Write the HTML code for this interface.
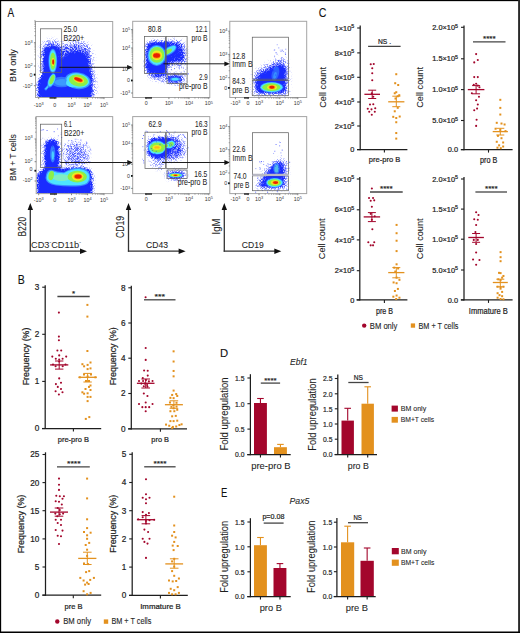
<!DOCTYPE html>
<html><head><meta charset="utf-8"><title>Figure</title>
<style>html,body{margin:0;padding:0;background:#fff;width:520px;height:633px;overflow:hidden}
svg{display:block;font-family:"Liberation Sans", sans-serif}</style></head>
<body><svg width="520" height="633" viewBox="0 0 520 633">
<defs><filter id="bl1" x="-10%" y="-10%" width="120%" height="120%"><feGaussianBlur stdDeviation="0.55"/></filter>
<filter id="spk" x="-20%" y="-20%" width="140%" height="140%" color-interpolation-filters="sRGB">
<feGaussianBlur in="SourceAlpha" stdDeviation="2.0" result="b"/>
<feTurbulence type="fractalNoise" baseFrequency="1.3" numOctaves="1" seed="5" result="n"/>
<feColorMatrix in="n" type="matrix" values="0 0 0 0 0  0 0 0 0 0  0 0 0 0 0  4 0 0 0 -1.5" result="na"/>
<feComposite in="b" in2="na" operator="arithmetic" k1="0" k2="2.0" k3="0.75" k4="-0.78" result="m"/>
<feFlood flood-color="#1a2cff"/>
<feComposite in2="m" operator="in"/>
</filter>
<filter id="spkw" x="-20%" y="-20%" width="140%" height="140%" color-interpolation-filters="sRGB">
<feGaussianBlur in="SourceAlpha" stdDeviation="3.2" result="b"/>
<feTurbulence type="fractalNoise" baseFrequency="1.3" numOctaves="1" seed="9" result="n"/>
<feColorMatrix in="n" type="matrix" values="0 0 0 0 0  0 0 0 0 0  0 0 0 0 0  4 0 0 0 -1.5" result="na"/>
<feComposite in="b" in2="na" operator="arithmetic" k1="0" k2="1.9" k3="0.75" k4="-0.8" result="m"/>
<feFlood flood-color="#1a2cff"/>
<feComposite in2="m" operator="in"/>
</filter>
<filter id="bl2" x="-20%" y="-20%" width="140%" height="140%"><feGaussianBlur stdDeviation="0.9"/></filter></defs>
<rect x="0" y="0" width="520" height="633" fill="#fff"/>
<clipPath id="fc1"><rect x="35.5" y="21.5" width="77.2" height="76"/></clipPath>
<g clip-path="url(#fc1)">
<g filter="url(#spkw)">
<path d="M58,74 L58.5,51 Q62,42 76,41.5 Q90,42 92,52 L92.8,68 Q95,80 95,98 L58,98 Z" fill="#1a2cff" opacity="0.55"/>
<path d="M41.5,74 L41.5,48 Q42.5,40.5 52,40.5 Q61.5,40.5 62,48 L62,74 Z" fill="#1a2cff" opacity="0.55"/>
</g>
<g filter="url(#spk)">
<path d="M62.5,74 L63,60 Q66,51.5 77,51 Q88,51.5 89.2,60 L89.6,70 Q91.5,80 91.8,98 L62.5,98 Z" fill="#1a2cff"/>
<path d="M43.4,74 L43.4,52 Q44,45.5 52,45.5 Q60.4,45.5 60.4,52 L60.4,74 Z" fill="#1a2cff"/>
<path d="M59,74 L59,60 L64,60 L64,74 Z" fill="#1a2cff" opacity="0.8"/>
<path d="M37.6,99 L38,83 Q40.5,75 45,72.5 L92,72.5 L92,99 Z" fill="#1a2cff"/>
</g>
<g filter="url(#bl1)">
<ellipse cx="61.5" cy="82" rx="10.5" ry="5.2" fill="#3a8cff" opacity="0.75"/>
<ellipse cx="62.5" cy="82.3" rx="8" ry="3.4" fill="#4ee4ff" opacity="0.35"/>
<path d="M51,83 Q48,86.5 45,89.8" stroke="#3a8cff" stroke-width="2.6" fill="none" opacity="0.9"/>
<path d="M51,83 Q48,86.5 45.5,89.3" stroke="#4ee4ff" stroke-width="1.3" fill="none" opacity="0.8"/>
<ellipse cx="51.6" cy="80.5" rx="3.4" ry="7.3" fill="#3a8cff" transform="rotate(22 51.6 80.5)"/>
<ellipse cx="51.7" cy="80.2" rx="2.9" ry="6.4" fill="#4ee4ff" transform="rotate(22 51.7 80.2)"/>
<ellipse cx="52" cy="79.6" rx="2" ry="4.9" fill="#8cf046" transform="rotate(20 52 79.6)"/>
<ellipse cx="52.8" cy="61.1" rx="4.4" ry="12.3" fill="#3a8cff"/>
<ellipse cx="52.8" cy="61.1" rx="3.6" ry="11" fill="#4ee4ff"/>
<ellipse cx="52.85" cy="61.1" rx="2.85" ry="8.7" fill="#8cf046"/>
<ellipse cx="53" cy="62" rx="1.55" ry="4.1" fill="#f2ec22"/>
<ellipse cx="53.2" cy="62" rx="1.2" ry="3.1" fill="#ff9410"/>
<ellipse cx="53.2" cy="62" rx="0.9" ry="2.4" fill="#e82400"/>
<ellipse cx="77.8" cy="80.7" rx="13" ry="8.3" fill="#3a8cff" transform="rotate(8 77.8 80.7)"/>
<ellipse cx="77.8" cy="80.6" rx="11.5" ry="7.1" fill="#4ee4ff" transform="rotate(8 77.8 80.6)"/>
<ellipse cx="72.5" cy="83" rx="6.5" ry="4.2" fill="#4ee4ff"/>
<ellipse cx="78.4" cy="80.6" rx="9.6" ry="5.85" fill="#8cf046" transform="rotate(10 78.4 80.6)"/>
<ellipse cx="78.7" cy="79.8" rx="5.6" ry="3" fill="#f2ec22" transform="rotate(18 78.7 79.8)"/>
<ellipse cx="78.5" cy="79.6" rx="4.8" ry="2.2" fill="#ff9410" transform="rotate(20 78.5 79.6)"/>
<ellipse cx="78.3" cy="79.5" rx="4.2" ry="1.6" fill="#e82400" transform="rotate(20 78.3 79.5)"/>
</g>
</g>
<rect x="35.5" y="21.5" width="77.2" height="76" fill="none" stroke="#a4a4a4" stroke-width="1.0"/>
<rect x="40.5" y="28.8" width="21.2" height="43.5" fill="none" stroke="#626262" stroke-width="0.75"/>
<line x1="33.9" y1="42.7" x2="35.5" y2="42.7" stroke="#555" stroke-width="0.7"/>
<line x1="33.9" y1="66" x2="35.5" y2="66" stroke="#555" stroke-width="0.7"/>
<line x1="33.9" y1="75" x2="35.5" y2="75" stroke="#555" stroke-width="0.7"/>
<line x1="33.9" y1="85.7" x2="35.5" y2="85.7" stroke="#555" stroke-width="0.7"/>
<line x1="38.7" y1="97.5" x2="38.7" y2="99.1" stroke="#555" stroke-width="0.7"/>
<line x1="54.7" y1="97.5" x2="54.7" y2="99.1" stroke="#555" stroke-width="0.7"/>
<line x1="71.5" y1="97.5" x2="71.5" y2="99.1" stroke="#555" stroke-width="0.7"/>
<line x1="87.6" y1="97.5" x2="87.6" y2="99.1" stroke="#555" stroke-width="0.7"/>
<line x1="104" y1="97.5" x2="104" y2="99.1" stroke="#555" stroke-width="0.7"/>
<line x1="34.4" y1="58.99" x2="35.5" y2="58.99" stroke="#666" stroke-width="0.6"/>
<line x1="34.4" y1="54.88" x2="35.5" y2="54.88" stroke="#666" stroke-width="0.6"/>
<line x1="34.4" y1="51.97" x2="35.5" y2="51.97" stroke="#666" stroke-width="0.6"/>
<line x1="34.4" y1="49.71" x2="35.5" y2="49.71" stroke="#666" stroke-width="0.6"/>
<line x1="34.4" y1="47.87" x2="35.5" y2="47.87" stroke="#666" stroke-width="0.6"/>
<line x1="34.4" y1="46.31" x2="35.5" y2="46.31" stroke="#666" stroke-width="0.6"/>
<line x1="34.4" y1="44.96" x2="35.5" y2="44.96" stroke="#666" stroke-width="0.6"/>
<line x1="34.4" y1="43.77" x2="35.5" y2="43.77" stroke="#666" stroke-width="0.6"/>
<line x1="34.4" y1="35.69" x2="35.5" y2="35.69" stroke="#666" stroke-width="0.6"/>
<line x1="34.4" y1="31.58" x2="35.5" y2="31.58" stroke="#666" stroke-width="0.6"/>
<line x1="34.4" y1="28.67" x2="35.5" y2="28.67" stroke="#666" stroke-width="0.6"/>
<line x1="34.4" y1="26.41" x2="35.5" y2="26.41" stroke="#666" stroke-width="0.6"/>
<line x1="34.4" y1="24.57" x2="35.5" y2="24.57" stroke="#666" stroke-width="0.6"/>
<line x1="34.4" y1="23.01" x2="35.5" y2="23.01" stroke="#666" stroke-width="0.6"/>
<line x1="34.4" y1="21.66" x2="35.5" y2="21.66" stroke="#666" stroke-width="0.6"/>
<line x1="34.4" y1="20.47" x2="35.5" y2="20.47" stroke="#666" stroke-width="0.6"/>
<line x1="76.35" y1="97.5" x2="76.35" y2="98.6" stroke="#666" stroke-width="0.6"/>
<line x1="79.18" y1="97.5" x2="79.18" y2="98.6" stroke="#666" stroke-width="0.6"/>
<line x1="81.19" y1="97.5" x2="81.19" y2="98.6" stroke="#666" stroke-width="0.6"/>
<line x1="82.75" y1="97.5" x2="82.75" y2="98.6" stroke="#666" stroke-width="0.6"/>
<line x1="84.03" y1="97.5" x2="84.03" y2="98.6" stroke="#666" stroke-width="0.6"/>
<line x1="85.11" y1="97.5" x2="85.11" y2="98.6" stroke="#666" stroke-width="0.6"/>
<line x1="86.04" y1="97.5" x2="86.04" y2="98.6" stroke="#666" stroke-width="0.6"/>
<line x1="86.86" y1="97.5" x2="86.86" y2="98.6" stroke="#666" stroke-width="0.6"/>
<line x1="92.54" y1="97.5" x2="92.54" y2="98.6" stroke="#666" stroke-width="0.6"/>
<line x1="95.42" y1="97.5" x2="95.42" y2="98.6" stroke="#666" stroke-width="0.6"/>
<line x1="97.47" y1="97.5" x2="97.47" y2="98.6" stroke="#666" stroke-width="0.6"/>
<line x1="99.06" y1="97.5" x2="99.06" y2="98.6" stroke="#666" stroke-width="0.6"/>
<line x1="100.36" y1="97.5" x2="100.36" y2="98.6" stroke="#666" stroke-width="0.6"/>
<line x1="101.46" y1="97.5" x2="101.46" y2="98.6" stroke="#666" stroke-width="0.6"/>
<line x1="102.41" y1="97.5" x2="102.41" y2="98.6" stroke="#666" stroke-width="0.6"/>
<line x1="103.25" y1="97.5" x2="103.25" y2="98.6" stroke="#666" stroke-width="0.6"/>
<rect x="33.8" y="73.7" width="1.6" height="1.8" fill="#111"/>
<rect x="49.5" y="97.2" width="7" height="1.4" fill="#222"/>
<text x="70.35" y="32" font-size="8.3" text-anchor="middle" fill="#1e1e1e" textLength="13.7" lengthAdjust="spacingAndGlyphs" stroke="#1e1e1e" stroke-width="0.06" style="">25.0</text>
<text x="73.85" y="40.9" font-size="8.3" text-anchor="middle" fill="#1e1e1e" textLength="20.7" lengthAdjust="spacingAndGlyphs" stroke="#1e1e1e" stroke-width="0.06" style="">B220+</text>
<text x="32.5" y="44.71" font-size="5.3" text-anchor="end" fill="#333">10<tspan font-size="0.72em" dy="-0.45em">3</tspan></text>
<text x="32.5" y="68.01" font-size="5.3" text-anchor="end" fill="#333">10<tspan font-size="0.72em" dy="-0.45em">2</tspan></text>
<text x="32.5" y="77.01" font-size="5.3" text-anchor="end" fill="#333">0</text>
<text x="32.5" y="87.71" font-size="5.3" text-anchor="end" fill="#333">-10<tspan font-size="0.72em" dy="-0.45em">2</tspan></text>
<text x="38.7" y="106.56" font-size="5.3" text-anchor="middle" fill="#333">-10<tspan font-size="0.72em" dy="-0.45em">3</tspan></text>
<text x="54.7" y="106.56" font-size="5.3" text-anchor="middle" fill="#333">0</text>
<text x="71.5" y="106.56" font-size="5.3" text-anchor="middle" fill="#333">10<tspan font-size="0.72em" dy="-0.45em">3</tspan></text>
<text x="87.6" y="106.56" font-size="5.3" text-anchor="middle" fill="#333">10<tspan font-size="0.72em" dy="-0.45em">4</tspan></text>
<text x="104" y="106.56" font-size="5.3" text-anchor="middle" fill="#333">10<tspan font-size="0.72em" dy="-0.45em">5</tspan></text>
<line x1="59.4" y1="67.3" x2="128.1" y2="67.3" stroke="#111" stroke-width="0.95"/>
<path d="M132.6 67.3L127.1 64.9L127.1 69.7z" fill="#111"/>
<clipPath id="fc2"><rect x="132.7" y="21.3" width="77.1" height="76.2"/></clipPath>
<g clip-path="url(#fc2)">
<g filter="url(#spkw)">
<path d="M166,60 L166,43.5 Q170,41 178,41.5 Q183.5,42.5 184.5,50 L185,62 Q180,64 166,62 Z" fill="#1a2cff" opacity="0.92"/>
<path d="M148,74 Q152,78.5 160,78.5 Q165,78 167,74 L160,70 Z" fill="#1a2cff"/>
<ellipse cx="175.5" cy="79" rx="9.3" ry="3.6" fill="#1a2cff"/>
</g>
<g filter="url(#spk)">
<path d="M146,48.5 Q146.4,42 153,41.8 L166,41.8 L172,43 L172,60 L167,66 L166.5,74 L150,74 Q146,73 146,66 Z" fill="#1a2cff"/>
<ellipse cx="175.4" cy="79" rx="8.2" ry="2.9" fill="#1a2cff"/>
</g>
<g filter="url(#bl1)">
<ellipse cx="175.1" cy="79.2" rx="5.6" ry="2" fill="#3a8cff"/>
<ellipse cx="175.1" cy="79.2" rx="3.5" ry="1.15" fill="#4ee4ff"/>
<ellipse cx="169.5" cy="50.5" rx="8" ry="3.8" fill="#3a8cff" transform="rotate(-33 169.5 50.5)"/>
<ellipse cx="169.8" cy="50.2" rx="6.8" ry="2.8" fill="#4ee4ff" transform="rotate(-33 169.8 50.2)"/>
<ellipse cx="168" cy="51.6" rx="4.6" ry="1.9" fill="#8cf046" transform="rotate(-33 168 51.6)"/>
<ellipse cx="156.7" cy="55.4" rx="9.3" ry="10.5" fill="#3a8cff"/>
<ellipse cx="156.7" cy="55.4" rx="8.2" ry="9.5" fill="#4ee4ff"/>
<ellipse cx="156.9" cy="54.9" rx="7.4" ry="7.9" fill="#8cf046"/>
<ellipse cx="156.9" cy="55.4" rx="5.3" ry="4.8" fill="#f2ec22"/>
<ellipse cx="156.7" cy="55.5" rx="4" ry="3.1" fill="#ff9410"/>
<ellipse cx="156.6" cy="55.5" rx="3.4" ry="2.2" fill="#e82400"/>
</g>
<rect x="173.12" y="60.72" width="0.9" height="0.9" fill="#1a2cff" opacity="0.71"/>
<rect x="167.59" y="67.65" width="0.9" height="0.9" fill="#1a2cff" opacity="0.55"/>
<rect x="167.28" y="67.13" width="0.9" height="0.9" fill="#1a2cff" opacity="0.37"/>
<rect x="175.54" y="59.26" width="0.9" height="0.9" fill="#1a2cff" opacity="0.4"/>
<rect x="175.34" y="72.88" width="0.9" height="0.9" fill="#1a2cff" opacity="0.42"/>
<rect x="170.91" y="69.29" width="0.9" height="0.9" fill="#1a2cff" opacity="0.87"/>
<rect x="178.7" y="65.14" width="0.9" height="0.9" fill="#1a2cff" opacity="0.89"/>
<rect x="167.02" y="73.45" width="0.9" height="0.9" fill="#1a2cff" opacity="0.51"/>
<rect x="169.17" y="60.12" width="0.9" height="0.9" fill="#1a2cff" opacity="0.52"/>
<rect x="183.95" y="61.25" width="0.9" height="0.9" fill="#1a2cff" opacity="0.67"/>
<rect x="180.06" y="64.7" width="0.9" height="0.9" fill="#1a2cff" opacity="0.65"/>
<rect x="167.38" y="59.07" width="0.9" height="0.9" fill="#1a2cff" opacity="0.46"/>
<rect x="180.97" y="65.7" width="0.9" height="0.9" fill="#1a2cff" opacity="0.52"/>
<rect x="178.88" y="66.16" width="0.9" height="0.9" fill="#1a2cff" opacity="0.51"/>
<rect x="183.48" y="70.58" width="0.9" height="0.9" fill="#1a2cff" opacity="0.48"/>
<rect x="178.64" y="67.45" width="0.9" height="0.9" fill="#1a2cff" opacity="0.83"/>
<rect x="182.05" y="63.18" width="0.9" height="0.9" fill="#1a2cff" opacity="0.89"/>
<rect x="168.6" y="65.53" width="0.9" height="0.9" fill="#1a2cff" opacity="0.77"/>
<rect x="169.34" y="66.8" width="0.9" height="0.9" fill="#1a2cff" opacity="0.37"/>
<rect x="180.7" y="71.76" width="0.9" height="0.9" fill="#1a2cff" opacity="0.67"/>
<rect x="185.26" y="63.65" width="0.9" height="0.9" fill="#1a2cff" opacity="0.73"/>
<rect x="179.08" y="68.44" width="0.9" height="0.9" fill="#1a2cff" opacity="0.6"/>
<rect x="184.48" y="75" width="0.9" height="0.9" fill="#1a2cff" opacity="0.61"/>
<rect x="180.61" y="59.09" width="0.9" height="0.9" fill="#1a2cff" opacity="0.74"/>
<rect x="180.24" y="75.88" width="0.9" height="0.9" fill="#1a2cff" opacity="0.8"/>
<rect x="172.26" y="64.94" width="0.9" height="0.9" fill="#1a2cff" opacity="0.72"/>
<rect x="166.5" y="66.31" width="0.9" height="0.9" fill="#1a2cff" opacity="0.44"/>
<rect x="168.58" y="59.06" width="0.9" height="0.9" fill="#1a2cff" opacity="0.77"/>
<rect x="168.85" y="62.46" width="0.9" height="0.9" fill="#1a2cff" opacity="0.57"/>
<rect x="185.17" y="59.45" width="0.9" height="0.9" fill="#1a2cff" opacity="0.6"/>
<rect x="178.09" y="73.9" width="0.9" height="0.9" fill="#1a2cff" opacity="0.8"/>
<rect x="185.01" y="63.01" width="0.9" height="0.9" fill="#1a2cff" opacity="0.58"/>
<rect x="173.89" y="73.92" width="0.9" height="0.9" fill="#1a2cff" opacity="0.88"/>
<rect x="169.32" y="61.17" width="0.9" height="0.9" fill="#1a2cff" opacity="0.48"/>
<rect x="171.13" y="66.73" width="0.9" height="0.9" fill="#1a2cff" opacity="0.67"/>
<rect x="171.78" y="58.07" width="0.9" height="0.9" fill="#1a2cff" opacity="0.58"/>
<rect x="174.12" y="68.19" width="0.9" height="0.9" fill="#1a2cff" opacity="0.87"/>
<rect x="181.19" y="67.28" width="0.9" height="0.9" fill="#1a2cff" opacity="0.69"/>
<rect x="180.88" y="58.97" width="0.9" height="0.9" fill="#1a2cff" opacity="0.84"/>
<rect x="183.16" y="73.74" width="0.9" height="0.9" fill="#1a2cff" opacity="0.79"/>
<rect x="174.63" y="65.18" width="0.9" height="0.9" fill="#1a2cff" opacity="0.41"/>
<rect x="179.95" y="59.12" width="0.9" height="0.9" fill="#1a2cff" opacity="0.39"/>
<rect x="170.59" y="60.92" width="0.9" height="0.9" fill="#1a2cff" opacity="0.54"/>
<rect x="167.16" y="58" width="0.9" height="0.9" fill="#1a2cff" opacity="0.43"/>
<rect x="168.23" y="64.54" width="0.9" height="0.9" fill="#1a2cff" opacity="0.36"/>
<rect x="185.24" y="69.05" width="0.9" height="0.9" fill="#1a2cff" opacity="0.43"/>
<rect x="171.55" y="64.25" width="0.9" height="0.9" fill="#1a2cff" opacity="0.55"/>
<rect x="168.7" y="73.28" width="0.9" height="0.9" fill="#1a2cff" opacity="0.9"/>
<rect x="176.25" y="66.71" width="0.9" height="0.9" fill="#1a2cff" opacity="0.4"/>
<rect x="168.25" y="64.17" width="0.9" height="0.9" fill="#1a2cff" opacity="0.5"/>
<rect x="184.23" y="60.91" width="0.9" height="0.9" fill="#1a2cff" opacity="0.36"/>
<rect x="186.92" y="67.51" width="0.9" height="0.9" fill="#1a2cff" opacity="0.43"/>
<rect x="177.95" y="58.49" width="0.9" height="0.9" fill="#1a2cff" opacity="0.64"/>
<rect x="187.53" y="73.54" width="0.9" height="0.9" fill="#1a2cff" opacity="0.73"/>
<rect x="171.74" y="64.6" width="0.9" height="0.9" fill="#1a2cff" opacity="0.44"/>
<rect x="182.98" y="67.59" width="0.9" height="0.9" fill="#1a2cff" opacity="0.78"/>
<rect x="173.25" y="62.01" width="0.9" height="0.9" fill="#1a2cff" opacity="0.8"/>
<rect x="187.67" y="73.35" width="0.9" height="0.9" fill="#1a2cff" opacity="0.79"/>
<rect x="184" y="71.32" width="0.9" height="0.9" fill="#1a2cff" opacity="0.47"/>
<rect x="177.39" y="64.4" width="0.9" height="0.9" fill="#1a2cff" opacity="0.37"/>
<rect x="148.61" y="74.79" width="0.9" height="0.9" fill="#1a2cff" opacity="0.49"/>
<rect x="163.24" y="81.57" width="0.9" height="0.9" fill="#1a2cff" opacity="0.6"/>
<rect x="168.61" y="81.88" width="0.9" height="0.9" fill="#1a2cff" opacity="0.88"/>
<rect x="156.02" y="74.2" width="0.9" height="0.9" fill="#1a2cff" opacity="0.47"/>
<rect x="152.33" y="74.04" width="0.9" height="0.9" fill="#1a2cff" opacity="0.69"/>
<rect x="167.81" y="80.4" width="0.9" height="0.9" fill="#1a2cff" opacity="0.61"/>
<rect x="162.37" y="80" width="0.9" height="0.9" fill="#1a2cff" opacity="0.4"/>
<rect x="162.53" y="81.1" width="0.9" height="0.9" fill="#1a2cff" opacity="0.78"/>
<rect x="164.5" y="76.78" width="0.9" height="0.9" fill="#1a2cff" opacity="0.45"/>
<rect x="165.36" y="75.33" width="0.9" height="0.9" fill="#1a2cff" opacity="0.79"/>
<rect x="169.38" y="75.96" width="0.9" height="0.9" fill="#1a2cff" opacity="0.57"/>
<rect x="168.83" y="79.25" width="0.9" height="0.9" fill="#1a2cff" opacity="0.44"/>
<rect x="150.79" y="73.51" width="0.9" height="0.9" fill="#1a2cff" opacity="0.85"/>
<rect x="165.74" y="73.46" width="0.9" height="0.9" fill="#1a2cff" opacity="0.8"/>
<rect x="169.57" y="78.57" width="0.9" height="0.9" fill="#1a2cff" opacity="0.54"/>
<rect x="160.07" y="73.31" width="0.9" height="0.9" fill="#1a2cff" opacity="0.36"/>
<rect x="169.36" y="78.5" width="0.9" height="0.9" fill="#1a2cff" opacity="0.64"/>
<rect x="168.54" y="76.34" width="0.9" height="0.9" fill="#1a2cff" opacity="0.83"/>
<rect x="166.18" y="74.11" width="0.9" height="0.9" fill="#1a2cff" opacity="0.49"/>
<rect x="154.45" y="74.41" width="0.9" height="0.9" fill="#1a2cff" opacity="0.67"/>
<rect x="153.71" y="76.19" width="0.9" height="0.9" fill="#1a2cff" opacity="0.42"/>
<rect x="168.02" y="75.54" width="0.9" height="0.9" fill="#1a2cff" opacity="0.6"/>
<rect x="160.83" y="81.04" width="0.9" height="0.9" fill="#1a2cff" opacity="0.58"/>
<rect x="168.19" y="77.02" width="0.9" height="0.9" fill="#1a2cff" opacity="0.64"/>
<rect x="159.52" y="72.19" width="0.9" height="0.9" fill="#1a2cff" opacity="0.59"/>
<rect x="152.03" y="72.04" width="0.9" height="0.9" fill="#1a2cff" opacity="0.79"/>
<rect x="151.79" y="76.73" width="0.9" height="0.9" fill="#1a2cff" opacity="0.75"/>
<rect x="160.24" y="75.26" width="0.9" height="0.9" fill="#1a2cff" opacity="0.64"/>
<rect x="160.22" y="79.84" width="0.9" height="0.9" fill="#1a2cff" opacity="0.41"/>
<rect x="160.33" y="74.48" width="0.9" height="0.9" fill="#1a2cff" opacity="0.5"/>
</g>
<rect x="132.7" y="21.3" width="77.1" height="76.2" fill="none" stroke="#a4a4a4" stroke-width="1.0"/>
<rect x="144.6" y="36.6" width="20.9" height="36.9" fill="none" stroke="#626262" stroke-width="0.75"/>
<rect x="166.2" y="36.6" width="20.9" height="36.9" fill="none" stroke="#626262" stroke-width="0.75"/>
<rect x="167" y="74.3" width="20.1" height="9.1" fill="none" stroke="#626262" stroke-width="0.75"/>
<line x1="131.1" y1="29.6" x2="132.7" y2="29.6" stroke="#555" stroke-width="0.7"/>
<line x1="131.1" y1="48" x2="132.7" y2="48" stroke="#555" stroke-width="0.7"/>
<line x1="131.1" y1="68.9" x2="132.7" y2="68.9" stroke="#555" stroke-width="0.7"/>
<line x1="131.1" y1="80.4" x2="132.7" y2="80.4" stroke="#555" stroke-width="0.7"/>
<line x1="131.1" y1="93" x2="132.7" y2="93" stroke="#555" stroke-width="0.7"/>
<line x1="146.2" y1="97.5" x2="146.2" y2="99.1" stroke="#555" stroke-width="0.7"/>
<line x1="168.9" y1="97.5" x2="168.9" y2="99.1" stroke="#555" stroke-width="0.7"/>
<line x1="189" y1="97.5" x2="189" y2="99.1" stroke="#555" stroke-width="0.7"/>
<line x1="208.8" y1="97.5" x2="208.8" y2="99.1" stroke="#555" stroke-width="0.7"/>
<line x1="131.6" y1="62.61" x2="132.7" y2="62.61" stroke="#666" stroke-width="0.6"/>
<line x1="131.6" y1="58.93" x2="132.7" y2="58.93" stroke="#666" stroke-width="0.6"/>
<line x1="131.6" y1="56.32" x2="132.7" y2="56.32" stroke="#666" stroke-width="0.6"/>
<line x1="131.6" y1="54.29" x2="132.7" y2="54.29" stroke="#666" stroke-width="0.6"/>
<line x1="131.6" y1="52.64" x2="132.7" y2="52.64" stroke="#666" stroke-width="0.6"/>
<line x1="131.6" y1="51.24" x2="132.7" y2="51.24" stroke="#666" stroke-width="0.6"/>
<line x1="131.6" y1="50.03" x2="132.7" y2="50.03" stroke="#666" stroke-width="0.6"/>
<line x1="131.6" y1="48.96" x2="132.7" y2="48.96" stroke="#666" stroke-width="0.6"/>
<line x1="131.6" y1="42.46" x2="132.7" y2="42.46" stroke="#666" stroke-width="0.6"/>
<line x1="131.6" y1="39.22" x2="132.7" y2="39.22" stroke="#666" stroke-width="0.6"/>
<line x1="131.6" y1="36.92" x2="132.7" y2="36.92" stroke="#666" stroke-width="0.6"/>
<line x1="131.6" y1="35.14" x2="132.7" y2="35.14" stroke="#666" stroke-width="0.6"/>
<line x1="131.6" y1="33.68" x2="132.7" y2="33.68" stroke="#666" stroke-width="0.6"/>
<line x1="131.6" y1="32.45" x2="132.7" y2="32.45" stroke="#666" stroke-width="0.6"/>
<line x1="131.6" y1="31.38" x2="132.7" y2="31.38" stroke="#666" stroke-width="0.6"/>
<line x1="131.6" y1="30.44" x2="132.7" y2="30.44" stroke="#666" stroke-width="0.6"/>
<line x1="174.95" y1="97.5" x2="174.95" y2="98.6" stroke="#666" stroke-width="0.6"/>
<line x1="178.49" y1="97.5" x2="178.49" y2="98.6" stroke="#666" stroke-width="0.6"/>
<line x1="181" y1="97.5" x2="181" y2="98.6" stroke="#666" stroke-width="0.6"/>
<line x1="182.95" y1="97.5" x2="182.95" y2="98.6" stroke="#666" stroke-width="0.6"/>
<line x1="184.54" y1="97.5" x2="184.54" y2="98.6" stroke="#666" stroke-width="0.6"/>
<line x1="185.89" y1="97.5" x2="185.89" y2="98.6" stroke="#666" stroke-width="0.6"/>
<line x1="187.05" y1="97.5" x2="187.05" y2="98.6" stroke="#666" stroke-width="0.6"/>
<line x1="188.08" y1="97.5" x2="188.08" y2="98.6" stroke="#666" stroke-width="0.6"/>
<line x1="194.96" y1="97.5" x2="194.96" y2="98.6" stroke="#666" stroke-width="0.6"/>
<line x1="198.45" y1="97.5" x2="198.45" y2="98.6" stroke="#666" stroke-width="0.6"/>
<line x1="200.92" y1="97.5" x2="200.92" y2="98.6" stroke="#666" stroke-width="0.6"/>
<line x1="202.84" y1="97.5" x2="202.84" y2="98.6" stroke="#666" stroke-width="0.6"/>
<line x1="204.41" y1="97.5" x2="204.41" y2="98.6" stroke="#666" stroke-width="0.6"/>
<line x1="205.73" y1="97.5" x2="205.73" y2="98.6" stroke="#666" stroke-width="0.6"/>
<line x1="206.88" y1="97.5" x2="206.88" y2="98.6" stroke="#666" stroke-width="0.6"/>
<line x1="207.89" y1="97.5" x2="207.89" y2="98.6" stroke="#666" stroke-width="0.6"/>
<rect x="131" y="79.6" width="1.6" height="1.8" fill="#111"/>
<rect x="145" y="97.2" width="7" height="1.4" fill="#222"/>
<text x="154.6" y="32.3" font-size="8.3" text-anchor="middle" fill="#1e1e1e" textLength="13.2" lengthAdjust="spacingAndGlyphs" stroke="#1e1e1e" stroke-width="0.06" style="">80.8</text>
<text x="201.5" y="32.3" font-size="8.3" text-anchor="middle" fill="#1e1e1e" textLength="12.2" lengthAdjust="spacingAndGlyphs" stroke="#1e1e1e" stroke-width="0.06" style="">12.1</text>
<text x="199.6" y="40.8" font-size="8.3" text-anchor="middle" fill="#1e1e1e" textLength="16" lengthAdjust="spacingAndGlyphs" stroke="#1e1e1e" stroke-width="0.06" style="">pro B</text>
<text x="203.3" y="80.2" font-size="8.3" text-anchor="middle" fill="#1e1e1e" textLength="8.6" lengthAdjust="spacingAndGlyphs" stroke="#1e1e1e" stroke-width="0.06" style="">2.9</text>
<text x="193.3" y="89.1" font-size="8.3" text-anchor="middle" fill="#1e1e1e" textLength="28.6" lengthAdjust="spacingAndGlyphs" stroke="#1e1e1e" stroke-width="0.06" style="">pre-pro B</text>
<text x="130" y="31.61" font-size="5.3" text-anchor="end" fill="#333">10<tspan font-size="0.72em" dy="-0.45em">5</tspan></text>
<text x="130" y="50.01" font-size="5.3" text-anchor="end" fill="#333">10<tspan font-size="0.72em" dy="-0.45em">4</tspan></text>
<text x="130" y="70.91" font-size="5.3" text-anchor="end" fill="#333">10<tspan font-size="0.72em" dy="-0.45em">3</tspan></text>
<text x="130" y="82.41" font-size="5.3" text-anchor="end" fill="#333">0</text>
<text x="130" y="95.01" font-size="5.3" text-anchor="end" fill="#333">-10<tspan font-size="0.72em" dy="-0.45em">3</tspan></text>
<text x="146.2" y="105.36" font-size="5.3" text-anchor="middle" fill="#333">0</text>
<text x="168.9" y="105.36" font-size="5.3" text-anchor="middle" fill="#333">10<tspan font-size="0.72em" dy="-0.45em">3</tspan></text>
<text x="189" y="105.36" font-size="5.3" text-anchor="middle" fill="#333">10<tspan font-size="0.72em" dy="-0.45em">4</tspan></text>
<text x="208.8" y="105.36" font-size="5.3" text-anchor="middle" fill="#333">10<tspan font-size="0.72em" dy="-0.45em">5</tspan></text>
<line x1="163.5" y1="63.8" x2="225.4" y2="63.8" stroke="#111" stroke-width="0.95"/>
<path d="M229.9 63.8L224.4 61.4L224.4 66.2z" fill="#111"/>
<clipPath id="fc3"><rect x="229.8" y="21.3" width="76.9" height="76.2"/></clipPath>
<g clip-path="url(#fc3)">
<g filter="url(#spkw)">
<path d="M253.8,94.5 L253.8,73.5 Q262,67 278.5,59.5 L283.5,59 Q287.8,60 287.8,68 L287.8,94.5 Z" fill="#1a2cff" opacity="0.6"/>
</g>
<g filter="url(#spk)">
<path d="M256.5,93 L256.5,78 Q263,72 278,65 L282,64.5 Q285.3,65.5 285.3,70 L285.3,93 Z" fill="#1a2cff"/>
</g>
<g filter="url(#bl1)">
<ellipse cx="275.4" cy="73.6" rx="3.6" ry="7.4" fill="#3a8cff" transform="rotate(14 275.4 73.6)" opacity="0.55"/>
<ellipse cx="275" cy="75.5" rx="1.6" ry="3.6" fill="#4ee4ff" transform="rotate(14 275 75.5)" opacity="0.35"/>
<ellipse cx="271.6" cy="87.2" rx="11.6" ry="5.2" fill="#3a8cff"/>
<ellipse cx="271.6" cy="87.2" rx="10.8" ry="4.7" fill="#4ee4ff"/>
<ellipse cx="271.4" cy="87.2" rx="9" ry="3.9" fill="#8cf046"/>
<ellipse cx="272.1" cy="87.2" rx="4.9" ry="2.5" fill="#f2ec22"/>
<ellipse cx="272" cy="87.2" rx="3.3" ry="1.9" fill="#ff9410"/>
<ellipse cx="271.9" cy="87.2" rx="2.5" ry="1.45" fill="#e82400"/>
</g>
<rect x="282.81" y="51.17" width="0.9" height="0.9" fill="#1a2cff" opacity="0.66"/>
<rect x="282.64" y="60.07" width="0.9" height="0.9" fill="#1a2cff" opacity="0.59"/>
<rect x="280.58" y="51.12" width="0.9" height="0.9" fill="#1a2cff" opacity="0.63"/>
<rect x="281.7" y="49.95" width="0.9" height="0.9" fill="#1a2cff" opacity="0.64"/>
<rect x="278.69" y="60.71" width="0.9" height="0.9" fill="#1a2cff" opacity="0.73"/>
<rect x="275.63" y="52.31" width="0.9" height="0.9" fill="#1a2cff" opacity="0.87"/>
<rect x="273.7" y="49.73" width="0.9" height="0.9" fill="#1a2cff" opacity="0.39"/>
<rect x="281.37" y="57.25" width="0.9" height="0.9" fill="#1a2cff" opacity="0.84"/>
<rect x="274.16" y="55.75" width="0.9" height="0.9" fill="#1a2cff" opacity="0.71"/>
<rect x="285.34" y="48.76" width="0.9" height="0.9" fill="#1a2cff" opacity="0.62"/>
<rect x="274.26" y="49.49" width="0.9" height="0.9" fill="#1a2cff" opacity="0.63"/>
<rect x="276.75" y="44.31" width="0.9" height="0.9" fill="#1a2cff" opacity="0.53"/>
<rect x="279.76" y="49.69" width="0.9" height="0.9" fill="#1a2cff" opacity="0.36"/>
<rect x="276.64" y="53.73" width="0.9" height="0.9" fill="#1a2cff" opacity="0.63"/>
<rect x="277.91" y="60.05" width="0.9" height="0.9" fill="#1a2cff" opacity="0.8"/>
<rect x="284.87" y="52.55" width="0.9" height="0.9" fill="#1a2cff" opacity="0.74"/>
<rect x="281.63" y="49.36" width="0.9" height="0.9" fill="#1a2cff" opacity="0.39"/>
<rect x="285.14" y="53.96" width="0.9" height="0.9" fill="#1a2cff" opacity="0.79"/>
<rect x="278.35" y="47.46" width="0.9" height="0.9" fill="#1a2cff" opacity="0.65"/>
<rect x="274.46" y="64.02" width="0.9" height="0.9" fill="#1a2cff" opacity="0.42"/>
<rect x="270.39" y="68.27" width="0.9" height="0.9" fill="#1a2cff" opacity="0.45"/>
<rect x="264.97" y="74.02" width="0.9" height="0.9" fill="#1a2cff" opacity="0.41"/>
<rect x="272.2" y="66.48" width="0.9" height="0.9" fill="#1a2cff" opacity="0.62"/>
<rect x="272.53" y="65.9" width="0.9" height="0.9" fill="#1a2cff" opacity="0.63"/>
<rect x="269.44" y="74.74" width="0.9" height="0.9" fill="#1a2cff" opacity="0.54"/>
<rect x="272.48" y="70.6" width="0.9" height="0.9" fill="#1a2cff" opacity="0.7"/>
<rect x="273.28" y="70.06" width="0.9" height="0.9" fill="#1a2cff" opacity="0.51"/>
<rect x="275.2" y="74.59" width="0.9" height="0.9" fill="#1a2cff" opacity="0.65"/>
</g>
<rect x="229.8" y="21.3" width="76.9" height="76.2" fill="none" stroke="#a4a4a4" stroke-width="1.0"/>
<rect x="252.3" y="37.2" width="36.2" height="42" fill="none" stroke="#626262" stroke-width="0.75"/>
<rect x="252.3" y="80.4" width="36.2" height="15.3" fill="none" stroke="#626262" stroke-width="0.75"/>
<line x1="228.2" y1="31.2" x2="229.8" y2="31.2" stroke="#555" stroke-width="0.7"/>
<line x1="228.2" y1="54.4" x2="229.8" y2="54.4" stroke="#555" stroke-width="0.7"/>
<line x1="228.2" y1="77.7" x2="229.8" y2="77.7" stroke="#555" stroke-width="0.7"/>
<line x1="228.2" y1="87.8" x2="229.8" y2="87.8" stroke="#555" stroke-width="0.7"/>
<line x1="235.4" y1="97.5" x2="235.4" y2="99.1" stroke="#555" stroke-width="0.7"/>
<line x1="248" y1="97.5" x2="248" y2="99.1" stroke="#555" stroke-width="0.7"/>
<line x1="259" y1="97.5" x2="259" y2="99.1" stroke="#555" stroke-width="0.7"/>
<line x1="279.8" y1="97.5" x2="279.8" y2="99.1" stroke="#555" stroke-width="0.7"/>
<line x1="297.8" y1="97.5" x2="297.8" y2="99.1" stroke="#555" stroke-width="0.7"/>
<line x1="228.7" y1="70.69" x2="229.8" y2="70.69" stroke="#666" stroke-width="0.6"/>
<line x1="228.7" y1="66.58" x2="229.8" y2="66.58" stroke="#666" stroke-width="0.6"/>
<line x1="228.7" y1="63.67" x2="229.8" y2="63.67" stroke="#666" stroke-width="0.6"/>
<line x1="228.7" y1="61.41" x2="229.8" y2="61.41" stroke="#666" stroke-width="0.6"/>
<line x1="228.7" y1="59.57" x2="229.8" y2="59.57" stroke="#666" stroke-width="0.6"/>
<line x1="228.7" y1="58.01" x2="229.8" y2="58.01" stroke="#666" stroke-width="0.6"/>
<line x1="228.7" y1="56.66" x2="229.8" y2="56.66" stroke="#666" stroke-width="0.6"/>
<line x1="228.7" y1="55.47" x2="229.8" y2="55.47" stroke="#666" stroke-width="0.6"/>
<line x1="228.7" y1="47.42" x2="229.8" y2="47.42" stroke="#666" stroke-width="0.6"/>
<line x1="228.7" y1="43.33" x2="229.8" y2="43.33" stroke="#666" stroke-width="0.6"/>
<line x1="228.7" y1="40.43" x2="229.8" y2="40.43" stroke="#666" stroke-width="0.6"/>
<line x1="228.7" y1="38.18" x2="229.8" y2="38.18" stroke="#666" stroke-width="0.6"/>
<line x1="228.7" y1="36.35" x2="229.8" y2="36.35" stroke="#666" stroke-width="0.6"/>
<line x1="228.7" y1="34.79" x2="229.8" y2="34.79" stroke="#666" stroke-width="0.6"/>
<line x1="228.7" y1="33.45" x2="229.8" y2="33.45" stroke="#666" stroke-width="0.6"/>
<line x1="228.7" y1="32.26" x2="229.8" y2="32.26" stroke="#666" stroke-width="0.6"/>
<line x1="265.26" y1="97.5" x2="265.26" y2="98.6" stroke="#666" stroke-width="0.6"/>
<line x1="268.92" y1="97.5" x2="268.92" y2="98.6" stroke="#666" stroke-width="0.6"/>
<line x1="271.52" y1="97.5" x2="271.52" y2="98.6" stroke="#666" stroke-width="0.6"/>
<line x1="273.54" y1="97.5" x2="273.54" y2="98.6" stroke="#666" stroke-width="0.6"/>
<line x1="275.19" y1="97.5" x2="275.19" y2="98.6" stroke="#666" stroke-width="0.6"/>
<line x1="276.58" y1="97.5" x2="276.58" y2="98.6" stroke="#666" stroke-width="0.6"/>
<line x1="277.78" y1="97.5" x2="277.78" y2="98.6" stroke="#666" stroke-width="0.6"/>
<line x1="278.85" y1="97.5" x2="278.85" y2="98.6" stroke="#666" stroke-width="0.6"/>
<line x1="285.22" y1="97.5" x2="285.22" y2="98.6" stroke="#666" stroke-width="0.6"/>
<line x1="288.39" y1="97.5" x2="288.39" y2="98.6" stroke="#666" stroke-width="0.6"/>
<line x1="290.64" y1="97.5" x2="290.64" y2="98.6" stroke="#666" stroke-width="0.6"/>
<line x1="292.38" y1="97.5" x2="292.38" y2="98.6" stroke="#666" stroke-width="0.6"/>
<line x1="293.81" y1="97.5" x2="293.81" y2="98.6" stroke="#666" stroke-width="0.6"/>
<line x1="295.01" y1="97.5" x2="295.01" y2="98.6" stroke="#666" stroke-width="0.6"/>
<line x1="296.06" y1="97.5" x2="296.06" y2="98.6" stroke="#666" stroke-width="0.6"/>
<line x1="296.98" y1="97.5" x2="296.98" y2="98.6" stroke="#666" stroke-width="0.6"/>
<rect x="228.1" y="87" width="1.6" height="1.8" fill="#111"/>
<rect x="244" y="97.2" width="5" height="1.4" fill="#222"/>
<text x="238.8" y="58.8" font-size="8.3" text-anchor="middle" fill="#1e1e1e" textLength="13" lengthAdjust="spacingAndGlyphs" stroke="#1e1e1e" stroke-width="0.06" style="">12.8</text>
<text x="242.45" y="67.4" font-size="8.3" text-anchor="middle" fill="#1e1e1e" textLength="20.3" lengthAdjust="spacingAndGlyphs" stroke="#1e1e1e" stroke-width="0.06" style="">Imm B</text>
<text x="238.8" y="83.6" font-size="8.3" text-anchor="middle" fill="#1e1e1e" textLength="13" lengthAdjust="spacingAndGlyphs" stroke="#1e1e1e" stroke-width="0.06" style="">84.3</text>
<text x="240.75" y="93.3" font-size="8.3" text-anchor="middle" fill="#1e1e1e" textLength="16.9" lengthAdjust="spacingAndGlyphs" stroke="#1e1e1e" stroke-width="0.06" style="">pre B</text>
<text x="227.3" y="33.21" font-size="5.3" text-anchor="end" fill="#333">10<tspan font-size="0.72em" dy="-0.45em">4</tspan></text>
<text x="227.3" y="56.41" font-size="5.3" text-anchor="end" fill="#333">10<tspan font-size="0.72em" dy="-0.45em">3</tspan></text>
<text x="227.3" y="79.71" font-size="5.3" text-anchor="end" fill="#333">10<tspan font-size="0.72em" dy="-0.45em">2</tspan></text>
<text x="227.3" y="89.81" font-size="5.3" text-anchor="end" fill="#333">0</text>
<text x="235.4" y="105.06" font-size="5.3" text-anchor="middle" fill="#333">-10<tspan font-size="0.72em" dy="-0.45em">3</tspan></text>
<text x="248" y="105.06" font-size="5.3" text-anchor="middle" fill="#333">0</text>
<text x="259" y="105.06" font-size="5.3" text-anchor="middle" fill="#333">10<tspan font-size="0.72em" dy="-0.45em">3</tspan></text>
<text x="279.8" y="105.06" font-size="5.3" text-anchor="middle" fill="#333">10<tspan font-size="0.72em" dy="-0.45em">4</tspan></text>
<text x="297.8" y="105.06" font-size="5.3" text-anchor="middle" fill="#333">10<tspan font-size="0.72em" dy="-0.45em">5</tspan></text>
<clipPath id="fc4"><rect x="36.2" y="116.6" width="76.5" height="77"/></clipPath>
<g clip-path="url(#fc4)">
<g filter="url(#spkw)">
<path d="M64,166 L64,152 Q67,142 76,142 Q87,142.5 88,152 L88.5,166 Z" fill="#1a2cff" opacity="0.42"/>
</g>
<g filter="url(#spk)">
<path d="M44.6,170 L44.6,147 Q45,139.8 52,139.8 Q59,139.8 59,147 L59,170 Z" fill="#1a2cff"/>
<path d="M37.2,195 L37.4,176 Q40,168.6 50,168.4 L86,168.4 Q92,169 92.2,178 L92.2,195 Z" fill="#1a2cff"/>
</g>
<g filter="url(#bl1)">
<ellipse cx="52.7" cy="154" rx="2.6" ry="8.5" fill="#3a8cff" opacity="0.85"/>
<ellipse cx="52.8" cy="155.5" rx="1.2" ry="4.2" fill="#4ee4ff" opacity="0.8"/>
<path d="M45.5,178 Q46,169.5 51.5,169.8 Q57,172 64,172.2 Q71,167.8 79,167.8 Q90.5,169 90.5,177 Q90.5,185.5 80,186.2 Q66,186.8 56,185.5 Q46,184 45.5,178 Z" fill="#3a8cff"/>
<path d="M46.6,178 Q47,170.8 51.6,171 Q57,173.2 64,173.2 Q71,169 79,169 Q89.3,170 89.3,177 Q89.3,184.5 80,185 Q66,185.6 56,184.4 Q47,183 46.6,178 Z" fill="#4ee4ff"/>
<ellipse cx="61.5" cy="177.6" rx="9" ry="3.3" fill="#88f0b8" opacity="0.85"/>
<ellipse cx="51.2" cy="175.6" rx="2.6" ry="4.6" fill="#8cf046" transform="rotate(12 51.2 175.6)"/>
<ellipse cx="77.2" cy="176.7" rx="9.7" ry="5.9" fill="#8cf046"/>
<ellipse cx="77.6" cy="176.6" rx="5.8" ry="4.1" fill="#f2ec22"/>
<ellipse cx="78" cy="176.5" rx="4.3" ry="2.7" fill="#ff9410"/>
<ellipse cx="78.1" cy="176.4" rx="3.4" ry="2" fill="#e82400"/>
</g>
<rect x="69.91" y="148.77" width="0.9" height="0.9" fill="#1a2cff" opacity="0.25"/>
<rect x="72.21" y="152.66" width="0.9" height="0.9" fill="#1a2cff" opacity="0.5"/>
<rect x="66.43" y="153.66" width="0.9" height="0.9" fill="#1a2cff" opacity="0.25"/>
<rect x="68.45" y="139.96" width="0.9" height="0.9" fill="#1a2cff" opacity="0.45"/>
<rect x="69.74" y="144.68" width="0.9" height="0.9" fill="#1a2cff" opacity="0.54"/>
<rect x="76.93" y="161.77" width="0.9" height="0.9" fill="#1a2cff" opacity="0.58"/>
<rect x="82.91" y="166.01" width="0.9" height="0.9" fill="#1a2cff" opacity="0.44"/>
<rect x="64.78" y="160.9" width="0.9" height="0.9" fill="#1a2cff" opacity="0.57"/>
<rect x="88.54" y="157.7" width="0.9" height="0.9" fill="#1a2cff" opacity="0.62"/>
<rect x="85.99" y="141.6" width="0.9" height="0.9" fill="#1a2cff" opacity="0.51"/>
<rect x="76.14" y="164.55" width="0.9" height="0.9" fill="#1a2cff" opacity="0.65"/>
<rect x="86.45" y="156.27" width="0.9" height="0.9" fill="#1a2cff" opacity="0.7"/>
<rect x="81.85" y="159.88" width="0.9" height="0.9" fill="#1a2cff" opacity="0.36"/>
<rect x="71.54" y="140.46" width="0.9" height="0.9" fill="#1a2cff" opacity="0.67"/>
<rect x="77.87" y="157.72" width="0.9" height="0.9" fill="#1a2cff" opacity="0.56"/>
<rect x="81.78" y="153.15" width="0.9" height="0.9" fill="#1a2cff" opacity="0.25"/>
<rect x="85.53" y="161.69" width="0.9" height="0.9" fill="#1a2cff" opacity="0.5"/>
<rect x="77.13" y="158.76" width="0.9" height="0.9" fill="#1a2cff" opacity="0.28"/>
<rect x="83.58" y="145.32" width="0.9" height="0.9" fill="#1a2cff" opacity="0.29"/>
<rect x="68.5" y="161.07" width="0.9" height="0.9" fill="#1a2cff" opacity="0.35"/>
<rect x="75.81" y="149.62" width="0.9" height="0.9" fill="#1a2cff" opacity="0.49"/>
<rect x="81.88" y="162.31" width="0.9" height="0.9" fill="#1a2cff" opacity="0.56"/>
<rect x="80.57" y="139.56" width="0.9" height="0.9" fill="#1a2cff" opacity="0.32"/>
<rect x="68.13" y="161.53" width="0.9" height="0.9" fill="#1a2cff" opacity="0.4"/>
<rect x="81.5" y="159.84" width="0.9" height="0.9" fill="#1a2cff" opacity="0.59"/>
<rect x="69.31" y="154.05" width="0.9" height="0.9" fill="#1a2cff" opacity="0.48"/>
<rect x="74.92" y="140.91" width="0.9" height="0.9" fill="#1a2cff" opacity="0.7"/>
<rect x="74.69" y="164.06" width="0.9" height="0.9" fill="#1a2cff" opacity="0.73"/>
<rect x="74.38" y="145.87" width="0.9" height="0.9" fill="#1a2cff" opacity="0.35"/>
<rect x="78.61" y="141.68" width="0.9" height="0.9" fill="#1a2cff" opacity="0.51"/>
<rect x="86.25" y="153.79" width="0.9" height="0.9" fill="#1a2cff" opacity="0.69"/>
<rect x="82.51" y="144.64" width="0.9" height="0.9" fill="#1a2cff" opacity="0.7"/>
<rect x="74.42" y="146.96" width="0.9" height="0.9" fill="#1a2cff" opacity="0.32"/>
<rect x="71.01" y="147.43" width="0.9" height="0.9" fill="#1a2cff" opacity="0.67"/>
<rect x="88.85" y="146.56" width="0.9" height="0.9" fill="#1a2cff" opacity="0.44"/>
<rect x="78.85" y="148.9" width="0.9" height="0.9" fill="#1a2cff" opacity="0.46"/>
<rect x="67.98" y="145.77" width="0.9" height="0.9" fill="#1a2cff" opacity="0.51"/>
<rect x="66.08" y="149.32" width="0.9" height="0.9" fill="#1a2cff" opacity="0.73"/>
<rect x="80.19" y="167.14" width="0.9" height="0.9" fill="#1a2cff" opacity="0.72"/>
<rect x="77.58" y="160.75" width="0.9" height="0.9" fill="#1a2cff" opacity="0.27"/>
<rect x="83.44" y="151.88" width="0.9" height="0.9" fill="#1a2cff" opacity="0.63"/>
<rect x="80.62" y="146.44" width="0.9" height="0.9" fill="#1a2cff" opacity="0.27"/>
<rect x="75.11" y="148.34" width="0.9" height="0.9" fill="#1a2cff" opacity="0.4"/>
<rect x="68.33" y="158.65" width="0.9" height="0.9" fill="#1a2cff" opacity="0.4"/>
<rect x="77.83" y="150.01" width="0.9" height="0.9" fill="#1a2cff" opacity="0.33"/>
<rect x="65.17" y="143.86" width="0.9" height="0.9" fill="#1a2cff" opacity="0.7"/>
<rect x="75.91" y="144.26" width="0.9" height="0.9" fill="#1a2cff" opacity="0.7"/>
<rect x="64.47" y="143.35" width="0.9" height="0.9" fill="#1a2cff" opacity="0.3"/>
<rect x="70.94" y="140.01" width="0.9" height="0.9" fill="#1a2cff" opacity="0.37"/>
<rect x="68.27" y="155.8" width="0.9" height="0.9" fill="#1a2cff" opacity="0.69"/>
<rect x="83.99" y="150.62" width="0.9" height="0.9" fill="#1a2cff" opacity="0.46"/>
<rect x="76.77" y="149.44" width="0.9" height="0.9" fill="#1a2cff" opacity="0.42"/>
<rect x="76.11" y="157.78" width="0.9" height="0.9" fill="#1a2cff" opacity="0.68"/>
<rect x="66.91" y="145.94" width="0.9" height="0.9" fill="#1a2cff" opacity="0.37"/>
<rect x="72.79" y="151.71" width="0.9" height="0.9" fill="#1a2cff" opacity="0.73"/>
<rect x="82.7" y="166.56" width="0.9" height="0.9" fill="#1a2cff" opacity="0.49"/>
<rect x="72.53" y="167.59" width="0.9" height="0.9" fill="#1a2cff" opacity="0.66"/>
<rect x="67.95" y="140.6" width="0.9" height="0.9" fill="#1a2cff" opacity="0.33"/>
<rect x="76.72" y="159.51" width="0.9" height="0.9" fill="#1a2cff" opacity="0.72"/>
<rect x="83.1" y="158.36" width="0.9" height="0.9" fill="#1a2cff" opacity="0.63"/>
<rect x="74.63" y="155.2" width="0.9" height="0.9" fill="#1a2cff" opacity="0.27"/>
<rect x="85.03" y="144.68" width="0.9" height="0.9" fill="#1a2cff" opacity="0.71"/>
<rect x="80.66" y="147.02" width="0.9" height="0.9" fill="#1a2cff" opacity="0.31"/>
<rect x="68.06" y="158" width="0.9" height="0.9" fill="#1a2cff" opacity="0.6"/>
<rect x="76.78" y="156.24" width="0.9" height="0.9" fill="#1a2cff" opacity="0.44"/>
<rect x="67.15" y="156.84" width="0.9" height="0.9" fill="#1a2cff" opacity="0.26"/>
<rect x="69.65" y="152.2" width="0.9" height="0.9" fill="#1a2cff" opacity="0.73"/>
<rect x="80.63" y="166.16" width="0.9" height="0.9" fill="#1a2cff" opacity="0.49"/>
<rect x="67.51" y="145.15" width="0.9" height="0.9" fill="#1a2cff" opacity="0.73"/>
<rect x="82.55" y="147.14" width="0.9" height="0.9" fill="#1a2cff" opacity="0.26"/>
<rect x="75.95" y="159.26" width="0.9" height="0.9" fill="#1a2cff" opacity="0.46"/>
<rect x="68.23" y="159.02" width="0.9" height="0.9" fill="#1a2cff" opacity="0.71"/>
<rect x="70.82" y="150.88" width="0.9" height="0.9" fill="#1a2cff" opacity="0.59"/>
<rect x="66.34" y="163.3" width="0.9" height="0.9" fill="#1a2cff" opacity="0.62"/>
<rect x="76.16" y="143.77" width="0.9" height="0.9" fill="#1a2cff" opacity="0.73"/>
<rect x="69.97" y="164.06" width="0.9" height="0.9" fill="#1a2cff" opacity="0.37"/>
<rect x="67.09" y="162.1" width="0.9" height="0.9" fill="#1a2cff" opacity="0.4"/>
<rect x="90.46" y="153.36" width="0.9" height="0.9" fill="#1a2cff" opacity="0.34"/>
<rect x="67.15" y="150.76" width="0.9" height="0.9" fill="#1a2cff" opacity="0.58"/>
<rect x="72.59" y="144.03" width="0.9" height="0.9" fill="#1a2cff" opacity="0.74"/>
<rect x="61.92" y="149.98" width="0.9" height="0.9" fill="#1a2cff" opacity="0.7"/>
<rect x="88.27" y="161.18" width="0.9" height="0.9" fill="#1a2cff" opacity="0.75"/>
<rect x="89.81" y="147.87" width="0.9" height="0.9" fill="#1a2cff" opacity="0.34"/>
<rect x="72.12" y="149.34" width="0.9" height="0.9" fill="#1a2cff" opacity="0.42"/>
<rect x="68.95" y="148.6" width="0.9" height="0.9" fill="#1a2cff" opacity="0.73"/>
<rect x="66.64" y="148.77" width="0.9" height="0.9" fill="#1a2cff" opacity="0.66"/>
<rect x="86.3" y="151.27" width="0.9" height="0.9" fill="#1a2cff" opacity="0.27"/>
<rect x="75.15" y="149.3" width="0.9" height="0.9" fill="#1a2cff" opacity="0.71"/>
<rect x="66.18" y="149.02" width="0.9" height="0.9" fill="#1a2cff" opacity="0.7"/>
<rect x="85.98" y="162.3" width="0.9" height="0.9" fill="#1a2cff" opacity="0.27"/>
<rect x="70.85" y="145.99" width="0.9" height="0.9" fill="#1a2cff" opacity="0.73"/>
<rect x="79.74" y="145.65" width="0.9" height="0.9" fill="#1a2cff" opacity="0.61"/>
<rect x="70.13" y="146.1" width="0.9" height="0.9" fill="#1a2cff" opacity="0.25"/>
<rect x="90.53" y="149.75" width="0.9" height="0.9" fill="#1a2cff" opacity="0.38"/>
<rect x="73.76" y="153.28" width="0.9" height="0.9" fill="#1a2cff" opacity="0.71"/>
<rect x="65.85" y="163.48" width="0.9" height="0.9" fill="#1a2cff" opacity="0.62"/>
<rect x="86.33" y="162.5" width="0.9" height="0.9" fill="#1a2cff" opacity="0.55"/>
<rect x="70.49" y="147.55" width="0.9" height="0.9" fill="#1a2cff" opacity="0.43"/>
<rect x="66.31" y="161.85" width="0.9" height="0.9" fill="#1a2cff" opacity="0.37"/>
<rect x="77.68" y="147.75" width="0.9" height="0.9" fill="#1a2cff" opacity="0.74"/>
<rect x="63.09" y="153.45" width="0.9" height="0.9" fill="#1a2cff" opacity="0.6"/>
<rect x="74.3" y="144.73" width="0.9" height="0.9" fill="#1a2cff" opacity="0.46"/>
<rect x="79.85" y="159.25" width="0.9" height="0.9" fill="#1a2cff" opacity="0.62"/>
<rect x="87.1" y="158.93" width="0.9" height="0.9" fill="#1a2cff" opacity="0.31"/>
<rect x="86.91" y="146.69" width="0.9" height="0.9" fill="#1a2cff" opacity="0.53"/>
<rect x="71.94" y="161.36" width="0.9" height="0.9" fill="#1a2cff" opacity="0.35"/>
<rect x="67.92" y="145.1" width="0.9" height="0.9" fill="#1a2cff" opacity="0.33"/>
<rect x="88.29" y="156.08" width="0.9" height="0.9" fill="#1a2cff" opacity="0.41"/>
<rect x="76.23" y="144.64" width="0.9" height="0.9" fill="#1a2cff" opacity="0.65"/>
<rect x="63.27" y="152.67" width="0.9" height="0.9" fill="#1a2cff" opacity="0.66"/>
<rect x="89.77" y="149.28" width="0.9" height="0.9" fill="#1a2cff" opacity="0.68"/>
<rect x="74.37" y="145.58" width="0.9" height="0.9" fill="#1a2cff" opacity="0.64"/>
<rect x="79.08" y="157.46" width="0.9" height="0.9" fill="#1a2cff" opacity="0.36"/>
<rect x="71.8" y="141.67" width="0.9" height="0.9" fill="#1a2cff" opacity="0.35"/>
<rect x="68.16" y="156.78" width="0.9" height="0.9" fill="#1a2cff" opacity="0.58"/>
<rect x="70.47" y="159.38" width="0.9" height="0.9" fill="#1a2cff" opacity="0.34"/>
<rect x="69.99" y="143.71" width="0.9" height="0.9" fill="#1a2cff" opacity="0.65"/>
<rect x="77.54" y="139.09" width="0.9" height="0.9" fill="#1a2cff" opacity="0.3"/>
<rect x="72.65" y="155.15" width="0.9" height="0.9" fill="#1a2cff" opacity="0.57"/>
<rect x="82.25" y="150.52" width="0.9" height="0.9" fill="#1a2cff" opacity="0.39"/>
<rect x="70" y="155.7" width="0.9" height="0.9" fill="#1a2cff" opacity="0.43"/>
<rect x="73.33" y="165.52" width="0.9" height="0.9" fill="#1a2cff" opacity="0.75"/>
<rect x="71.64" y="143.51" width="0.9" height="0.9" fill="#1a2cff" opacity="0.61"/>
<rect x="88.85" y="150.98" width="0.9" height="0.9" fill="#1a2cff" opacity="0.66"/>
<rect x="73" y="166.13" width="0.9" height="0.9" fill="#1a2cff" opacity="0.48"/>
<rect x="77.65" y="158.14" width="0.9" height="0.9" fill="#1a2cff" opacity="0.7"/>
<rect x="62.85" y="157.53" width="0.9" height="0.9" fill="#1a2cff" opacity="0.44"/>
<rect x="76.14" y="141.81" width="0.9" height="0.9" fill="#1a2cff" opacity="0.39"/>
<rect x="76.68" y="167.54" width="0.9" height="0.9" fill="#1a2cff" opacity="0.3"/>
<rect x="75.7" y="163.56" width="0.9" height="0.9" fill="#1a2cff" opacity="0.73"/>
<rect x="75.45" y="138.76" width="0.9" height="0.9" fill="#1a2cff" opacity="0.71"/>
<rect x="72.41" y="166.84" width="0.9" height="0.9" fill="#1a2cff" opacity="0.56"/>
<rect x="86.39" y="142.29" width="0.9" height="0.9" fill="#1a2cff" opacity="0.64"/>
<rect x="67.11" y="150.35" width="0.9" height="0.9" fill="#1a2cff" opacity="0.67"/>
<rect x="86.53" y="143.04" width="0.9" height="0.9" fill="#1a2cff" opacity="0.36"/>
<rect x="72.79" y="154.09" width="0.9" height="0.9" fill="#1a2cff" opacity="0.44"/>
<rect x="63.94" y="145.15" width="0.9" height="0.9" fill="#1a2cff" opacity="0.61"/>
<rect x="77.99" y="162" width="0.9" height="0.9" fill="#1a2cff" opacity="0.27"/>
<rect x="79.18" y="155.15" width="0.9" height="0.9" fill="#1a2cff" opacity="0.56"/>
<rect x="69.8" y="150.86" width="0.9" height="0.9" fill="#1a2cff" opacity="0.54"/>
<rect x="73.62" y="158.74" width="0.9" height="0.9" fill="#1a2cff" opacity="0.47"/>
<rect x="79.8" y="153.15" width="0.9" height="0.9" fill="#1a2cff" opacity="0.37"/>
<rect x="84.43" y="162.74" width="0.9" height="0.9" fill="#1a2cff" opacity="0.48"/>
<rect x="65.75" y="152.62" width="0.9" height="0.9" fill="#1a2cff" opacity="0.3"/>
<rect x="64.11" y="151.21" width="0.9" height="0.9" fill="#1a2cff" opacity="0.3"/>
<rect x="74.14" y="153.84" width="0.9" height="0.9" fill="#1a2cff" opacity="0.27"/>
<rect x="80.37" y="139.71" width="0.9" height="0.9" fill="#1a2cff" opacity="0.62"/>
<rect x="84.88" y="153.88" width="0.9" height="0.9" fill="#1a2cff" opacity="0.28"/>
<rect x="76.13" y="149.47" width="0.9" height="0.9" fill="#1a2cff" opacity="0.73"/>
<rect x="86.08" y="143.39" width="0.9" height="0.9" fill="#1a2cff" opacity="0.74"/>
<rect x="62.1" y="148.58" width="0.9" height="0.9" fill="#1a2cff" opacity="0.63"/>
<rect x="68.8" y="163.92" width="0.9" height="0.9" fill="#1a2cff" opacity="0.32"/>
<rect x="76.07" y="167.36" width="0.9" height="0.9" fill="#1a2cff" opacity="0.35"/>
<rect x="68.41" y="153.7" width="0.9" height="0.9" fill="#1a2cff" opacity="0.41"/>
<rect x="81.75" y="166.55" width="0.9" height="0.9" fill="#1a2cff" opacity="0.33"/>
<rect x="76.98" y="158" width="0.9" height="0.9" fill="#1a2cff" opacity="0.43"/>
<rect x="87.93" y="155.32" width="0.9" height="0.9" fill="#1a2cff" opacity="0.54"/>
<rect x="72.62" y="163.32" width="0.9" height="0.9" fill="#1a2cff" opacity="0.38"/>
<rect x="71.53" y="162.23" width="0.9" height="0.9" fill="#1a2cff" opacity="0.47"/>
<rect x="65.66" y="161.54" width="0.9" height="0.9" fill="#1a2cff" opacity="0.27"/>
<rect x="86.23" y="145.37" width="0.9" height="0.9" fill="#1a2cff" opacity="0.57"/>
<rect x="81.24" y="147.32" width="0.9" height="0.9" fill="#1a2cff" opacity="0.25"/>
<rect x="79.71" y="151.26" width="0.9" height="0.9" fill="#1a2cff" opacity="0.51"/>
<rect x="67.27" y="158.55" width="0.9" height="0.9" fill="#1a2cff" opacity="0.26"/>
<rect x="63.4" y="148.79" width="0.9" height="0.9" fill="#1a2cff" opacity="0.36"/>
<rect x="78.67" y="156.44" width="0.9" height="0.9" fill="#1a2cff" opacity="0.35"/>
<rect x="79.97" y="152.67" width="0.9" height="0.9" fill="#1a2cff" opacity="0.32"/>
<rect x="80.42" y="165.75" width="0.9" height="0.9" fill="#1a2cff" opacity="0.64"/>
<rect x="72.86" y="145.72" width="0.9" height="0.9" fill="#1a2cff" opacity="0.26"/>
<rect x="80.64" y="155.56" width="0.9" height="0.9" fill="#1a2cff" opacity="0.43"/>
<rect x="80.66" y="151.64" width="0.9" height="0.9" fill="#1a2cff" opacity="0.72"/>
<rect x="83.47" y="145.2" width="0.9" height="0.9" fill="#1a2cff" opacity="0.7"/>
<rect x="61.41" y="154.54" width="0.9" height="0.9" fill="#1a2cff" opacity="0.45"/>
<rect x="57.14" y="128.52" width="0.9" height="0.9" fill="#1a2cff" opacity="0.65"/>
<rect x="60.7" y="133.98" width="0.9" height="0.9" fill="#1a2cff" opacity="0.46"/>
<rect x="53.38" y="149.29" width="0.9" height="0.9" fill="#1a2cff" opacity="0.7"/>
<rect x="57.89" y="135.33" width="0.9" height="0.9" fill="#1a2cff" opacity="0.52"/>
<rect x="46.61" y="130.04" width="0.9" height="0.9" fill="#1a2cff" opacity="0.84"/>
<rect x="57.23" y="158.05" width="0.9" height="0.9" fill="#1a2cff" opacity="0.35"/>
<rect x="58.58" y="159.3" width="0.9" height="0.9" fill="#1a2cff" opacity="0.61"/>
<rect x="56.32" y="147" width="0.9" height="0.9" fill="#1a2cff" opacity="0.47"/>
<rect x="42.32" y="137.76" width="0.9" height="0.9" fill="#1a2cff" opacity="0.37"/>
<rect x="47.38" y="159.49" width="0.9" height="0.9" fill="#1a2cff" opacity="0.73"/>
<rect x="58.6" y="157.89" width="0.9" height="0.9" fill="#1a2cff" opacity="0.5"/>
<rect x="52.18" y="146.31" width="0.9" height="0.9" fill="#1a2cff" opacity="0.78"/>
<rect x="51.51" y="139.14" width="0.9" height="0.9" fill="#1a2cff" opacity="0.7"/>
<rect x="61.23" y="137.11" width="0.9" height="0.9" fill="#1a2cff" opacity="0.83"/>
<rect x="40.34" y="138.94" width="0.9" height="0.9" fill="#1a2cff" opacity="0.48"/>
<rect x="56.37" y="167.68" width="0.9" height="0.9" fill="#1a2cff" opacity="0.76"/>
<rect x="47.19" y="164.97" width="0.9" height="0.9" fill="#1a2cff" opacity="0.53"/>
<rect x="45.26" y="166.12" width="0.9" height="0.9" fill="#1a2cff" opacity="0.7"/>
<rect x="55.24" y="155.94" width="0.9" height="0.9" fill="#1a2cff" opacity="0.89"/>
<rect x="50.33" y="163.27" width="0.9" height="0.9" fill="#1a2cff" opacity="0.73"/>
<rect x="58.87" y="146.36" width="0.9" height="0.9" fill="#1a2cff" opacity="0.75"/>
<rect x="52.55" y="140.93" width="0.9" height="0.9" fill="#1a2cff" opacity="0.47"/>
<rect x="53.7" y="131.27" width="0.9" height="0.9" fill="#1a2cff" opacity="0.85"/>
<rect x="43.18" y="129.13" width="0.9" height="0.9" fill="#1a2cff" opacity="0.41"/>
<rect x="60.44" y="142.48" width="0.9" height="0.9" fill="#1a2cff" opacity="0.43"/>
<rect x="40.63" y="129.75" width="0.9" height="0.9" fill="#1a2cff" opacity="0.73"/>
<rect x="53.95" y="157.27" width="0.9" height="0.9" fill="#1a2cff" opacity="0.76"/>
<rect x="41.45" y="152.8" width="0.9" height="0.9" fill="#1a2cff" opacity="0.55"/>
<rect x="57.99" y="162.42" width="0.9" height="0.9" fill="#1a2cff" opacity="0.84"/>
<rect x="41.45" y="164.45" width="0.9" height="0.9" fill="#1a2cff" opacity="0.85"/>
<rect x="60.78" y="132.5" width="0.9" height="0.9" fill="#1a2cff" opacity="0.46"/>
<rect x="42.46" y="129.45" width="0.9" height="0.9" fill="#1a2cff" opacity="0.82"/>
<rect x="57.86" y="154.64" width="0.9" height="0.9" fill="#1a2cff" opacity="0.8"/>
<rect x="53.89" y="140.07" width="0.9" height="0.9" fill="#1a2cff" opacity="0.4"/>
<rect x="42.15" y="159.81" width="0.9" height="0.9" fill="#1a2cff" opacity="0.46"/>
<rect x="47.02" y="145.8" width="0.9" height="0.9" fill="#1a2cff" opacity="0.36"/>
<rect x="45.65" y="139.87" width="0.9" height="0.9" fill="#1a2cff" opacity="0.74"/>
<rect x="48.1" y="141.47" width="0.9" height="0.9" fill="#1a2cff" opacity="0.88"/>
<rect x="51.08" y="163.76" width="0.9" height="0.9" fill="#1a2cff" opacity="0.69"/>
<rect x="40.68" y="145.34" width="0.9" height="0.9" fill="#1a2cff" opacity="0.59"/>
</g>
<rect x="36.2" y="116.6" width="76.5" height="77" fill="none" stroke="#a4a4a4" stroke-width="1.0"/>
<rect x="40.5" y="124.2" width="21.2" height="43.4" fill="none" stroke="#626262" stroke-width="0.75"/>
<line x1="34.6" y1="139" x2="36.2" y2="139" stroke="#555" stroke-width="0.7"/>
<line x1="34.6" y1="161.7" x2="36.2" y2="161.7" stroke="#555" stroke-width="0.7"/>
<line x1="34.6" y1="170.8" x2="36.2" y2="170.8" stroke="#555" stroke-width="0.7"/>
<line x1="34.6" y1="181" x2="36.2" y2="181" stroke="#555" stroke-width="0.7"/>
<line x1="38.7" y1="193.6" x2="38.7" y2="195.2" stroke="#555" stroke-width="0.7"/>
<line x1="54.7" y1="193.6" x2="54.7" y2="195.2" stroke="#555" stroke-width="0.7"/>
<line x1="71.5" y1="193.6" x2="71.5" y2="195.2" stroke="#555" stroke-width="0.7"/>
<line x1="87.6" y1="193.6" x2="87.6" y2="195.2" stroke="#555" stroke-width="0.7"/>
<line x1="104" y1="193.6" x2="104" y2="195.2" stroke="#555" stroke-width="0.7"/>
<line x1="35.1" y1="154.87" x2="36.2" y2="154.87" stroke="#666" stroke-width="0.6"/>
<line x1="35.1" y1="150.87" x2="36.2" y2="150.87" stroke="#666" stroke-width="0.6"/>
<line x1="35.1" y1="148.03" x2="36.2" y2="148.03" stroke="#666" stroke-width="0.6"/>
<line x1="35.1" y1="145.83" x2="36.2" y2="145.83" stroke="#666" stroke-width="0.6"/>
<line x1="35.1" y1="144.04" x2="36.2" y2="144.04" stroke="#666" stroke-width="0.6"/>
<line x1="35.1" y1="142.52" x2="36.2" y2="142.52" stroke="#666" stroke-width="0.6"/>
<line x1="35.1" y1="141.2" x2="36.2" y2="141.2" stroke="#666" stroke-width="0.6"/>
<line x1="35.1" y1="140.04" x2="36.2" y2="140.04" stroke="#666" stroke-width="0.6"/>
<line x1="35.1" y1="132.17" x2="36.2" y2="132.17" stroke="#666" stroke-width="0.6"/>
<line x1="35.1" y1="128.17" x2="36.2" y2="128.17" stroke="#666" stroke-width="0.6"/>
<line x1="35.1" y1="125.33" x2="36.2" y2="125.33" stroke="#666" stroke-width="0.6"/>
<line x1="35.1" y1="123.13" x2="36.2" y2="123.13" stroke="#666" stroke-width="0.6"/>
<line x1="35.1" y1="121.34" x2="36.2" y2="121.34" stroke="#666" stroke-width="0.6"/>
<line x1="35.1" y1="119.82" x2="36.2" y2="119.82" stroke="#666" stroke-width="0.6"/>
<line x1="35.1" y1="118.5" x2="36.2" y2="118.5" stroke="#666" stroke-width="0.6"/>
<line x1="35.1" y1="117.34" x2="36.2" y2="117.34" stroke="#666" stroke-width="0.6"/>
<line x1="76.35" y1="193.6" x2="76.35" y2="194.7" stroke="#666" stroke-width="0.6"/>
<line x1="79.18" y1="193.6" x2="79.18" y2="194.7" stroke="#666" stroke-width="0.6"/>
<line x1="81.19" y1="193.6" x2="81.19" y2="194.7" stroke="#666" stroke-width="0.6"/>
<line x1="82.75" y1="193.6" x2="82.75" y2="194.7" stroke="#666" stroke-width="0.6"/>
<line x1="84.03" y1="193.6" x2="84.03" y2="194.7" stroke="#666" stroke-width="0.6"/>
<line x1="85.11" y1="193.6" x2="85.11" y2="194.7" stroke="#666" stroke-width="0.6"/>
<line x1="86.04" y1="193.6" x2="86.04" y2="194.7" stroke="#666" stroke-width="0.6"/>
<line x1="86.86" y1="193.6" x2="86.86" y2="194.7" stroke="#666" stroke-width="0.6"/>
<line x1="92.54" y1="193.6" x2="92.54" y2="194.7" stroke="#666" stroke-width="0.6"/>
<line x1="95.42" y1="193.6" x2="95.42" y2="194.7" stroke="#666" stroke-width="0.6"/>
<line x1="97.47" y1="193.6" x2="97.47" y2="194.7" stroke="#666" stroke-width="0.6"/>
<line x1="99.06" y1="193.6" x2="99.06" y2="194.7" stroke="#666" stroke-width="0.6"/>
<line x1="100.36" y1="193.6" x2="100.36" y2="194.7" stroke="#666" stroke-width="0.6"/>
<line x1="101.46" y1="193.6" x2="101.46" y2="194.7" stroke="#666" stroke-width="0.6"/>
<line x1="102.41" y1="193.6" x2="102.41" y2="194.7" stroke="#666" stroke-width="0.6"/>
<line x1="103.25" y1="193.6" x2="103.25" y2="194.7" stroke="#666" stroke-width="0.6"/>
<rect x="34.5" y="169.8" width="1.6" height="1.8" fill="#111"/>
<rect x="50" y="193.3" width="7" height="1.4" fill="#222"/>
<text x="67.9" y="126.5" font-size="8.3" text-anchor="middle" fill="#1e1e1e" textLength="7.8" lengthAdjust="spacingAndGlyphs" stroke="#1e1e1e" stroke-width="0.06" style="">6.1</text>
<text x="74.1" y="135.8" font-size="8.3" text-anchor="middle" fill="#1e1e1e" textLength="20.2" lengthAdjust="spacingAndGlyphs" stroke="#1e1e1e" stroke-width="0.06" style="">B220+</text>
<text x="32.5" y="140.21" font-size="5.3" text-anchor="end" fill="#333">10<tspan font-size="0.72em" dy="-0.45em">3</tspan></text>
<text x="32.5" y="162.61" font-size="5.3" text-anchor="end" fill="#333">10<tspan font-size="0.72em" dy="-0.45em">2</tspan></text>
<text x="32.5" y="171.41" font-size="5.3" text-anchor="end" fill="#333">0</text>
<text x="32.5" y="182.11" font-size="5.3" text-anchor="end" fill="#333">-10<tspan font-size="0.72em" dy="-0.45em">2</tspan></text>
<text x="38.7" y="202.05" font-size="5.3" text-anchor="middle" fill="#333">-10<tspan font-size="0.72em" dy="-0.45em">3</tspan></text>
<text x="54.7" y="202.05" font-size="5.3" text-anchor="middle" fill="#333">0</text>
<text x="71.5" y="202.05" font-size="5.3" text-anchor="middle" fill="#333">10<tspan font-size="0.72em" dy="-0.45em">3</tspan></text>
<text x="87.6" y="202.05" font-size="5.3" text-anchor="middle" fill="#333">10<tspan font-size="0.72em" dy="-0.45em">4</tspan></text>
<text x="104" y="202.05" font-size="5.3" text-anchor="middle" fill="#333">10<tspan font-size="0.72em" dy="-0.45em">5</tspan></text>
<line x1="60.2" y1="162.5" x2="128.3" y2="162.5" stroke="#111" stroke-width="0.95"/>
<path d="M132.8 162.5L127.3 160.1L127.3 164.9z" fill="#111"/>
<clipPath id="fc5"><rect x="132.7" y="116.6" width="77.1" height="77"/></clipPath>
<g clip-path="url(#fc5)">
<g filter="url(#spkw)">
<path d="M165,158 L165,140 Q170,136 177,137 Q184,139 184.5,148 L183,157 Q175,160 165,160 Z" fill="#1a2cff" opacity="0.6"/>
<path d="M150,157 L165.5,157 L165,168 Q158,170 151,166 Z" fill="#1a2cff" opacity="0.35"/>
<ellipse cx="176.2" cy="175.2" rx="9.8" ry="3.3" fill="#1a2cff"/>
</g>
<g filter="url(#spk)">
<path d="M147.6,145 Q148,137.8 156,137.8 L166,137.6 Q173,137.5 175,141 L172,150 L166,158 L160,159 Q149,159 147.6,152 Z" fill="#1a2cff"/>
<ellipse cx="176" cy="175.2" rx="8.6" ry="2.6" fill="#1a2cff"/>
</g>
<g filter="url(#bl1)">
<ellipse cx="175.5" cy="175.2" rx="7.2" ry="2.3" fill="#3a8cff"/>
<ellipse cx="175.5" cy="175.2" rx="6.6" ry="1.9" fill="#4ee4ff"/>
<ellipse cx="175.5" cy="175.2" rx="5.3" ry="1.45" fill="#8cf046"/>
<ellipse cx="175.4" cy="175.2" rx="3.6" ry="1.1" fill="#f2ec22"/>
<ellipse cx="175.5" cy="175.25" rx="2.2" ry="0.8" fill="#e82400"/>
<ellipse cx="170.4" cy="144.5" rx="5.2" ry="3.8" fill="#3a8cff" transform="rotate(-25 170.4 144.5)"/>
<ellipse cx="170.4" cy="144.5" rx="4.6" ry="3.2" fill="#4ee4ff" transform="rotate(-25 170.4 144.5)"/>
<ellipse cx="170.2" cy="144.6" rx="3.6" ry="2.2" fill="#8cf046" transform="rotate(-25 170.2 144.6)"/>
<ellipse cx="157" cy="147.6" rx="9" ry="7" fill="#3a8cff"/>
<ellipse cx="157" cy="147.6" rx="8.2" ry="6.4" fill="#4ee4ff"/>
<ellipse cx="165" cy="146" rx="5" ry="2.4" fill="#4ee4ff" transform="rotate(-15 165 146)"/>
<ellipse cx="157.4" cy="147.6" rx="7.4" ry="5" fill="#8cf046"/>
<ellipse cx="164.5" cy="146.2" rx="3.8" ry="1.6" fill="#8cf046" transform="rotate(-15 164.5 146.2)"/>
<ellipse cx="157" cy="147.4" rx="4.4" ry="2.5" fill="#f2ec22"/>
<ellipse cx="157" cy="147.4" rx="2.8" ry="1.2" fill="#ffb21a" opacity="0.9"/>
</g>
<rect x="183.55" y="141.75" width="0.9" height="0.9" fill="#1a2cff" opacity="0.65"/>
<rect x="177.91" y="137.71" width="0.9" height="0.9" fill="#1a2cff" opacity="0.73"/>
<rect x="167.18" y="156.41" width="0.9" height="0.9" fill="#1a2cff" opacity="0.39"/>
<rect x="165.1" y="146.22" width="0.9" height="0.9" fill="#1a2cff" opacity="0.55"/>
<rect x="184.12" y="136.72" width="0.9" height="0.9" fill="#1a2cff" opacity="0.55"/>
<rect x="173.33" y="156.79" width="0.9" height="0.9" fill="#1a2cff" opacity="0.43"/>
<rect x="170.15" y="152.68" width="0.9" height="0.9" fill="#1a2cff" opacity="0.55"/>
<rect x="167.64" y="150.73" width="0.9" height="0.9" fill="#1a2cff" opacity="0.34"/>
<rect x="183.91" y="152.61" width="0.9" height="0.9" fill="#1a2cff" opacity="0.69"/>
<rect x="180.07" y="142.02" width="0.9" height="0.9" fill="#1a2cff" opacity="0.5"/>
<rect x="174.47" y="158.6" width="0.9" height="0.9" fill="#1a2cff" opacity="0.34"/>
<rect x="169.95" y="139.16" width="0.9" height="0.9" fill="#1a2cff" opacity="0.75"/>
<rect x="177.03" y="142.76" width="0.9" height="0.9" fill="#1a2cff" opacity="0.74"/>
<rect x="170.61" y="145.29" width="0.9" height="0.9" fill="#1a2cff" opacity="0.57"/>
<rect x="183.11" y="154.34" width="0.9" height="0.9" fill="#1a2cff" opacity="0.62"/>
<rect x="173.36" y="141.13" width="0.9" height="0.9" fill="#1a2cff" opacity="0.38"/>
<rect x="185.23" y="151.53" width="0.9" height="0.9" fill="#1a2cff" opacity="0.67"/>
<rect x="169.07" y="144.6" width="0.9" height="0.9" fill="#1a2cff" opacity="0.69"/>
<rect x="178.9" y="134.91" width="0.9" height="0.9" fill="#1a2cff" opacity="0.53"/>
<rect x="186.24" y="138.38" width="0.9" height="0.9" fill="#1a2cff" opacity="0.4"/>
<rect x="172.24" y="152.8" width="0.9" height="0.9" fill="#1a2cff" opacity="0.72"/>
<rect x="168.71" y="135.84" width="0.9" height="0.9" fill="#1a2cff" opacity="0.42"/>
<rect x="172.84" y="147.19" width="0.9" height="0.9" fill="#1a2cff" opacity="0.38"/>
<rect x="172.87" y="136.87" width="0.9" height="0.9" fill="#1a2cff" opacity="0.79"/>
<rect x="182.49" y="134.16" width="0.9" height="0.9" fill="#1a2cff" opacity="0.78"/>
<rect x="167.44" y="142.91" width="0.9" height="0.9" fill="#1a2cff" opacity="0.79"/>
<rect x="184.08" y="153.73" width="0.9" height="0.9" fill="#1a2cff" opacity="0.52"/>
<rect x="169.71" y="150.78" width="0.9" height="0.9" fill="#1a2cff" opacity="0.35"/>
<rect x="169.95" y="143.04" width="0.9" height="0.9" fill="#1a2cff" opacity="0.32"/>
<rect x="174.58" y="155.52" width="0.9" height="0.9" fill="#1a2cff" opacity="0.65"/>
<rect x="177.01" y="150.6" width="0.9" height="0.9" fill="#1a2cff" opacity="0.53"/>
<rect x="168.4" y="149.71" width="0.9" height="0.9" fill="#1a2cff" opacity="0.5"/>
<rect x="175.32" y="148.79" width="0.9" height="0.9" fill="#1a2cff" opacity="0.67"/>
<rect x="175.11" y="138.09" width="0.9" height="0.9" fill="#1a2cff" opacity="0.66"/>
<rect x="181.8" y="157.43" width="0.9" height="0.9" fill="#1a2cff" opacity="0.64"/>
<rect x="180.4" y="145.07" width="0.9" height="0.9" fill="#1a2cff" opacity="0.46"/>
<rect x="180.08" y="134.03" width="0.9" height="0.9" fill="#1a2cff" opacity="0.51"/>
<rect x="183.78" y="153.11" width="0.9" height="0.9" fill="#1a2cff" opacity="0.61"/>
<rect x="171" y="144.13" width="0.9" height="0.9" fill="#1a2cff" opacity="0.53"/>
<rect x="179.92" y="143.69" width="0.9" height="0.9" fill="#1a2cff" opacity="0.64"/>
<rect x="180.71" y="155.12" width="0.9" height="0.9" fill="#1a2cff" opacity="0.49"/>
<rect x="176.76" y="161.21" width="0.9" height="0.9" fill="#1a2cff" opacity="0.32"/>
<rect x="178.04" y="135.99" width="0.9" height="0.9" fill="#1a2cff" opacity="0.69"/>
<rect x="187.57" y="147.1" width="0.9" height="0.9" fill="#1a2cff" opacity="0.35"/>
<rect x="178.79" y="147.77" width="0.9" height="0.9" fill="#1a2cff" opacity="0.66"/>
<rect x="177.29" y="150.82" width="0.9" height="0.9" fill="#1a2cff" opacity="0.71"/>
<rect x="177.52" y="143.72" width="0.9" height="0.9" fill="#1a2cff" opacity="0.77"/>
<rect x="170.04" y="152.22" width="0.9" height="0.9" fill="#1a2cff" opacity="0.5"/>
<rect x="183.3" y="134.79" width="0.9" height="0.9" fill="#1a2cff" opacity="0.79"/>
<rect x="173.53" y="132.76" width="0.9" height="0.9" fill="#1a2cff" opacity="0.44"/>
<rect x="174.59" y="131.41" width="0.9" height="0.9" fill="#1a2cff" opacity="0.51"/>
<rect x="175.09" y="152.65" width="0.9" height="0.9" fill="#1a2cff" opacity="0.48"/>
<rect x="171.36" y="137.96" width="0.9" height="0.9" fill="#1a2cff" opacity="0.67"/>
<rect x="187.56" y="147.34" width="0.9" height="0.9" fill="#1a2cff" opacity="0.41"/>
<rect x="184.24" y="143.15" width="0.9" height="0.9" fill="#1a2cff" opacity="0.41"/>
<rect x="168.1" y="155.07" width="0.9" height="0.9" fill="#1a2cff" opacity="0.7"/>
<rect x="180.22" y="145.54" width="0.9" height="0.9" fill="#1a2cff" opacity="0.58"/>
<rect x="173.48" y="150.8" width="0.9" height="0.9" fill="#1a2cff" opacity="0.71"/>
<rect x="184.59" y="145.51" width="0.9" height="0.9" fill="#1a2cff" opacity="0.45"/>
<rect x="178.16" y="134.88" width="0.9" height="0.9" fill="#1a2cff" opacity="0.72"/>
<rect x="173.51" y="157.37" width="0.9" height="0.9" fill="#1a2cff" opacity="0.43"/>
<rect x="174.03" y="138.86" width="0.9" height="0.9" fill="#1a2cff" opacity="0.51"/>
<rect x="182.32" y="139.72" width="0.9" height="0.9" fill="#1a2cff" opacity="0.42"/>
<rect x="172.24" y="145.87" width="0.9" height="0.9" fill="#1a2cff" opacity="0.51"/>
<rect x="180.3" y="151.44" width="0.9" height="0.9" fill="#1a2cff" opacity="0.48"/>
<rect x="168.37" y="156.77" width="0.9" height="0.9" fill="#1a2cff" opacity="0.62"/>
<rect x="171" y="134.15" width="0.9" height="0.9" fill="#1a2cff" opacity="0.37"/>
<rect x="170.61" y="155.07" width="0.9" height="0.9" fill="#1a2cff" opacity="0.47"/>
<rect x="184" y="136.21" width="0.9" height="0.9" fill="#1a2cff" opacity="0.75"/>
<rect x="179.6" y="155.22" width="0.9" height="0.9" fill="#1a2cff" opacity="0.63"/>
<rect x="185.13" y="137.12" width="0.9" height="0.9" fill="#1a2cff" opacity="0.65"/>
<rect x="177.74" y="154" width="0.9" height="0.9" fill="#1a2cff" opacity="0.52"/>
<rect x="186.18" y="148.21" width="0.9" height="0.9" fill="#1a2cff" opacity="0.43"/>
<rect x="170.62" y="135.32" width="0.9" height="0.9" fill="#1a2cff" opacity="0.55"/>
<rect x="143.64" y="149.62" width="0.9" height="0.9" fill="#1a2cff" opacity="0.43"/>
<rect x="155.76" y="150.92" width="0.9" height="0.9" fill="#1a2cff" opacity="0.65"/>
<rect x="166.16" y="130.28" width="0.9" height="0.9" fill="#1a2cff" opacity="0.81"/>
<rect x="155.1" y="153.63" width="0.9" height="0.9" fill="#1a2cff" opacity="0.72"/>
<rect x="165.54" y="145.75" width="0.9" height="0.9" fill="#1a2cff" opacity="0.58"/>
<rect x="168.9" y="133.17" width="0.9" height="0.9" fill="#1a2cff" opacity="0.7"/>
<rect x="159.81" y="131.2" width="0.9" height="0.9" fill="#1a2cff" opacity="0.69"/>
<rect x="161.11" y="169.12" width="0.9" height="0.9" fill="#1a2cff" opacity="0.53"/>
<rect x="169.49" y="151.45" width="0.9" height="0.9" fill="#1a2cff" opacity="0.62"/>
<rect x="167.13" y="131.42" width="0.9" height="0.9" fill="#1a2cff" opacity="0.75"/>
<rect x="159.51" y="144.22" width="0.9" height="0.9" fill="#1a2cff" opacity="0.82"/>
<rect x="152.25" y="149.93" width="0.9" height="0.9" fill="#1a2cff" opacity="0.64"/>
<rect x="163.58" y="138.85" width="0.9" height="0.9" fill="#1a2cff" opacity="0.59"/>
<rect x="153.83" y="153.27" width="0.9" height="0.9" fill="#1a2cff" opacity="0.8"/>
<rect x="150.2" y="164.76" width="0.9" height="0.9" fill="#1a2cff" opacity="0.57"/>
<rect x="156.1" y="141.41" width="0.9" height="0.9" fill="#1a2cff" opacity="0.63"/>
<rect x="169.3" y="157.49" width="0.9" height="0.9" fill="#1a2cff" opacity="0.79"/>
<rect x="151.27" y="143.32" width="0.9" height="0.9" fill="#1a2cff" opacity="0.51"/>
<rect x="158.42" y="156.66" width="0.9" height="0.9" fill="#1a2cff" opacity="0.78"/>
<rect x="143.12" y="160.35" width="0.9" height="0.9" fill="#1a2cff" opacity="0.84"/>
<rect x="157.27" y="132.09" width="0.9" height="0.9" fill="#1a2cff" opacity="0.52"/>
<rect x="142.17" y="137.98" width="0.9" height="0.9" fill="#1a2cff" opacity="0.86"/>
<rect x="159.04" y="157.64" width="0.9" height="0.9" fill="#1a2cff" opacity="0.78"/>
<rect x="167.48" y="155.69" width="0.9" height="0.9" fill="#1a2cff" opacity="0.69"/>
<rect x="159.55" y="159.25" width="0.9" height="0.9" fill="#1a2cff" opacity="0.68"/>
<rect x="161.07" y="138.93" width="0.9" height="0.9" fill="#1a2cff" opacity="0.72"/>
<rect x="154.82" y="162.03" width="0.9" height="0.9" fill="#1a2cff" opacity="0.41"/>
<rect x="147.08" y="131.55" width="0.9" height="0.9" fill="#1a2cff" opacity="0.78"/>
<rect x="167.59" y="157.54" width="0.9" height="0.9" fill="#1a2cff" opacity="0.55"/>
<rect x="165.03" y="163.03" width="0.9" height="0.9" fill="#1a2cff" opacity="0.66"/>
<rect x="149.22" y="142.69" width="0.9" height="0.9" fill="#1a2cff" opacity="0.58"/>
<rect x="150.92" y="148.09" width="0.9" height="0.9" fill="#1a2cff" opacity="0.7"/>
<rect x="168.15" y="132.29" width="0.9" height="0.9" fill="#1a2cff" opacity="0.66"/>
<rect x="143.1" y="134.99" width="0.9" height="0.9" fill="#1a2cff" opacity="0.8"/>
<rect x="158.11" y="168.58" width="0.9" height="0.9" fill="#1a2cff" opacity="0.6"/>
<rect x="142.4" y="146.26" width="0.9" height="0.9" fill="#1a2cff" opacity="0.68"/>
<rect x="168.26" y="171.19" width="0.9" height="0.9" fill="#1a2cff" opacity="0.61"/>
<rect x="153.55" y="134.29" width="0.9" height="0.9" fill="#1a2cff" opacity="0.7"/>
<rect x="147.94" y="136.37" width="0.9" height="0.9" fill="#1a2cff" opacity="0.36"/>
<rect x="142.13" y="158.72" width="0.9" height="0.9" fill="#1a2cff" opacity="0.42"/>
<rect x="169.06" y="133.7" width="0.9" height="0.9" fill="#1a2cff" opacity="0.83"/>
<rect x="145.61" y="130.75" width="0.9" height="0.9" fill="#1a2cff" opacity="0.75"/>
<rect x="148.78" y="160.81" width="0.9" height="0.9" fill="#1a2cff" opacity="0.45"/>
<rect x="143.4" y="162.51" width="0.9" height="0.9" fill="#1a2cff" opacity="0.74"/>
<rect x="165.95" y="160.65" width="0.9" height="0.9" fill="#1a2cff" opacity="0.4"/>
</g>
<rect x="132.7" y="116.6" width="77.1" height="77" fill="none" stroke="#a4a4a4" stroke-width="1.0"/>
<rect x="145" y="132.2" width="20.5" height="36.3" fill="none" stroke="#626262" stroke-width="0.75"/>
<rect x="166.2" y="132.2" width="21.2" height="36.3" fill="none" stroke="#626262" stroke-width="0.75"/>
<rect x="167" y="170" width="20.1" height="8.4" fill="none" stroke="#626262" stroke-width="0.75"/>
<line x1="131.1" y1="125" x2="132.7" y2="125" stroke="#555" stroke-width="0.7"/>
<line x1="131.1" y1="143.4" x2="132.7" y2="143.4" stroke="#555" stroke-width="0.7"/>
<line x1="131.1" y1="164.3" x2="132.7" y2="164.3" stroke="#555" stroke-width="0.7"/>
<line x1="131.1" y1="175.8" x2="132.7" y2="175.8" stroke="#555" stroke-width="0.7"/>
<line x1="131.1" y1="188.4" x2="132.7" y2="188.4" stroke="#555" stroke-width="0.7"/>
<line x1="146.2" y1="193.6" x2="146.2" y2="195.2" stroke="#555" stroke-width="0.7"/>
<line x1="168.9" y1="193.6" x2="168.9" y2="195.2" stroke="#555" stroke-width="0.7"/>
<line x1="189" y1="193.6" x2="189" y2="195.2" stroke="#555" stroke-width="0.7"/>
<line x1="208.8" y1="193.6" x2="208.8" y2="195.2" stroke="#555" stroke-width="0.7"/>
<line x1="131.6" y1="158.01" x2="132.7" y2="158.01" stroke="#666" stroke-width="0.6"/>
<line x1="131.6" y1="154.33" x2="132.7" y2="154.33" stroke="#666" stroke-width="0.6"/>
<line x1="131.6" y1="151.72" x2="132.7" y2="151.72" stroke="#666" stroke-width="0.6"/>
<line x1="131.6" y1="149.69" x2="132.7" y2="149.69" stroke="#666" stroke-width="0.6"/>
<line x1="131.6" y1="148.04" x2="132.7" y2="148.04" stroke="#666" stroke-width="0.6"/>
<line x1="131.6" y1="146.64" x2="132.7" y2="146.64" stroke="#666" stroke-width="0.6"/>
<line x1="131.6" y1="145.43" x2="132.7" y2="145.43" stroke="#666" stroke-width="0.6"/>
<line x1="131.6" y1="144.36" x2="132.7" y2="144.36" stroke="#666" stroke-width="0.6"/>
<line x1="131.6" y1="137.86" x2="132.7" y2="137.86" stroke="#666" stroke-width="0.6"/>
<line x1="131.6" y1="134.62" x2="132.7" y2="134.62" stroke="#666" stroke-width="0.6"/>
<line x1="131.6" y1="132.32" x2="132.7" y2="132.32" stroke="#666" stroke-width="0.6"/>
<line x1="131.6" y1="130.54" x2="132.7" y2="130.54" stroke="#666" stroke-width="0.6"/>
<line x1="131.6" y1="129.08" x2="132.7" y2="129.08" stroke="#666" stroke-width="0.6"/>
<line x1="131.6" y1="127.85" x2="132.7" y2="127.85" stroke="#666" stroke-width="0.6"/>
<line x1="131.6" y1="126.78" x2="132.7" y2="126.78" stroke="#666" stroke-width="0.6"/>
<line x1="131.6" y1="125.84" x2="132.7" y2="125.84" stroke="#666" stroke-width="0.6"/>
<line x1="174.95" y1="193.6" x2="174.95" y2="194.7" stroke="#666" stroke-width="0.6"/>
<line x1="178.49" y1="193.6" x2="178.49" y2="194.7" stroke="#666" stroke-width="0.6"/>
<line x1="181" y1="193.6" x2="181" y2="194.7" stroke="#666" stroke-width="0.6"/>
<line x1="182.95" y1="193.6" x2="182.95" y2="194.7" stroke="#666" stroke-width="0.6"/>
<line x1="184.54" y1="193.6" x2="184.54" y2="194.7" stroke="#666" stroke-width="0.6"/>
<line x1="185.89" y1="193.6" x2="185.89" y2="194.7" stroke="#666" stroke-width="0.6"/>
<line x1="187.05" y1="193.6" x2="187.05" y2="194.7" stroke="#666" stroke-width="0.6"/>
<line x1="188.08" y1="193.6" x2="188.08" y2="194.7" stroke="#666" stroke-width="0.6"/>
<line x1="194.96" y1="193.6" x2="194.96" y2="194.7" stroke="#666" stroke-width="0.6"/>
<line x1="198.45" y1="193.6" x2="198.45" y2="194.7" stroke="#666" stroke-width="0.6"/>
<line x1="200.92" y1="193.6" x2="200.92" y2="194.7" stroke="#666" stroke-width="0.6"/>
<line x1="202.84" y1="193.6" x2="202.84" y2="194.7" stroke="#666" stroke-width="0.6"/>
<line x1="204.41" y1="193.6" x2="204.41" y2="194.7" stroke="#666" stroke-width="0.6"/>
<line x1="205.73" y1="193.6" x2="205.73" y2="194.7" stroke="#666" stroke-width="0.6"/>
<line x1="206.88" y1="193.6" x2="206.88" y2="194.7" stroke="#666" stroke-width="0.6"/>
<line x1="207.89" y1="193.6" x2="207.89" y2="194.7" stroke="#666" stroke-width="0.6"/>
<rect x="131" y="175" width="1.6" height="1.8" fill="#111"/>
<rect x="145" y="193.3" width="7" height="1.4" fill="#222"/>
<text x="155.1" y="126.5" font-size="8.3" text-anchor="middle" fill="#1e1e1e" textLength="13" lengthAdjust="spacingAndGlyphs" stroke="#1e1e1e" stroke-width="0.06" style="">62.9</text>
<text x="201.35" y="126.5" font-size="8.3" text-anchor="middle" fill="#1e1e1e" textLength="12.7" lengthAdjust="spacingAndGlyphs" stroke="#1e1e1e" stroke-width="0.06" style="">16.3</text>
<text x="199.6" y="135.2" font-size="8.3" text-anchor="middle" fill="#1e1e1e" textLength="16" lengthAdjust="spacingAndGlyphs" stroke="#1e1e1e" stroke-width="0.06" style="">pro B</text>
<text x="200.75" y="177.3" font-size="8.3" text-anchor="middle" fill="#1e1e1e" textLength="12.9" lengthAdjust="spacingAndGlyphs" stroke="#1e1e1e" stroke-width="0.06" style="">16.5</text>
<text x="192.5" y="185.2" font-size="8.3" text-anchor="middle" fill="#1e1e1e" textLength="29.4" lengthAdjust="spacingAndGlyphs" stroke="#1e1e1e" stroke-width="0.06" style="">pre-pro B</text>
<text x="130" y="127.01" font-size="5.3" text-anchor="end" fill="#333">10<tspan font-size="0.72em" dy="-0.45em">5</tspan></text>
<text x="130" y="145.41" font-size="5.3" text-anchor="end" fill="#333">10<tspan font-size="0.72em" dy="-0.45em">4</tspan></text>
<text x="130" y="166.31" font-size="5.3" text-anchor="end" fill="#333">10<tspan font-size="0.72em" dy="-0.45em">3</tspan></text>
<text x="130" y="177.81" font-size="5.3" text-anchor="end" fill="#333">0</text>
<text x="130" y="190.41" font-size="5.3" text-anchor="end" fill="#333">-10<tspan font-size="0.72em" dy="-0.45em">3</tspan></text>
<text x="146.2" y="201.16" font-size="5.3" text-anchor="middle" fill="#333">0</text>
<text x="168.9" y="201.16" font-size="5.3" text-anchor="middle" fill="#333">10<tspan font-size="0.72em" dy="-0.45em">3</tspan></text>
<text x="189" y="201.16" font-size="5.3" text-anchor="middle" fill="#333">10<tspan font-size="0.72em" dy="-0.45em">4</tspan></text>
<text x="208.8" y="201.16" font-size="5.3" text-anchor="middle" fill="#333">10<tspan font-size="0.72em" dy="-0.45em">5</tspan></text>
<line x1="162" y1="162.5" x2="225.4" y2="162.5" stroke="#111" stroke-width="0.95"/>
<path d="M229.9 162.5L224.4 160.1L224.4 164.9z" fill="#111"/>
<clipPath id="fc6"><rect x="229.8" y="116.6" width="76.9" height="77"/></clipPath>
<g clip-path="url(#fc6)">
<g filter="url(#spkw)">
<path d="M258,188 L259,180 Q264,173 270,167 Q276,160 281,159.5 Q286,160.5 286,168 L286,188 Z" fill="#1a2cff" opacity="0.7"/>
</g>
<g filter="url(#spk)">
<path d="M265,187 L265.5,177 Q269,169 275,163.5 Q281,161 283.5,165 L284,187 Z" fill="#1a2cff" opacity="0.85"/>
<path d="M260,188 L260,182 Q263,179.5 267,179.5 L267,188 Z" fill="#1a2cff" opacity="0.7"/>
</g>
<g filter="url(#bl1)">
<ellipse cx="276.5" cy="168.5" rx="3.2" ry="5.4" fill="#3a8cff" opacity="0.75"/>
<ellipse cx="276.5" cy="168.8" rx="2" ry="3.8" fill="#6ae8d8" opacity="0.6"/>
<ellipse cx="274.5" cy="182.7" rx="8.6" ry="4.8" fill="#3a8cff"/>
<ellipse cx="274.5" cy="182.7" rx="7.8" ry="4.2" fill="#4ee4ff"/>
<ellipse cx="274.3" cy="182.7" rx="6.6" ry="3.4" fill="#8cf046"/>
<ellipse cx="275" cy="182.6" rx="4" ry="2.4" fill="#f2ec22"/>
<ellipse cx="275.4" cy="182.6" rx="3" ry="1.7" fill="#ff9410"/>
<ellipse cx="275.6" cy="182.6" rx="2.5" ry="1.4" fill="#e82400"/>
</g>
<rect x="280.46" y="152.44" width="0.9" height="0.9" fill="#1a2cff" opacity="0.6"/>
<rect x="280.97" y="155.25" width="0.9" height="0.9" fill="#1a2cff" opacity="0.39"/>
<rect x="273.15" y="152.97" width="0.9" height="0.9" fill="#1a2cff" opacity="0.44"/>
<rect x="279.22" y="145.41" width="0.9" height="0.9" fill="#1a2cff" opacity="0.72"/>
<rect x="274.36" y="150.77" width="0.9" height="0.9" fill="#1a2cff" opacity="0.7"/>
<rect x="275.61" y="144.03" width="0.9" height="0.9" fill="#1a2cff" opacity="0.78"/>
<rect x="279.04" y="141.6" width="0.9" height="0.9" fill="#1a2cff" opacity="0.38"/>
<rect x="279.93" y="159.41" width="0.9" height="0.9" fill="#1a2cff" opacity="0.81"/>
<rect x="279.83" y="142.02" width="0.9" height="0.9" fill="#1a2cff" opacity="0.59"/>
<rect x="281.75" y="149.65" width="0.9" height="0.9" fill="#1a2cff" opacity="0.84"/>
<rect x="269.21" y="178.77" width="0.9" height="0.9" fill="#1a2cff" opacity="0.8"/>
<rect x="285.95" y="161.35" width="0.9" height="0.9" fill="#1a2cff" opacity="0.81"/>
<rect x="283.22" y="187.75" width="0.9" height="0.9" fill="#1a2cff" opacity="0.66"/>
<rect x="263.86" y="187.24" width="0.9" height="0.9" fill="#1a2cff" opacity="0.79"/>
<rect x="278.65" y="189.24" width="0.9" height="0.9" fill="#1a2cff" opacity="0.54"/>
<rect x="257.06" y="177.72" width="0.9" height="0.9" fill="#1a2cff" opacity="0.79"/>
<rect x="261.22" y="184.01" width="0.9" height="0.9" fill="#1a2cff" opacity="0.86"/>
<rect x="262.43" y="179.42" width="0.9" height="0.9" fill="#1a2cff" opacity="0.72"/>
<rect x="270.75" y="166.61" width="0.9" height="0.9" fill="#1a2cff" opacity="0.49"/>
<rect x="281.04" y="185.33" width="0.9" height="0.9" fill="#1a2cff" opacity="0.6"/>
<rect x="257.16" y="185.81" width="0.9" height="0.9" fill="#1a2cff" opacity="0.77"/>
<rect x="262.38" y="178.55" width="0.9" height="0.9" fill="#1a2cff" opacity="0.84"/>
<rect x="285.86" y="176.7" width="0.9" height="0.9" fill="#1a2cff" opacity="0.61"/>
<rect x="275.22" y="166.05" width="0.9" height="0.9" fill="#1a2cff" opacity="0.46"/>
<rect x="260.5" y="182.43" width="0.9" height="0.9" fill="#1a2cff" opacity="0.55"/>
<rect x="274.32" y="172.88" width="0.9" height="0.9" fill="#1a2cff" opacity="0.63"/>
<rect x="259.36" y="161.43" width="0.9" height="0.9" fill="#1a2cff" opacity="0.9"/>
<rect x="267.47" y="163.4" width="0.9" height="0.9" fill="#1a2cff" opacity="0.7"/>
<rect x="282.34" y="165" width="0.9" height="0.9" fill="#1a2cff" opacity="0.68"/>
<rect x="266.42" y="176.62" width="0.9" height="0.9" fill="#1a2cff" opacity="0.36"/>
<rect x="255.21" y="191.69" width="0.9" height="0.9" fill="#1a2cff" opacity="0.83"/>
<rect x="271.51" y="178.15" width="0.9" height="0.9" fill="#1a2cff" opacity="0.49"/>
<rect x="282.05" y="173.63" width="0.9" height="0.9" fill="#1a2cff" opacity="0.87"/>
<rect x="281.62" y="186.2" width="0.9" height="0.9" fill="#1a2cff" opacity="0.88"/>
<rect x="263.14" y="161.21" width="0.9" height="0.9" fill="#1a2cff" opacity="0.46"/>
<rect x="260.51" y="162.68" width="0.9" height="0.9" fill="#1a2cff" opacity="0.38"/>
<rect x="274.07" y="187.86" width="0.9" height="0.9" fill="#1a2cff" opacity="0.6"/>
<rect x="288.1" y="189.12" width="0.9" height="0.9" fill="#1a2cff" opacity="0.39"/>
<rect x="275.53" y="172.72" width="0.9" height="0.9" fill="#1a2cff" opacity="0.42"/>
<rect x="288.53" y="168.23" width="0.9" height="0.9" fill="#1a2cff" opacity="0.66"/>
<rect x="277.06" y="190.61" width="0.9" height="0.9" fill="#1a2cff" opacity="0.72"/>
<rect x="268.15" y="174.35" width="0.9" height="0.9" fill="#1a2cff" opacity="0.44"/>
<rect x="288.77" y="191.73" width="0.9" height="0.9" fill="#1a2cff" opacity="0.47"/>
<rect x="255.39" y="168.19" width="0.9" height="0.9" fill="#1a2cff" opacity="0.54"/>
<rect x="286.5" y="188.95" width="0.9" height="0.9" fill="#1a2cff" opacity="0.81"/>
<rect x="255.69" y="185.16" width="0.9" height="0.9" fill="#1a2cff" opacity="0.74"/>
<rect x="277.28" y="191.53" width="0.9" height="0.9" fill="#1a2cff" opacity="0.38"/>
<rect x="259.21" y="184.16" width="0.9" height="0.9" fill="#1a2cff" opacity="0.87"/>
<rect x="278.37" y="169.56" width="0.9" height="0.9" fill="#1a2cff" opacity="0.68"/>
<rect x="281.28" y="163.37" width="0.9" height="0.9" fill="#1a2cff" opacity="0.53"/>
<rect x="263.25" y="163.97" width="0.9" height="0.9" fill="#1a2cff" opacity="0.61"/>
<rect x="260.07" y="167.63" width="0.9" height="0.9" fill="#1a2cff" opacity="0.43"/>
<rect x="278.4" y="160.4" width="0.9" height="0.9" fill="#1a2cff" opacity="0.74"/>
<rect x="261.02" y="161.15" width="0.9" height="0.9" fill="#1a2cff" opacity="0.86"/>
<rect x="261.94" y="189.89" width="0.9" height="0.9" fill="#1a2cff" opacity="0.83"/>
<rect x="285.99" y="164.47" width="0.9" height="0.9" fill="#1a2cff" opacity="0.6"/>
<rect x="257.49" y="189.72" width="0.9" height="0.9" fill="#1a2cff" opacity="0.81"/>
<rect x="276.62" y="174.47" width="0.9" height="0.9" fill="#1a2cff" opacity="0.54"/>
<rect x="283.63" y="175.28" width="0.9" height="0.9" fill="#1a2cff" opacity="0.7"/>
<rect x="259.14" y="167.09" width="0.9" height="0.9" fill="#1a2cff" opacity="0.38"/>
<rect x="279.69" y="177.71" width="0.9" height="0.9" fill="#1a2cff" opacity="0.43"/>
<rect x="285.35" y="168.52" width="0.9" height="0.9" fill="#1a2cff" opacity="0.58"/>
<rect x="259.6" y="168.68" width="0.9" height="0.9" fill="#1a2cff" opacity="0.81"/>
<rect x="266.04" y="165.37" width="0.9" height="0.9" fill="#1a2cff" opacity="0.62"/>
<rect x="265.45" y="188.9" width="0.9" height="0.9" fill="#1a2cff" opacity="0.41"/>
<rect x="289.23" y="161.82" width="0.9" height="0.9" fill="#1a2cff" opacity="0.84"/>
<rect x="278.06" y="166.76" width="0.9" height="0.9" fill="#1a2cff" opacity="0.61"/>
<rect x="264.3" y="168.25" width="0.9" height="0.9" fill="#1a2cff" opacity="0.46"/>
<rect x="267.11" y="191.71" width="0.9" height="0.9" fill="#1a2cff" opacity="0.9"/>
<rect x="287.3" y="163.12" width="0.9" height="0.9" fill="#1a2cff" opacity="0.51"/>
</g>
<rect x="229.8" y="116.6" width="76.9" height="77" fill="none" stroke="#a4a4a4" stroke-width="1.0"/>
<rect x="252.6" y="132.7" width="35.9" height="41.7" fill="none" stroke="#626262" stroke-width="0.75"/>
<rect x="252.6" y="175.8" width="35.9" height="14.9" fill="none" stroke="#626262" stroke-width="0.75"/>
<line x1="252.6" y1="174.8" x2="288.5" y2="174.8" stroke="#b8b8c4" stroke-width="2.2"/>
<line x1="228.2" y1="126.5" x2="229.8" y2="126.5" stroke="#555" stroke-width="0.7"/>
<line x1="228.2" y1="149.7" x2="229.8" y2="149.7" stroke="#555" stroke-width="0.7"/>
<line x1="228.2" y1="173" x2="229.8" y2="173" stroke="#555" stroke-width="0.7"/>
<line x1="228.2" y1="183.1" x2="229.8" y2="183.1" stroke="#555" stroke-width="0.7"/>
<line x1="235.4" y1="193.6" x2="235.4" y2="195.2" stroke="#555" stroke-width="0.7"/>
<line x1="248" y1="193.6" x2="248" y2="195.2" stroke="#555" stroke-width="0.7"/>
<line x1="259" y1="193.6" x2="259" y2="195.2" stroke="#555" stroke-width="0.7"/>
<line x1="279.8" y1="193.6" x2="279.8" y2="195.2" stroke="#555" stroke-width="0.7"/>
<line x1="297.8" y1="193.6" x2="297.8" y2="195.2" stroke="#555" stroke-width="0.7"/>
<line x1="228.7" y1="165.99" x2="229.8" y2="165.99" stroke="#666" stroke-width="0.6"/>
<line x1="228.7" y1="161.88" x2="229.8" y2="161.88" stroke="#666" stroke-width="0.6"/>
<line x1="228.7" y1="158.97" x2="229.8" y2="158.97" stroke="#666" stroke-width="0.6"/>
<line x1="228.7" y1="156.71" x2="229.8" y2="156.71" stroke="#666" stroke-width="0.6"/>
<line x1="228.7" y1="154.87" x2="229.8" y2="154.87" stroke="#666" stroke-width="0.6"/>
<line x1="228.7" y1="153.31" x2="229.8" y2="153.31" stroke="#666" stroke-width="0.6"/>
<line x1="228.7" y1="151.96" x2="229.8" y2="151.96" stroke="#666" stroke-width="0.6"/>
<line x1="228.7" y1="150.77" x2="229.8" y2="150.77" stroke="#666" stroke-width="0.6"/>
<line x1="228.7" y1="142.72" x2="229.8" y2="142.72" stroke="#666" stroke-width="0.6"/>
<line x1="228.7" y1="138.63" x2="229.8" y2="138.63" stroke="#666" stroke-width="0.6"/>
<line x1="228.7" y1="135.73" x2="229.8" y2="135.73" stroke="#666" stroke-width="0.6"/>
<line x1="228.7" y1="133.48" x2="229.8" y2="133.48" stroke="#666" stroke-width="0.6"/>
<line x1="228.7" y1="131.65" x2="229.8" y2="131.65" stroke="#666" stroke-width="0.6"/>
<line x1="228.7" y1="130.09" x2="229.8" y2="130.09" stroke="#666" stroke-width="0.6"/>
<line x1="228.7" y1="128.75" x2="229.8" y2="128.75" stroke="#666" stroke-width="0.6"/>
<line x1="228.7" y1="127.56" x2="229.8" y2="127.56" stroke="#666" stroke-width="0.6"/>
<line x1="265.26" y1="193.6" x2="265.26" y2="194.7" stroke="#666" stroke-width="0.6"/>
<line x1="268.92" y1="193.6" x2="268.92" y2="194.7" stroke="#666" stroke-width="0.6"/>
<line x1="271.52" y1="193.6" x2="271.52" y2="194.7" stroke="#666" stroke-width="0.6"/>
<line x1="273.54" y1="193.6" x2="273.54" y2="194.7" stroke="#666" stroke-width="0.6"/>
<line x1="275.19" y1="193.6" x2="275.19" y2="194.7" stroke="#666" stroke-width="0.6"/>
<line x1="276.58" y1="193.6" x2="276.58" y2="194.7" stroke="#666" stroke-width="0.6"/>
<line x1="277.78" y1="193.6" x2="277.78" y2="194.7" stroke="#666" stroke-width="0.6"/>
<line x1="278.85" y1="193.6" x2="278.85" y2="194.7" stroke="#666" stroke-width="0.6"/>
<line x1="285.22" y1="193.6" x2="285.22" y2="194.7" stroke="#666" stroke-width="0.6"/>
<line x1="288.39" y1="193.6" x2="288.39" y2="194.7" stroke="#666" stroke-width="0.6"/>
<line x1="290.64" y1="193.6" x2="290.64" y2="194.7" stroke="#666" stroke-width="0.6"/>
<line x1="292.38" y1="193.6" x2="292.38" y2="194.7" stroke="#666" stroke-width="0.6"/>
<line x1="293.81" y1="193.6" x2="293.81" y2="194.7" stroke="#666" stroke-width="0.6"/>
<line x1="295.01" y1="193.6" x2="295.01" y2="194.7" stroke="#666" stroke-width="0.6"/>
<line x1="296.06" y1="193.6" x2="296.06" y2="194.7" stroke="#666" stroke-width="0.6"/>
<line x1="296.98" y1="193.6" x2="296.98" y2="194.7" stroke="#666" stroke-width="0.6"/>
<rect x="228.1" y="182.4" width="1.6" height="1.8" fill="#111"/>
<rect x="244" y="193.3" width="5" height="1.4" fill="#222"/>
<text x="238.95" y="152.1" font-size="8.3" text-anchor="middle" fill="#1e1e1e" textLength="12.7" lengthAdjust="spacingAndGlyphs" stroke="#1e1e1e" stroke-width="0.06" style="">22.6</text>
<text x="242.6" y="161.2" font-size="8.3" text-anchor="middle" fill="#1e1e1e" textLength="20" lengthAdjust="spacingAndGlyphs" stroke="#1e1e1e" stroke-width="0.06" style="">Imm B</text>
<text x="240" y="178.9" font-size="8.3" text-anchor="middle" fill="#1e1e1e" textLength="13.2" lengthAdjust="spacingAndGlyphs" stroke="#1e1e1e" stroke-width="0.06" style="">74.0</text>
<text x="241.65" y="188" font-size="8.3" text-anchor="middle" fill="#1e1e1e" textLength="15.7" lengthAdjust="spacingAndGlyphs" stroke="#1e1e1e" stroke-width="0.06" style="">pre B</text>
<text x="227.3" y="128.51" font-size="5.3" text-anchor="end" fill="#333">10<tspan font-size="0.72em" dy="-0.45em">4</tspan></text>
<text x="227.3" y="151.71" font-size="5.3" text-anchor="end" fill="#333">10<tspan font-size="0.72em" dy="-0.45em">3</tspan></text>
<text x="227.3" y="175.01" font-size="5.3" text-anchor="end" fill="#333">10<tspan font-size="0.72em" dy="-0.45em">2</tspan></text>
<text x="227.3" y="185.11" font-size="5.3" text-anchor="end" fill="#333">0</text>
<text x="235.4" y="200.85" font-size="5.3" text-anchor="middle" fill="#333">-10<tspan font-size="0.72em" dy="-0.45em">3</tspan></text>
<text x="248" y="200.85" font-size="5.3" text-anchor="middle" fill="#333">0</text>
<text x="259" y="200.85" font-size="5.3" text-anchor="middle" fill="#333">10<tspan font-size="0.72em" dy="-0.45em">3</tspan></text>
<text x="279.8" y="200.85" font-size="5.3" text-anchor="middle" fill="#333">10<tspan font-size="0.72em" dy="-0.45em">4</tspan></text>
<text x="297.8" y="200.85" font-size="5.3" text-anchor="middle" fill="#333">10<tspan font-size="0.72em" dy="-0.45em">5</tspan></text>
<text transform="translate(16.1 65.5) rotate(-90)" x="0" y="0" font-size="9.7" text-anchor="middle" fill="#1e1e1e" textLength="32.8" lengthAdjust="spacingAndGlyphs" stroke="#1e1e1e" stroke-width="0.08" style="">BM only</text>
<text transform="translate(16.1 157.6) rotate(-90)" x="0" y="0" font-size="9.7" text-anchor="middle" fill="#1e1e1e" textLength="46.8" lengthAdjust="spacingAndGlyphs" stroke="#1e1e1e" stroke-width="0.08" style="">BM + T cells</text>
<line x1="30.3" y1="208" x2="30.3" y2="251.8" stroke="#333" stroke-width="1.3"/>
<line x1="29.7" y1="251.2" x2="82" y2="251.2" stroke="#333" stroke-width="1.3"/>
<path d="M30.3 203L27.6 210L33 210z" fill="#111"/>
<path d="M87 251.2L80 248.5L80 253.9z" fill="#111"/>
<line x1="128.5" y1="208" x2="128.5" y2="251.8" stroke="#333" stroke-width="1.3"/>
<line x1="127.9" y1="251.2" x2="180.6" y2="251.2" stroke="#333" stroke-width="1.3"/>
<path d="M128.5 203L125.8 210L131.2 210z" fill="#111"/>
<path d="M185.6 251.2L178.6 248.5L178.6 253.9z" fill="#111"/>
<line x1="224.3" y1="208" x2="224.3" y2="251.8" stroke="#333" stroke-width="1.3"/>
<line x1="223.7" y1="251.2" x2="276.3" y2="251.2" stroke="#333" stroke-width="1.3"/>
<path d="M224.3 203L221.6 210L227 210z" fill="#111"/>
<path d="M281.3 251.2L274.3 248.5L274.3 253.9z" fill="#111"/>
<text transform="translate(25.5 226.7) rotate(-90)" x="0" y="0" font-size="10" text-anchor="middle" fill="#1e1e1e" textLength="19.6" lengthAdjust="spacingAndGlyphs" stroke="#1e1e1e" stroke-width="0.08" style="">B220</text>
<text transform="translate(123.5 227) rotate(-90)" x="0" y="0" font-size="10" text-anchor="middle" fill="#1e1e1e" textLength="22" lengthAdjust="spacingAndGlyphs" stroke="#1e1e1e" stroke-width="0.08" style="">CD19</text>
<text transform="translate(219.5 226.5) rotate(-90)" x="0" y="0" font-size="10" text-anchor="middle" fill="#1e1e1e" textLength="16" lengthAdjust="spacingAndGlyphs" stroke="#1e1e1e" stroke-width="0.08" style="">IgM</text>
<text x="31" y="248.2" font-size="9.6" fill="#1e1e1e" textLength="50" lengthAdjust="spacingAndGlyphs">CD3<tspan font-size="5.5" dy="-4">-</tspan><tspan dy="4">CD11b</tspan><tspan font-size="5.5" dy="-4">-</tspan></text>
<text x="157" y="248.2" font-size="9.6" text-anchor="middle" fill="#1e1e1e" textLength="22" lengthAdjust="spacingAndGlyphs" stroke="#1e1e1e" stroke-width="0.08" style="">CD43</text>
<text x="252.8" y="248.2" font-size="9.6" text-anchor="middle" fill="#1e1e1e" textLength="22" lengthAdjust="spacingAndGlyphs" stroke="#1e1e1e" stroke-width="0.08" style="">CD19</text>
<text transform="translate(7.48 17.3) scale(0.82 1)" x="0" y="0" font-size="12.21" fill="#111" stroke="#111" stroke-width="0.1">A</text>
<text transform="translate(17.83 283.75) scale(0.87 1)" x="0" y="0" font-size="12.14" fill="#111" stroke="#111" stroke-width="0.1">B</text>
<text transform="translate(318.7 17.4) scale(0.88 1)" x="0" y="0" font-size="12.06" fill="#111" stroke="#111" stroke-width="0.1">C</text>
<text transform="translate(220.08 357) scale(0.96 1)" x="0" y="0" font-size="11.77" fill="#111" stroke="#111" stroke-width="0.1">D</text>
<text transform="translate(221.01 497) scale(0.78 1)" x="0" y="0" font-size="12.21" fill="#111" stroke="#111" stroke-width="0.1">E</text>
<line x1="45.2" y1="285.3" x2="45.2" y2="429.1" stroke="#1e1e1e" stroke-width="1.25"/>
<line x1="42" y1="428.5" x2="101.2" y2="428.5" stroke="#1e1e1e" stroke-width="1.25"/>
<line x1="73.4" y1="428.5" x2="73.4" y2="431.5" stroke="#1e1e1e" stroke-width="1.1"/>
<line x1="42.2" y1="287.2" x2="45.2" y2="287.2" stroke="#1e1e1e" stroke-width="1.1"/>
<text x="39.4" y="290.15" font-size="8.2" text-anchor="end" fill="#1e1e1e" stroke="#1e1e1e" stroke-width="0.22" style="">3</text>
<line x1="42.2" y1="334.3" x2="45.2" y2="334.3" stroke="#1e1e1e" stroke-width="1.1"/>
<text x="39.4" y="337.25" font-size="8.2" text-anchor="end" fill="#1e1e1e" stroke="#1e1e1e" stroke-width="0.22" style="">2</text>
<line x1="42.2" y1="381.4" x2="45.2" y2="381.4" stroke="#1e1e1e" stroke-width="1.1"/>
<text x="39.4" y="384.35" font-size="8.2" text-anchor="end" fill="#1e1e1e" stroke="#1e1e1e" stroke-width="0.22" style="">1</text>
<line x1="42.2" y1="428.5" x2="45.2" y2="428.5" stroke="#1e1e1e" stroke-width="1.1"/>
<text x="39.4" y="431.45" font-size="8.2" text-anchor="end" fill="#1e1e1e" stroke="#1e1e1e" stroke-width="0.22" style="">0</text>
<text x="73.4" y="441.8" font-size="8" text-anchor="middle" fill="#1e1e1e" textLength="31.3" lengthAdjust="spacingAndGlyphs" stroke="#1e1e1e" stroke-width="0.22" style="">pre-pro B</text>
<text transform="translate(28.5 356.5) rotate(-90)" x="0" y="0" font-size="8.4" text-anchor="middle" fill="#1e1e1e" textLength="57.6" lengthAdjust="spacingAndGlyphs" stroke="#1e1e1e" stroke-width="0.22" style="">Frequency (%)</text>
<line x1="57.4" y1="296.5" x2="89.7" y2="296.5" stroke="#444" stroke-width="1.3"/>
<text x="73.5" y="296" font-size="8" text-anchor="middle" fill="#1e1e1e" stroke="#1e1e1e" stroke-width="0.22" style="">*</text>
<circle cx="58.9" cy="312.6" r="1.05" fill="#a3062c"/>
<circle cx="58.9" cy="336.6" r="1.05" fill="#a3062c"/>
<circle cx="58.9" cy="340.3" r="1.05" fill="#a3062c"/>
<circle cx="57.4" cy="350.5" r="1.05" fill="#a3062c"/>
<circle cx="61.2" cy="350.5" r="1.05" fill="#a3062c"/>
<circle cx="59.2" cy="355.4" r="1.05" fill="#a3062c"/>
<circle cx="52.3" cy="356.6" r="1.05" fill="#a3062c"/>
<circle cx="66.2" cy="356.6" r="1.05" fill="#a3062c"/>
<circle cx="55.8" cy="358.8" r="1.05" fill="#a3062c"/>
<circle cx="62.6" cy="358.8" r="1.05" fill="#a3062c"/>
<circle cx="59.2" cy="359.6" r="1.05" fill="#a3062c"/>
<circle cx="59.2" cy="361.5" r="1.05" fill="#a3062c"/>
<circle cx="55.6" cy="366.3" r="1.05" fill="#a3062c"/>
<circle cx="62.7" cy="366.3" r="1.05" fill="#a3062c"/>
<circle cx="59.2" cy="378.4" r="1.05" fill="#a3062c"/>
<circle cx="55.9" cy="384.1" r="1.05" fill="#a3062c"/>
<circle cx="61" cy="382.7" r="1.05" fill="#a3062c"/>
<circle cx="57.8" cy="386.9" r="1.05" fill="#a3062c"/>
<circle cx="61" cy="389" r="1.05" fill="#a3062c"/>
<circle cx="55.6" cy="391.2" r="1.05" fill="#a3062c"/>
<circle cx="62.5" cy="392.3" r="1.05" fill="#a3062c"/>
<circle cx="58.9" cy="394.5" r="1.05" fill="#a3062c"/>
<circle cx="53" cy="364.5" r="1.05" fill="#a3062c"/>
<circle cx="65.5" cy="364.5" r="1.05" fill="#a3062c"/>
<rect x="86.4" y="303.9" width="2" height="2" fill="#e3911e"/>
<rect x="86.4" y="315.6" width="2" height="2" fill="#e3911e"/>
<rect x="86.4" y="350" width="2" height="2" fill="#e3911e"/>
<rect x="81.4" y="363.2" width="2" height="2" fill="#e3911e"/>
<rect x="89.5" y="361.5" width="2" height="2" fill="#e3911e"/>
<rect x="86.6" y="363.9" width="2" height="2" fill="#e3911e"/>
<rect x="83.1" y="365.3" width="2" height="2" fill="#e3911e"/>
<rect x="86.6" y="368.1" width="2" height="2" fill="#e3911e"/>
<rect x="89.5" y="367.4" width="2" height="2" fill="#e3911e"/>
<rect x="78.8" y="376.3" width="2" height="2" fill="#e3911e"/>
<rect x="94.4" y="376.3" width="2" height="2" fill="#e3911e"/>
<rect x="83" y="373.5" width="2" height="2" fill="#e3911e"/>
<rect x="90" y="373.5" width="2" height="2" fill="#e3911e"/>
<rect x="86.6" y="375.5" width="2" height="2" fill="#e3911e"/>
<rect x="89.5" y="384.5" width="2" height="2" fill="#e3911e"/>
<rect x="88" y="385.9" width="2" height="2" fill="#e3911e"/>
<rect x="84.5" y="388" width="2" height="2" fill="#e3911e"/>
<rect x="89.5" y="389" width="2" height="2" fill="#e3911e"/>
<rect x="81.4" y="391.3" width="2" height="2" fill="#e3911e"/>
<rect x="86.6" y="392.3" width="2" height="2" fill="#e3911e"/>
<rect x="83.1" y="392.7" width="2" height="2" fill="#e3911e"/>
<rect x="86.6" y="395.9" width="2" height="2" fill="#e3911e"/>
<rect x="89.5" y="395.9" width="2" height="2" fill="#e3911e"/>
<rect x="86.6" y="400.1" width="2" height="2" fill="#e3911e"/>
<rect x="84.8" y="417.9" width="2" height="2" fill="#e3911e"/>
<rect x="88.3" y="416.1" width="2" height="2" fill="#e3911e"/>
<rect x="85" y="380" width="2" height="2" fill="#e3911e"/>
<rect x="88" y="380" width="2" height="2" fill="#e3911e"/>
<line x1="50.1" y1="364.9" x2="68.3" y2="364.9" stroke="#a3062c" stroke-width="1.3"/>
<line x1="59.2" y1="361" x2="59.2" y2="369.1" stroke="#a3062c" stroke-width="1"/>
<line x1="55" y1="361" x2="63.4" y2="361" stroke="#a3062c" stroke-width="1"/>
<line x1="55" y1="369.1" x2="63.4" y2="369.1" stroke="#a3062c" stroke-width="1"/>
<line x1="78.4" y1="377.3" x2="96.8" y2="377.3" stroke="#e3911e" stroke-width="1.3"/>
<line x1="87.6" y1="373.4" x2="87.6" y2="382" stroke="#e3911e" stroke-width="1"/>
<line x1="83.4" y1="373.4" x2="91.8" y2="373.4" stroke="#e3911e" stroke-width="1"/>
<line x1="83.4" y1="382" x2="91.8" y2="382" stroke="#e3911e" stroke-width="1"/>
<line x1="131.3" y1="285.8" x2="131.3" y2="429.4" stroke="#1e1e1e" stroke-width="1.25"/>
<line x1="128.1" y1="428.8" x2="187" y2="428.8" stroke="#1e1e1e" stroke-width="1.25"/>
<line x1="160.4" y1="428.8" x2="160.4" y2="431.8" stroke="#1e1e1e" stroke-width="1.1"/>
<line x1="128.3" y1="287.8" x2="131.3" y2="287.8" stroke="#1e1e1e" stroke-width="1.1"/>
<text x="125.6" y="290.75" font-size="8.2" text-anchor="end" fill="#1e1e1e" stroke="#1e1e1e" stroke-width="0.22" style="">8</text>
<line x1="128.3" y1="323" x2="131.3" y2="323" stroke="#1e1e1e" stroke-width="1.1"/>
<text x="125.6" y="325.95" font-size="8.2" text-anchor="end" fill="#1e1e1e" stroke="#1e1e1e" stroke-width="0.22" style="">6</text>
<line x1="128.3" y1="358.2" x2="131.3" y2="358.2" stroke="#1e1e1e" stroke-width="1.1"/>
<text x="125.6" y="361.15" font-size="8.2" text-anchor="end" fill="#1e1e1e" stroke="#1e1e1e" stroke-width="0.22" style="">4</text>
<line x1="128.3" y1="393.5" x2="131.3" y2="393.5" stroke="#1e1e1e" stroke-width="1.1"/>
<text x="125.6" y="396.45" font-size="8.2" text-anchor="end" fill="#1e1e1e" stroke="#1e1e1e" stroke-width="0.22" style="">2</text>
<line x1="128.3" y1="428.8" x2="131.3" y2="428.8" stroke="#1e1e1e" stroke-width="1.1"/>
<text x="125.6" y="431.75" font-size="8.2" text-anchor="end" fill="#1e1e1e" stroke="#1e1e1e" stroke-width="0.22" style="">0</text>
<text x="160.2" y="442" font-size="8" text-anchor="middle" fill="#1e1e1e" textLength="17.7" lengthAdjust="spacingAndGlyphs" stroke="#1e1e1e" stroke-width="0.22" style="">pro B</text>
<text transform="translate(116 356.3) rotate(-90)" x="0" y="0" font-size="8.4" text-anchor="middle" fill="#1e1e1e" textLength="58" lengthAdjust="spacingAndGlyphs" stroke="#1e1e1e" stroke-width="0.22" style="">Frequency (%)</text>
<line x1="144" y1="299.8" x2="175.5" y2="299.8" stroke="#444" stroke-width="1.3"/>
<text x="159.8" y="299.2" font-size="8" text-anchor="middle" fill="#1e1e1e" textLength="10.5" lengthAdjust="spacingAndGlyphs" stroke="#1e1e1e" stroke-width="0.22" style="">***</text>
<circle cx="145.7" cy="347.99" r="1.05" fill="#a3062c"/>
<circle cx="145.7" cy="359.91" r="1.05" fill="#a3062c"/>
<circle cx="144.1" cy="370.52" r="1.05" fill="#a3062c"/>
<circle cx="147.73" cy="370.81" r="1.05" fill="#a3062c"/>
<circle cx="147.73" cy="375.61" r="1.05" fill="#a3062c"/>
<circle cx="142.79" cy="378.08" r="1.05" fill="#a3062c"/>
<circle cx="139.01" cy="380.99" r="1.05" fill="#a3062c"/>
<circle cx="143.08" cy="380.99" r="1.05" fill="#a3062c"/>
<circle cx="145.99" cy="379.97" r="1.05" fill="#a3062c"/>
<circle cx="148.9" cy="381.42" r="1.05" fill="#a3062c"/>
<circle cx="152.53" cy="380.99" r="1.05" fill="#a3062c"/>
<circle cx="141.34" cy="383.6" r="1.05" fill="#a3062c"/>
<circle cx="144.53" cy="383.6" r="1.05" fill="#a3062c"/>
<circle cx="147.15" cy="385.06" r="1.05" fill="#a3062c"/>
<circle cx="143.81" cy="386.22" r="1.05" fill="#a3062c"/>
<circle cx="147.44" cy="386.8" r="1.05" fill="#a3062c"/>
<circle cx="143.81" cy="393.49" r="1.05" fill="#a3062c"/>
<circle cx="147.44" cy="395.96" r="1.05" fill="#a3062c"/>
<circle cx="139.01" cy="403.95" r="1.05" fill="#a3062c"/>
<circle cx="145.7" cy="402.5" r="1.05" fill="#a3062c"/>
<circle cx="152.53" cy="403.95" r="1.05" fill="#a3062c"/>
<circle cx="142.35" cy="407.15" r="1.05" fill="#a3062c"/>
<circle cx="145.7" cy="407.15" r="1.05" fill="#a3062c"/>
<circle cx="149.19" cy="407.15" r="1.05" fill="#a3062c"/>
<circle cx="145.7" cy="411.22" r="1.05" fill="#a3062c"/>
<circle cx="145.6" cy="297.2" r="1.05" fill="#a3062c"/>
<rect x="172.6" y="350.34" width="2" height="2" fill="#e3911e"/>
<rect x="172.6" y="360.51" width="2" height="2" fill="#e3911e"/>
<rect x="172.6" y="369.96" width="2" height="2" fill="#e3911e"/>
<rect x="172.6" y="375.34" width="2" height="2" fill="#e3911e"/>
<rect x="172.6" y="389.58" width="2" height="2" fill="#e3911e"/>
<rect x="171.15" y="393.94" width="2" height="2" fill="#e3911e"/>
<rect x="175.22" y="393.07" width="2" height="2" fill="#e3911e"/>
<rect x="176.24" y="394.96" width="2" height="2" fill="#e3911e"/>
<rect x="169.41" y="396.85" width="2" height="2" fill="#e3911e"/>
<rect x="172.6" y="397.14" width="2" height="2" fill="#e3911e"/>
<rect x="168.97" y="401.5" width="2" height="2" fill="#e3911e"/>
<rect x="175.51" y="401.79" width="2" height="2" fill="#e3911e"/>
<rect x="172.31" y="404.12" width="2" height="2" fill="#e3911e"/>
<rect x="170.42" y="405.86" width="2" height="2" fill="#e3911e"/>
<rect x="175.51" y="405.57" width="2" height="2" fill="#e3911e"/>
<rect x="172.6" y="407.31" width="2" height="2" fill="#e3911e"/>
<rect x="169.41" y="410.22" width="2" height="2" fill="#e3911e"/>
<rect x="173.33" y="410.22" width="2" height="2" fill="#e3911e"/>
<rect x="176.24" y="408.77" width="2" height="2" fill="#e3911e"/>
<rect x="171.15" y="415.31" width="2" height="2" fill="#e3911e"/>
<rect x="174.78" y="414.87" width="2" height="2" fill="#e3911e"/>
<rect x="169.41" y="420.1" width="2" height="2" fill="#e3911e"/>
<rect x="172.6" y="420.1" width="2" height="2" fill="#e3911e"/>
<rect x="176.24" y="419.67" width="2" height="2" fill="#e3911e"/>
<rect x="165.05" y="423.59" width="2" height="2" fill="#e3911e"/>
<rect x="168.24" y="424.76" width="2" height="2" fill="#e3911e"/>
<rect x="171.88" y="425.92" width="2" height="2" fill="#e3911e"/>
<rect x="175.22" y="425.48" width="2" height="2" fill="#e3911e"/>
<rect x="178.42" y="424.03" width="2" height="2" fill="#e3911e"/>
<rect x="180.6" y="423.3" width="2" height="2" fill="#e3911e"/>
<rect x="171.15" y="426.94" width="2" height="2" fill="#e3911e"/>
<line x1="136.9" y1="383.3" x2="154.5" y2="383.3" stroke="#a3062c" stroke-width="1.3"/>
<line x1="145.7" y1="379" x2="145.7" y2="388" stroke="#a3062c" stroke-width="1"/>
<line x1="141.4" y1="379" x2="150" y2="379" stroke="#a3062c" stroke-width="1"/>
<line x1="141.4" y1="388" x2="150" y2="388" stroke="#a3062c" stroke-width="1"/>
<line x1="164.9" y1="404.7" x2="182.9" y2="404.7" stroke="#e3911e" stroke-width="1.3"/>
<line x1="173.9" y1="400.8" x2="173.9" y2="408.3" stroke="#e3911e" stroke-width="1"/>
<line x1="169.6" y1="400.8" x2="178.2" y2="400.8" stroke="#e3911e" stroke-width="1"/>
<line x1="169.6" y1="408.3" x2="178.2" y2="408.3" stroke="#e3911e" stroke-width="1"/>
<line x1="45.5" y1="452.3" x2="45.5" y2="595.8" stroke="#1e1e1e" stroke-width="1.25"/>
<line x1="42.3" y1="595.2" x2="101.2" y2="595.2" stroke="#1e1e1e" stroke-width="1.25"/>
<line x1="73.3" y1="595.2" x2="73.3" y2="598.2" stroke="#1e1e1e" stroke-width="1.1"/>
<line x1="42.5" y1="454.5" x2="45.5" y2="454.5" stroke="#1e1e1e" stroke-width="1.1"/>
<text x="39.4" y="457.45" font-size="8.2" text-anchor="end" fill="#1e1e1e" stroke="#1e1e1e" stroke-width="0.22" style="">25</text>
<line x1="42.5" y1="482.6" x2="45.5" y2="482.6" stroke="#1e1e1e" stroke-width="1.1"/>
<text x="39.4" y="485.55" font-size="8.2" text-anchor="end" fill="#1e1e1e" stroke="#1e1e1e" stroke-width="0.22" style="">20</text>
<line x1="42.5" y1="510.7" x2="45.5" y2="510.7" stroke="#1e1e1e" stroke-width="1.1"/>
<text x="39.4" y="513.65" font-size="8.2" text-anchor="end" fill="#1e1e1e" stroke="#1e1e1e" stroke-width="0.22" style="">15</text>
<line x1="42.5" y1="538.9" x2="45.5" y2="538.9" stroke="#1e1e1e" stroke-width="1.1"/>
<text x="39.4" y="541.85" font-size="8.2" text-anchor="end" fill="#1e1e1e" stroke="#1e1e1e" stroke-width="0.22" style="">10</text>
<line x1="42.5" y1="567" x2="45.5" y2="567" stroke="#1e1e1e" stroke-width="1.1"/>
<text x="39.4" y="569.95" font-size="8.2" text-anchor="end" fill="#1e1e1e" stroke="#1e1e1e" stroke-width="0.22" style="">5</text>
<line x1="42.5" y1="595.2" x2="45.5" y2="595.2" stroke="#1e1e1e" stroke-width="1.1"/>
<text x="39.4" y="598.15" font-size="8.2" text-anchor="end" fill="#1e1e1e" stroke="#1e1e1e" stroke-width="0.22" style="">0</text>
<text x="73.5" y="608.6" font-size="8" text-anchor="middle" fill="#1e1e1e" textLength="18" lengthAdjust="spacingAndGlyphs" stroke="#1e1e1e" stroke-width="0.22" style="">pre B</text>
<text transform="translate(24.2 524) rotate(-90)" x="0" y="0" font-size="8.4" text-anchor="middle" fill="#1e1e1e" textLength="58.7" lengthAdjust="spacingAndGlyphs" stroke="#1e1e1e" stroke-width="0.22" style="">Frequency (%)</text>
<line x1="57" y1="466.8" x2="89.8" y2="466.8" stroke="#444" stroke-width="1.3"/>
<text x="73.8" y="466.2" font-size="8" text-anchor="middle" fill="#1e1e1e" textLength="13.6" lengthAdjust="spacingAndGlyphs" stroke="#1e1e1e" stroke-width="0.22" style="">****</text>
<circle cx="59" cy="478.6" r="1.05" fill="#a3062c"/>
<circle cx="59" cy="484.8" r="1.05" fill="#a3062c"/>
<circle cx="59" cy="489.9" r="1.05" fill="#a3062c"/>
<circle cx="56.3" cy="495.7" r="1.05" fill="#a3062c"/>
<circle cx="59.8" cy="496.3" r="1.05" fill="#a3062c"/>
<circle cx="63.9" cy="496.3" r="1.05" fill="#a3062c"/>
<circle cx="62.5" cy="498.8" r="1.05" fill="#a3062c"/>
<circle cx="55.7" cy="501.2" r="1.05" fill="#a3062c"/>
<circle cx="59" cy="501.8" r="1.05" fill="#a3062c"/>
<circle cx="61.8" cy="504.5" r="1.05" fill="#a3062c"/>
<circle cx="57.7" cy="508" r="1.05" fill="#a3062c"/>
<circle cx="59.8" cy="510" r="1.05" fill="#a3062c"/>
<circle cx="55.3" cy="513.6" r="1.05" fill="#a3062c"/>
<circle cx="63.1" cy="513.6" r="1.05" fill="#a3062c"/>
<circle cx="57.3" cy="516.2" r="1.05" fill="#a3062c"/>
<circle cx="59.8" cy="514.2" r="1.05" fill="#a3062c"/>
<circle cx="55.7" cy="519.7" r="1.05" fill="#a3062c"/>
<circle cx="61" cy="519.7" r="1.05" fill="#a3062c"/>
<circle cx="57.7" cy="523" r="1.05" fill="#a3062c"/>
<circle cx="61" cy="525" r="1.05" fill="#a3062c"/>
<circle cx="55.7" cy="530" r="1.05" fill="#a3062c"/>
<circle cx="62.5" cy="530.6" r="1.05" fill="#a3062c"/>
<circle cx="57.7" cy="535.7" r="1.05" fill="#a3062c"/>
<circle cx="61" cy="536.2" r="1.05" fill="#a3062c"/>
<circle cx="59" cy="544" r="1.05" fill="#a3062c"/>
<rect x="86.1" y="477.6" width="2" height="2" fill="#e3911e"/>
<rect x="86.1" y="497.4" width="2" height="2" fill="#e3911e"/>
<rect x="86.1" y="518.3" width="2" height="2" fill="#e3911e"/>
<rect x="86.1" y="527.1" width="2" height="2" fill="#e3911e"/>
<rect x="83" y="531" width="2" height="2" fill="#e3911e"/>
<rect x="89.6" y="531.7" width="2" height="2" fill="#e3911e"/>
<rect x="86.1" y="534.3" width="2" height="2" fill="#e3911e"/>
<rect x="86.1" y="537.8" width="2" height="2" fill="#e3911e"/>
<rect x="88.2" y="541.9" width="2" height="2" fill="#e3911e"/>
<rect x="84.7" y="544" width="2" height="2" fill="#e3911e"/>
<rect x="86.1" y="548.7" width="2" height="2" fill="#e3911e"/>
<rect x="86.1" y="554.9" width="2" height="2" fill="#e3911e"/>
<rect x="83" y="562.5" width="2" height="2" fill="#e3911e"/>
<rect x="87.1" y="563.1" width="2" height="2" fill="#e3911e"/>
<rect x="85.1" y="571.1" width="2" height="2" fill="#e3911e"/>
<rect x="88.2" y="570.1" width="2" height="2" fill="#e3911e"/>
<rect x="79.3" y="576.9" width="2" height="2" fill="#e3911e"/>
<rect x="92.9" y="576.9" width="2" height="2" fill="#e3911e"/>
<rect x="82.6" y="579.5" width="2" height="2" fill="#e3911e"/>
<rect x="89.2" y="578.9" width="2" height="2" fill="#e3911e"/>
<rect x="86.1" y="581.6" width="2" height="2" fill="#e3911e"/>
<rect x="84.1" y="583.6" width="2" height="2" fill="#e3911e"/>
<rect x="87.6" y="583" width="2" height="2" fill="#e3911e"/>
<rect x="82.6" y="590.2" width="2" height="2" fill="#e3911e"/>
<rect x="89.6" y="591.9" width="2" height="2" fill="#e3911e"/>
<rect x="86.1" y="593.3" width="2" height="2" fill="#e3911e"/>
<line x1="50" y1="512.1" x2="68" y2="512.1" stroke="#a3062c" stroke-width="1.3"/>
<line x1="59" y1="508" x2="59" y2="516.2" stroke="#a3062c" stroke-width="1"/>
<line x1="54.7" y1="508" x2="63.3" y2="508" stroke="#a3062c" stroke-width="1"/>
<line x1="54.7" y1="516.2" x2="63.3" y2="516.2" stroke="#a3062c" stroke-width="1"/>
<line x1="78.2" y1="558.4" x2="96.4" y2="558.4" stroke="#e3911e" stroke-width="1.3"/>
<line x1="87.3" y1="552.2" x2="87.3" y2="564.5" stroke="#e3911e" stroke-width="1"/>
<line x1="83" y1="552.2" x2="91.6" y2="552.2" stroke="#e3911e" stroke-width="1"/>
<line x1="83" y1="564.5" x2="91.6" y2="564.5" stroke="#e3911e" stroke-width="1"/>
<line x1="132.2" y1="452.2" x2="132.2" y2="596" stroke="#1e1e1e" stroke-width="1.25"/>
<line x1="129" y1="595.4" x2="187.8" y2="595.4" stroke="#1e1e1e" stroke-width="1.25"/>
<line x1="160.4" y1="595.4" x2="160.4" y2="598.4" stroke="#1e1e1e" stroke-width="1.1"/>
<line x1="129.2" y1="454.3" x2="132.2" y2="454.3" stroke="#1e1e1e" stroke-width="1.1"/>
<text x="126.3" y="457.25" font-size="8.2" text-anchor="end" fill="#1e1e1e" stroke="#1e1e1e" stroke-width="0.22" style="">5</text>
<line x1="129.2" y1="482.5" x2="132.2" y2="482.5" stroke="#1e1e1e" stroke-width="1.1"/>
<text x="126.3" y="485.45" font-size="8.2" text-anchor="end" fill="#1e1e1e" stroke="#1e1e1e" stroke-width="0.22" style="">4</text>
<line x1="129.2" y1="510.7" x2="132.2" y2="510.7" stroke="#1e1e1e" stroke-width="1.1"/>
<text x="126.3" y="513.65" font-size="8.2" text-anchor="end" fill="#1e1e1e" stroke="#1e1e1e" stroke-width="0.22" style="">3</text>
<line x1="129.2" y1="538.9" x2="132.2" y2="538.9" stroke="#1e1e1e" stroke-width="1.1"/>
<text x="126.3" y="541.85" font-size="8.2" text-anchor="end" fill="#1e1e1e" stroke="#1e1e1e" stroke-width="0.22" style="">2</text>
<line x1="129.2" y1="567.1" x2="132.2" y2="567.1" stroke="#1e1e1e" stroke-width="1.1"/>
<text x="126.3" y="570.05" font-size="8.2" text-anchor="end" fill="#1e1e1e" stroke="#1e1e1e" stroke-width="0.22" style="">1</text>
<line x1="129.2" y1="595.4" x2="132.2" y2="595.4" stroke="#1e1e1e" stroke-width="1.1"/>
<text x="126.3" y="598.35" font-size="8.2" text-anchor="end" fill="#1e1e1e" stroke="#1e1e1e" stroke-width="0.22" style="">0</text>
<text x="160.5" y="608.8" font-size="8" text-anchor="middle" fill="#1e1e1e" textLength="40.6" lengthAdjust="spacingAndGlyphs" stroke="#1e1e1e" stroke-width="0.22" style="">Immature B</text>
<text transform="translate(115.6 523.7) rotate(-90)" x="0" y="0" font-size="8.4" text-anchor="middle" fill="#1e1e1e" textLength="58" lengthAdjust="spacingAndGlyphs" stroke="#1e1e1e" stroke-width="0.22" style="">Frequency (%)</text>
<line x1="144.2" y1="466.8" x2="175.6" y2="466.8" stroke="#444" stroke-width="1.3"/>
<text x="160" y="466.2" font-size="8" text-anchor="middle" fill="#1e1e1e" textLength="13.1" lengthAdjust="spacingAndGlyphs" stroke="#1e1e1e" stroke-width="0.22" style="">****</text>
<circle cx="146" cy="479.2" r="1.05" fill="#a3062c"/>
<circle cx="146" cy="494.2" r="1.05" fill="#a3062c"/>
<circle cx="142.7" cy="497.7" r="1.05" fill="#a3062c"/>
<circle cx="149.5" cy="497.7" r="1.05" fill="#a3062c"/>
<circle cx="146" cy="499.2" r="1.05" fill="#a3062c"/>
<circle cx="146" cy="503.3" r="1.05" fill="#a3062c"/>
<circle cx="142.7" cy="512.1" r="1.05" fill="#a3062c"/>
<circle cx="148.9" cy="513.1" r="1.05" fill="#a3062c"/>
<circle cx="146" cy="514.8" r="1.05" fill="#a3062c"/>
<circle cx="138.2" cy="519.3" r="1.05" fill="#a3062c"/>
<circle cx="154.2" cy="519.7" r="1.05" fill="#a3062c"/>
<circle cx="142.7" cy="517.3" r="1.05" fill="#a3062c"/>
<circle cx="146" cy="521" r="1.05" fill="#a3062c"/>
<circle cx="149.5" cy="520.3" r="1.05" fill="#a3062c"/>
<circle cx="146" cy="523.4" r="1.05" fill="#a3062c"/>
<circle cx="144.4" cy="529.6" r="1.05" fill="#a3062c"/>
<circle cx="148.1" cy="532" r="1.05" fill="#a3062c"/>
<circle cx="142.7" cy="538.8" r="1.05" fill="#a3062c"/>
<circle cx="149.5" cy="538.8" r="1.05" fill="#a3062c"/>
<circle cx="144.4" cy="541.9" r="1.05" fill="#a3062c"/>
<circle cx="147.5" cy="543.6" r="1.05" fill="#a3062c"/>
<circle cx="146" cy="557.9" r="1.05" fill="#a3062c"/>
<rect x="173.2" y="495.7" width="2" height="2" fill="#e3911e"/>
<rect x="173.2" y="524.5" width="2" height="2" fill="#e3911e"/>
<rect x="173.2" y="531" width="2" height="2" fill="#e3911e"/>
<rect x="171.1" y="534.7" width="2" height="2" fill="#e3911e"/>
<rect x="174.6" y="536.4" width="2" height="2" fill="#e3911e"/>
<rect x="173.2" y="540.9" width="2" height="2" fill="#e3911e"/>
<rect x="171.7" y="544.6" width="2" height="2" fill="#e3911e"/>
<rect x="176.7" y="545" width="2" height="2" fill="#e3911e"/>
<rect x="172.6" y="549.1" width="2" height="2" fill="#e3911e"/>
<rect x="173.2" y="557.8" width="2" height="2" fill="#e3911e"/>
<rect x="171.1" y="560.4" width="2" height="2" fill="#e3911e"/>
<rect x="173.2" y="565.6" width="2" height="2" fill="#e3911e"/>
<rect x="171.1" y="570.1" width="2" height="2" fill="#e3911e"/>
<rect x="173.2" y="574.8" width="2" height="2" fill="#e3911e"/>
<rect x="177.9" y="577.5" width="2" height="2" fill="#e3911e"/>
<rect x="168" y="579.5" width="2" height="2" fill="#e3911e"/>
<rect x="171.7" y="580.4" width="2" height="2" fill="#e3911e"/>
<rect x="175.2" y="580" width="2" height="2" fill="#e3911e"/>
<rect x="169.7" y="587.8" width="2" height="2" fill="#e3911e"/>
<rect x="176.7" y="586.1" width="2" height="2" fill="#e3911e"/>
<rect x="173.2" y="589.2" width="2" height="2" fill="#e3911e"/>
<rect x="168" y="591.9" width="2" height="2" fill="#e3911e"/>
<rect x="177.9" y="591.9" width="2" height="2" fill="#e3911e"/>
<rect x="171.1" y="593.3" width="2" height="2" fill="#e3911e"/>
<rect x="174.6" y="593.3" width="2" height="2" fill="#e3911e"/>
<line x1="136.9" y1="519.7" x2="154.9" y2="519.7" stroke="#a3062c" stroke-width="1.3"/>
<line x1="145.9" y1="515.6" x2="145.9" y2="523.8" stroke="#a3062c" stroke-width="1"/>
<line x1="141.6" y1="515.6" x2="150.2" y2="515.6" stroke="#a3062c" stroke-width="1"/>
<line x1="141.6" y1="523.8" x2="150.2" y2="523.8" stroke="#a3062c" stroke-width="1"/>
<line x1="165.3" y1="563.9" x2="183.1" y2="563.9" stroke="#e3911e" stroke-width="1.3"/>
<line x1="174.2" y1="558.8" x2="174.2" y2="568.2" stroke="#e3911e" stroke-width="1"/>
<line x1="169.9" y1="558.8" x2="178.5" y2="558.8" stroke="#e3911e" stroke-width="1"/>
<line x1="169.9" y1="568.2" x2="178.5" y2="568.2" stroke="#e3911e" stroke-width="1"/>
<circle cx="57.3" cy="621.5" r="2.2" fill="#a3062c"/>
<text x="63.2" y="624.4" font-size="8.4" text-anchor="start" fill="#1e1e1e" textLength="27.8" lengthAdjust="spacingAndGlyphs" stroke="#1e1e1e" stroke-width="0.1" style="">BM only</text>
<rect x="103.8" y="619.4" width="4.4" height="4.4" fill="#e3911e"/>
<text x="111.4" y="624.4" font-size="8.4" text-anchor="start" fill="#1e1e1e" textLength="40" lengthAdjust="spacingAndGlyphs" stroke="#1e1e1e" stroke-width="0.1" style="">BM + T cells</text>
<line x1="360.2" y1="25.5" x2="360.2" y2="150.2" stroke="#1e1e1e" stroke-width="1.25"/>
<line x1="357" y1="149.6" x2="407.4" y2="149.6" stroke="#1e1e1e" stroke-width="1.25"/>
<line x1="384.4" y1="149.6" x2="384.4" y2="152.6" stroke="#1e1e1e" stroke-width="1.1"/>
<line x1="357.2" y1="28" x2="360.2" y2="28" stroke="#1e1e1e" stroke-width="1.1"/>
<text x="354.3" y="30.66" font-size="7.4" text-anchor="end" fill="#1e1e1e" stroke="#1e1e1e" stroke-width="0.22" style="">1×10<tspan font-size="0.72em" dy="-0.45em">5</tspan></text>
<line x1="357.2" y1="52.9" x2="360.2" y2="52.9" stroke="#1e1e1e" stroke-width="1.1"/>
<text x="354.3" y="55.56" font-size="7.4" text-anchor="end" fill="#1e1e1e" stroke="#1e1e1e" stroke-width="0.22" style="">8×10<tspan font-size="0.72em" dy="-0.45em">5</tspan></text>
<line x1="357.2" y1="77.3" x2="360.2" y2="77.3" stroke="#1e1e1e" stroke-width="1.1"/>
<text x="354.3" y="79.96" font-size="7.4" text-anchor="end" fill="#1e1e1e" stroke="#1e1e1e" stroke-width="0.22" style="">6×10<tspan font-size="0.72em" dy="-0.45em">5</tspan></text>
<line x1="357.2" y1="102" x2="360.2" y2="102" stroke="#1e1e1e" stroke-width="1.1"/>
<text x="354.3" y="104.66" font-size="7.4" text-anchor="end" fill="#1e1e1e" stroke="#1e1e1e" stroke-width="0.22" style="">4×10<tspan font-size="0.72em" dy="-0.45em">5</tspan></text>
<line x1="357.2" y1="126" x2="360.2" y2="126" stroke="#1e1e1e" stroke-width="1.1"/>
<text x="354.3" y="128.66" font-size="7.4" text-anchor="end" fill="#1e1e1e" stroke="#1e1e1e" stroke-width="0.22" style="">2×10<tspan font-size="0.72em" dy="-0.45em">5</tspan></text>
<line x1="357.2" y1="149.6" x2="360.2" y2="149.6" stroke="#1e1e1e" stroke-width="1.1"/>
<text x="354.3" y="152.26" font-size="7.4" text-anchor="end" fill="#1e1e1e" stroke="#1e1e1e" stroke-width="0.22" style="">0</text>
<text x="384.6" y="162.3" font-size="8" text-anchor="middle" fill="#1e1e1e" textLength="31.5" lengthAdjust="spacingAndGlyphs" stroke="#1e1e1e" stroke-width="0.22" style="">pre-pro B</text>
<text transform="translate(325.9 87.4) rotate(-90)" x="0" y="0" font-size="9.4" text-anchor="middle" fill="#1e1e1e" textLength="40.7" lengthAdjust="spacingAndGlyphs" stroke="#1e1e1e" stroke-width="0.08" style="">Cell count</text>
<line x1="368.1" y1="46.4" x2="400.6" y2="46.4" stroke="#444" stroke-width="1.3"/>
<text x="384.5" y="43.6" font-size="7.5" text-anchor="middle" fill="#1e1e1e" textLength="13" lengthAdjust="spacingAndGlyphs" stroke="#1e1e1e" stroke-width="0.22" style="">NS .</text>
<circle cx="370.75" cy="64.31" r="1.05" fill="#a3062c"/>
<circle cx="373.75" cy="64" r="1.05" fill="#a3062c"/>
<circle cx="372.25" cy="68.21" r="1.05" fill="#a3062c"/>
<circle cx="372.25" cy="73.31" r="1.05" fill="#a3062c"/>
<circle cx="372.25" cy="80.21" r="1.05" fill="#a3062c"/>
<circle cx="371.8" cy="93.27" r="1.05" fill="#a3062c"/>
<circle cx="373.3" cy="96.72" r="1.05" fill="#a3062c"/>
<circle cx="370" cy="104.53" r="1.05" fill="#a3062c"/>
<circle cx="373.3" cy="104.23" r="1.05" fill="#a3062c"/>
<circle cx="367.75" cy="108.73" r="1.05" fill="#a3062c"/>
<circle cx="371.5" cy="109.33" r="1.05" fill="#a3062c"/>
<circle cx="375.25" cy="108.28" r="1.05" fill="#a3062c"/>
<circle cx="369.25" cy="111.73" r="1.05" fill="#a3062c"/>
<circle cx="374.8" cy="111.73" r="1.05" fill="#a3062c"/>
<circle cx="371.8" cy="114.73" r="1.05" fill="#a3062c"/>
<rect x="395.25" y="73.21" width="2" height="2" fill="#e3911e"/>
<rect x="394.2" y="82.22" width="2" height="2" fill="#e3911e"/>
<rect x="397.2" y="84.02" width="2" height="2" fill="#e3911e"/>
<rect x="395.25" y="91.22" width="2" height="2" fill="#e3911e"/>
<rect x="393.75" y="92.27" width="2" height="2" fill="#e3911e"/>
<rect x="398.25" y="94.22" width="2" height="2" fill="#e3911e"/>
<rect x="396.75" y="95.27" width="2" height="2" fill="#e3911e"/>
<rect x="394.5" y="97.52" width="2" height="2" fill="#e3911e"/>
<rect x="396.75" y="106.83" width="2" height="2" fill="#e3911e"/>
<rect x="393.75" y="110.28" width="2" height="2" fill="#e3911e"/>
<rect x="392.25" y="115.83" width="2" height="2" fill="#e3911e"/>
<rect x="398.7" y="115.53" width="2" height="2" fill="#e3911e"/>
<rect x="395.25" y="117.03" width="2" height="2" fill="#e3911e"/>
<rect x="395.25" y="121.24" width="2" height="2" fill="#e3911e"/>
<rect x="395.25" y="132.04" width="2" height="2" fill="#e3911e"/>
<rect x="395.25" y="137.6" width="2" height="2" fill="#e3911e"/>
<line x1="364.4" y1="94.3" x2="380" y2="94.3" stroke="#a3062c" stroke-width="1.3"/>
<line x1="372.2" y1="90.2" x2="372.2" y2="98.5" stroke="#a3062c" stroke-width="1"/>
<line x1="368.2" y1="90.2" x2="376.2" y2="90.2" stroke="#a3062c" stroke-width="1"/>
<line x1="368.2" y1="98.5" x2="376.2" y2="98.5" stroke="#a3062c" stroke-width="1"/>
<line x1="388.2" y1="101.8" x2="404.4" y2="101.8" stroke="#e3911e" stroke-width="1.3"/>
<line x1="396.3" y1="96.2" x2="396.3" y2="106.7" stroke="#e3911e" stroke-width="1"/>
<line x1="392.3" y1="96.2" x2="400.3" y2="96.2" stroke="#e3911e" stroke-width="1"/>
<line x1="392.3" y1="106.7" x2="400.3" y2="106.7" stroke="#e3911e" stroke-width="1"/>
<line x1="464" y1="25.5" x2="464" y2="150.2" stroke="#1e1e1e" stroke-width="1.25"/>
<line x1="460.8" y1="149.6" x2="512.6" y2="149.6" stroke="#1e1e1e" stroke-width="1.25"/>
<line x1="488.5" y1="149.6" x2="488.5" y2="152.6" stroke="#1e1e1e" stroke-width="1.1"/>
<line x1="461" y1="27.3" x2="464" y2="27.3" stroke="#1e1e1e" stroke-width="1.1"/>
<text x="458" y="29.96" font-size="7.4" text-anchor="end" fill="#1e1e1e" stroke="#1e1e1e" stroke-width="0.22" style="">2.0×10<tspan font-size="0.72em" dy="-0.45em">5</tspan></text>
<line x1="461" y1="58.8" x2="464" y2="58.8" stroke="#1e1e1e" stroke-width="1.1"/>
<text x="458" y="61.46" font-size="7.4" text-anchor="end" fill="#1e1e1e" stroke="#1e1e1e" stroke-width="0.22" style="">1.5×10<tspan font-size="0.72em" dy="-0.45em">5</tspan></text>
<line x1="461" y1="89.6" x2="464" y2="89.6" stroke="#1e1e1e" stroke-width="1.1"/>
<text x="458" y="92.26" font-size="7.4" text-anchor="end" fill="#1e1e1e" stroke="#1e1e1e" stroke-width="0.22" style="">1.0×10<tspan font-size="0.72em" dy="-0.45em">5</tspan></text>
<line x1="461" y1="120.5" x2="464" y2="120.5" stroke="#1e1e1e" stroke-width="1.1"/>
<text x="458" y="123.16" font-size="7.4" text-anchor="end" fill="#1e1e1e" stroke="#1e1e1e" stroke-width="0.22" style="">5.0×10<tspan font-size="0.72em" dy="-0.45em">5</tspan></text>
<line x1="461" y1="149.6" x2="464" y2="149.6" stroke="#1e1e1e" stroke-width="1.1"/>
<text x="458" y="152.26" font-size="7.4" text-anchor="end" fill="#1e1e1e" stroke="#1e1e1e" stroke-width="0.22" style="">0.0</text>
<text x="488.6" y="162.7" font-size="8.4" text-anchor="middle" fill="#1e1e1e" textLength="17.2" lengthAdjust="spacingAndGlyphs" stroke="#1e1e1e" stroke-width="0.22" style="">pro B</text>
<text transform="translate(422.9 87.4) rotate(-90)" x="0" y="0" font-size="9.4" text-anchor="middle" fill="#1e1e1e" textLength="40.7" lengthAdjust="spacingAndGlyphs" stroke="#1e1e1e" stroke-width="0.08" style="">Cell count</text>
<line x1="473" y1="41.8" x2="505.5" y2="41.8" stroke="#444" stroke-width="1.3"/>
<text x="489.3" y="41" font-size="7.5" text-anchor="middle" fill="#1e1e1e" textLength="12.6" lengthAdjust="spacingAndGlyphs" stroke="#1e1e1e" stroke-width="0.22" style="">****</text>
<circle cx="476.14" cy="54.1" r="1.05" fill="#a3062c"/>
<circle cx="477.8" cy="60.02" r="1.05" fill="#a3062c"/>
<circle cx="474.24" cy="62.39" r="1.05" fill="#a3062c"/>
<circle cx="474.24" cy="77.09" r="1.05" fill="#a3062c"/>
<circle cx="477.8" cy="77.09" r="1.05" fill="#a3062c"/>
<circle cx="476.14" cy="83.72" r="1.05" fill="#a3062c"/>
<circle cx="473.77" cy="84.91" r="1.05" fill="#a3062c"/>
<circle cx="477.8" cy="85.62" r="1.05" fill="#a3062c"/>
<circle cx="479.45" cy="87.27" r="1.05" fill="#a3062c"/>
<circle cx="471.87" cy="93.2" r="1.05" fill="#a3062c"/>
<circle cx="478.98" cy="96.75" r="1.05" fill="#a3062c"/>
<circle cx="476.14" cy="100.31" r="1.05" fill="#a3062c"/>
<circle cx="477.8" cy="104.57" r="1.05" fill="#a3062c"/>
<circle cx="474.24" cy="110.26" r="1.05" fill="#a3062c"/>
<circle cx="477.09" cy="108.6" r="1.05" fill="#a3062c"/>
<circle cx="476.61" cy="119.74" r="1.05" fill="#a3062c"/>
<circle cx="476.14" cy="125.9" r="1.05" fill="#a3062c"/>
<rect x="499.31" y="98.83" width="2" height="2" fill="#e3911e"/>
<rect x="499.31" y="106.89" width="2" height="2" fill="#e3911e"/>
<rect x="499.31" y="113.53" width="2" height="2" fill="#e3911e"/>
<rect x="495.75" y="121.82" width="2" height="2" fill="#e3911e"/>
<rect x="500.49" y="122.53" width="2" height="2" fill="#e3911e"/>
<rect x="503.57" y="123.48" width="2" height="2" fill="#e3911e"/>
<rect x="494.57" y="127.74" width="2" height="2" fill="#e3911e"/>
<rect x="499.31" y="128.93" width="2" height="2" fill="#e3911e"/>
<rect x="504.52" y="130.11" width="2" height="2" fill="#e3911e"/>
<rect x="496.94" y="134.85" width="2" height="2" fill="#e3911e"/>
<rect x="500.49" y="137.22" width="2" height="2" fill="#e3911e"/>
<rect x="495.75" y="140.78" width="2" height="2" fill="#e3911e"/>
<rect x="502.15" y="141.49" width="2" height="2" fill="#e3911e"/>
<rect x="498.12" y="144.33" width="2" height="2" fill="#e3911e"/>
<rect x="496.46" y="146.7" width="2" height="2" fill="#e3911e"/>
<rect x="499.78" y="147.18" width="2" height="2" fill="#e3911e"/>
<rect x="502.15" y="145.52" width="2" height="2" fill="#e3911e"/>
<line x1="467.8" y1="89.6" x2="484.4" y2="89.6" stroke="#a3062c" stroke-width="1.3"/>
<line x1="476.1" y1="85.6" x2="476.1" y2="93.8" stroke="#a3062c" stroke-width="1"/>
<line x1="472.1" y1="85.6" x2="480.1" y2="85.6" stroke="#a3062c" stroke-width="1"/>
<line x1="472.1" y1="93.8" x2="480.1" y2="93.8" stroke="#a3062c" stroke-width="1"/>
<line x1="492.7" y1="131.6" x2="507.9" y2="131.6" stroke="#e3911e" stroke-width="1.3"/>
<line x1="500.3" y1="128.3" x2="500.3" y2="135" stroke="#e3911e" stroke-width="1"/>
<line x1="496.3" y1="128.3" x2="504.3" y2="128.3" stroke="#e3911e" stroke-width="1"/>
<line x1="496.3" y1="135" x2="504.3" y2="135" stroke="#e3911e" stroke-width="1"/>
<line x1="359.8" y1="177" x2="359.8" y2="300.5" stroke="#1e1e1e" stroke-width="1.25"/>
<line x1="356.6" y1="299.9" x2="407.4" y2="299.9" stroke="#1e1e1e" stroke-width="1.25"/>
<line x1="384.4" y1="299.9" x2="384.4" y2="302.9" stroke="#1e1e1e" stroke-width="1.1"/>
<line x1="356.8" y1="179" x2="359.8" y2="179" stroke="#1e1e1e" stroke-width="1.1"/>
<text x="354.3" y="181.66" font-size="7.4" text-anchor="end" fill="#1e1e1e" stroke="#1e1e1e" stroke-width="0.22" style="">8×10<tspan font-size="0.72em" dy="-0.45em">5</tspan></text>
<line x1="356.8" y1="209.8" x2="359.8" y2="209.8" stroke="#1e1e1e" stroke-width="1.1"/>
<text x="354.3" y="212.46" font-size="7.4" text-anchor="end" fill="#1e1e1e" stroke="#1e1e1e" stroke-width="0.22" style="">6×10<tspan font-size="0.72em" dy="-0.45em">5</tspan></text>
<line x1="356.8" y1="239.9" x2="359.8" y2="239.9" stroke="#1e1e1e" stroke-width="1.1"/>
<text x="354.3" y="242.56" font-size="7.4" text-anchor="end" fill="#1e1e1e" stroke="#1e1e1e" stroke-width="0.22" style="">4×10<tspan font-size="0.72em" dy="-0.45em">5</tspan></text>
<line x1="356.8" y1="270.7" x2="359.8" y2="270.7" stroke="#1e1e1e" stroke-width="1.1"/>
<text x="354.3" y="273.36" font-size="7.4" text-anchor="end" fill="#1e1e1e" stroke="#1e1e1e" stroke-width="0.22" style="">2×10<tspan font-size="0.72em" dy="-0.45em">5</tspan></text>
<line x1="356.8" y1="299.9" x2="359.8" y2="299.9" stroke="#1e1e1e" stroke-width="1.1"/>
<text x="354.3" y="302.56" font-size="7.4" text-anchor="end" fill="#1e1e1e" stroke="#1e1e1e" stroke-width="0.22" style="">0</text>
<text x="384.5" y="313.8" font-size="8.8" text-anchor="middle" fill="#1e1e1e" textLength="17" lengthAdjust="spacingAndGlyphs" stroke="#1e1e1e" stroke-width="0.22" style="">pre B</text>
<text transform="translate(325.3 238.8) rotate(-90)" x="0" y="0" font-size="9.4" text-anchor="middle" fill="#1e1e1e" textLength="40.7" lengthAdjust="spacingAndGlyphs" stroke="#1e1e1e" stroke-width="0.08" style="">Cell count</text>
<line x1="370" y1="192" x2="402.7" y2="192" stroke="#444" stroke-width="1.3"/>
<text x="386.3" y="191.2" font-size="7.5" text-anchor="middle" fill="#1e1e1e" textLength="12.6" lengthAdjust="spacingAndGlyphs" stroke="#1e1e1e" stroke-width="0.22" style="">****</text>
<circle cx="371.87" cy="188.48" r="1.05" fill="#a3062c"/>
<circle cx="369.03" cy="197.96" r="1.05" fill="#a3062c"/>
<circle cx="373.06" cy="197.96" r="1.05" fill="#a3062c"/>
<circle cx="370.69" cy="200.81" r="1.05" fill="#a3062c"/>
<circle cx="374.24" cy="200.33" r="1.05" fill="#a3062c"/>
<circle cx="371.87" cy="206.73" r="1.05" fill="#a3062c"/>
<circle cx="370.69" cy="213.84" r="1.05" fill="#a3062c"/>
<circle cx="374.72" cy="216.21" r="1.05" fill="#a3062c"/>
<circle cx="371.87" cy="219.76" r="1.05" fill="#a3062c"/>
<circle cx="372.35" cy="229.24" r="1.05" fill="#a3062c"/>
<circle cx="368.32" cy="242.27" r="1.05" fill="#a3062c"/>
<circle cx="374.24" cy="242.27" r="1.05" fill="#a3062c"/>
<circle cx="370.69" cy="245.36" r="1.05" fill="#a3062c"/>
<circle cx="373.06" cy="245.36" r="1.05" fill="#a3062c"/>
<rect x="395.58" y="223.92" width="2" height="2" fill="#e3911e"/>
<rect x="395.58" y="232.21" width="2" height="2" fill="#e3911e"/>
<rect x="395.58" y="239.73" width="2" height="2" fill="#e3911e"/>
<rect x="395.58" y="250.09" width="2" height="2" fill="#e3911e"/>
<rect x="395.58" y="263.3" width="2" height="2" fill="#e3911e"/>
<rect x="393.25" y="266.67" width="2" height="2" fill="#e3911e"/>
<rect x="397.13" y="267.45" width="2" height="2" fill="#e3911e"/>
<rect x="394.28" y="270.55" width="2" height="2" fill="#e3911e"/>
<rect x="395.58" y="276.64" width="2" height="2" fill="#e3911e"/>
<rect x="398.43" y="278.84" width="2" height="2" fill="#e3911e"/>
<rect x="392.6" y="281.44" width="2" height="2" fill="#e3911e"/>
<rect x="395.58" y="282.21" width="2" height="2" fill="#e3911e"/>
<rect x="393.9" y="289.98" width="2" height="2" fill="#e3911e"/>
<rect x="396.88" y="287.91" width="2" height="2" fill="#e3911e"/>
<rect x="392.34" y="295.68" width="2" height="2" fill="#e3911e"/>
<rect x="395.58" y="294.52" width="2" height="2" fill="#e3911e"/>
<rect x="398.43" y="296.72" width="2" height="2" fill="#e3911e"/>
<rect x="395.19" y="298.02" width="2" height="2" fill="#e3911e"/>
<line x1="363.7" y1="216.9" x2="380.1" y2="216.9" stroke="#a3062c" stroke-width="1.3"/>
<line x1="371.9" y1="212.6" x2="371.9" y2="221.6" stroke="#a3062c" stroke-width="1"/>
<line x1="367.9" y1="212.6" x2="375.9" y2="212.6" stroke="#a3062c" stroke-width="1"/>
<line x1="367.9" y1="221.6" x2="375.9" y2="221.6" stroke="#a3062c" stroke-width="1"/>
<line x1="388.2" y1="272.6" x2="404.4" y2="272.6" stroke="#e3911e" stroke-width="1.3"/>
<line x1="396.3" y1="267.6" x2="396.3" y2="277.8" stroke="#e3911e" stroke-width="1"/>
<line x1="392.3" y1="267.6" x2="400.3" y2="267.6" stroke="#e3911e" stroke-width="1"/>
<line x1="392.3" y1="277.8" x2="400.3" y2="277.8" stroke="#e3911e" stroke-width="1"/>
<line x1="464" y1="177" x2="464" y2="300.5" stroke="#1e1e1e" stroke-width="1.25"/>
<line x1="460.8" y1="299.9" x2="512.6" y2="299.9" stroke="#1e1e1e" stroke-width="1.25"/>
<line x1="488.5" y1="299.9" x2="488.5" y2="302.9" stroke="#1e1e1e" stroke-width="1.1"/>
<line x1="461" y1="179" x2="464" y2="179" stroke="#1e1e1e" stroke-width="1.1"/>
<text x="458" y="181.66" font-size="7.4" text-anchor="end" fill="#1e1e1e" stroke="#1e1e1e" stroke-width="0.22" style="">2.0×10<tspan font-size="0.72em" dy="-0.45em">5</tspan></text>
<line x1="461" y1="209.1" x2="464" y2="209.1" stroke="#1e1e1e" stroke-width="1.1"/>
<text x="458" y="211.76" font-size="7.4" text-anchor="end" fill="#1e1e1e" stroke="#1e1e1e" stroke-width="0.22" style="">1.5×10<tspan font-size="0.72em" dy="-0.45em">5</tspan></text>
<line x1="461" y1="239.2" x2="464" y2="239.2" stroke="#1e1e1e" stroke-width="1.1"/>
<text x="458" y="241.86" font-size="7.4" text-anchor="end" fill="#1e1e1e" stroke="#1e1e1e" stroke-width="0.22" style="">1.0×10<tspan font-size="0.72em" dy="-0.45em">5</tspan></text>
<line x1="461" y1="270" x2="464" y2="270" stroke="#1e1e1e" stroke-width="1.1"/>
<text x="458" y="272.66" font-size="7.4" text-anchor="end" fill="#1e1e1e" stroke="#1e1e1e" stroke-width="0.22" style="">5.0×10<tspan font-size="0.72em" dy="-0.45em">5</tspan></text>
<line x1="461" y1="299.9" x2="464" y2="299.9" stroke="#1e1e1e" stroke-width="1.1"/>
<text x="458" y="302.56" font-size="7.4" text-anchor="end" fill="#1e1e1e" stroke="#1e1e1e" stroke-width="0.22" style="">0.0</text>
<text x="488.35" y="313.8" font-size="8.6" text-anchor="middle" fill="#1e1e1e" textLength="39.1" lengthAdjust="spacingAndGlyphs" stroke="#1e1e1e" stroke-width="0.22" style="">Immature B</text>
<text transform="translate(422.9 238.8) rotate(-90)" x="0" y="0" font-size="9.4" text-anchor="middle" fill="#1e1e1e" textLength="40.7" lengthAdjust="spacingAndGlyphs" stroke="#1e1e1e" stroke-width="0.08" style="">Cell count</text>
<line x1="475.4" y1="192" x2="507" y2="192" stroke="#444" stroke-width="1.3"/>
<text x="491.3" y="191.2" font-size="7.5" text-anchor="middle" fill="#1e1e1e" textLength="12.6" lengthAdjust="spacingAndGlyphs" stroke="#1e1e1e" stroke-width="0.22" style="">****</text>
<circle cx="476.14" cy="212.18" r="1.05" fill="#a3062c"/>
<circle cx="478.51" cy="215.02" r="1.05" fill="#a3062c"/>
<circle cx="474.24" cy="219.29" r="1.05" fill="#a3062c"/>
<circle cx="477.8" cy="219.76" r="1.05" fill="#a3062c"/>
<circle cx="476.14" cy="224.98" r="1.05" fill="#a3062c"/>
<circle cx="475.43" cy="232.09" r="1.05" fill="#a3062c"/>
<circle cx="473.77" cy="239.91" r="1.05" fill="#a3062c"/>
<circle cx="477.8" cy="239.91" r="1.05" fill="#a3062c"/>
<circle cx="476.14" cy="243.93" r="1.05" fill="#a3062c"/>
<circle cx="476.14" cy="252.46" r="1.05" fill="#a3062c"/>
<circle cx="473.06" cy="259.57" r="1.05" fill="#a3062c"/>
<circle cx="479.45" cy="260.05" r="1.05" fill="#a3062c"/>
<circle cx="476.14" cy="264.79" r="1.05" fill="#a3062c"/>
<rect x="499.58" y="251.12" width="2" height="2" fill="#e3911e"/>
<rect x="499.58" y="256.18" width="2" height="2" fill="#e3911e"/>
<rect x="499.58" y="260.19" width="2" height="2" fill="#e3911e"/>
<rect x="498.03" y="271.85" width="2" height="2" fill="#e3911e"/>
<rect x="499.58" y="272.11" width="2" height="2" fill="#e3911e"/>
<rect x="502.43" y="274.96" width="2" height="2" fill="#e3911e"/>
<rect x="501.13" y="276.64" width="2" height="2" fill="#e3911e"/>
<rect x="497.25" y="278.33" width="2" height="2" fill="#e3911e"/>
<rect x="499.58" y="279.23" width="2" height="2" fill="#e3911e"/>
<rect x="496.6" y="285.71" width="2" height="2" fill="#e3911e"/>
<rect x="499.58" y="286.1" width="2" height="2" fill="#e3911e"/>
<rect x="502.43" y="285.71" width="2" height="2" fill="#e3911e"/>
<rect x="499.58" y="287.65" width="2" height="2" fill="#e3911e"/>
<rect x="501.13" y="290.89" width="2" height="2" fill="#e3911e"/>
<rect x="496.6" y="292.19" width="2" height="2" fill="#e3911e"/>
<rect x="498.54" y="294.13" width="2" height="2" fill="#e3911e"/>
<rect x="501.13" y="295.17" width="2" height="2" fill="#e3911e"/>
<rect x="496.6" y="296.72" width="2" height="2" fill="#e3911e"/>
<rect x="499.58" y="298.02" width="2" height="2" fill="#e3911e"/>
<rect x="502.43" y="298.27" width="2" height="2" fill="#e3911e"/>
<line x1="468.3" y1="237.5" x2="483.9" y2="237.5" stroke="#a3062c" stroke-width="1.3"/>
<line x1="476.1" y1="233.5" x2="476.1" y2="242.3" stroke="#a3062c" stroke-width="1"/>
<line x1="472.1" y1="233.5" x2="480.1" y2="233.5" stroke="#a3062c" stroke-width="1"/>
<line x1="472.1" y1="242.3" x2="480.1" y2="242.3" stroke="#a3062c" stroke-width="1"/>
<line x1="492.8" y1="282.5" x2="507.8" y2="282.5" stroke="#e3911e" stroke-width="1.3"/>
<line x1="500.3" y1="279.2" x2="500.3" y2="286.8" stroke="#e3911e" stroke-width="1"/>
<line x1="496.3" y1="279.2" x2="504.3" y2="279.2" stroke="#e3911e" stroke-width="1"/>
<line x1="496.3" y1="286.8" x2="504.3" y2="286.8" stroke="#e3911e" stroke-width="1"/>
<circle cx="364.2" cy="325.6" r="2.2" fill="#a3062c"/>
<text x="369.8" y="328.6" font-size="8.4" text-anchor="start" fill="#1e1e1e" textLength="27.6" lengthAdjust="spacingAndGlyphs" stroke="#1e1e1e" stroke-width="0.1" style="">BM only</text>
<rect x="410.8" y="323.4" width="4.3" height="4.3" fill="#e3911e"/>
<text x="418.5" y="328.6" font-size="8.4" text-anchor="start" fill="#1e1e1e" textLength="40" lengthAdjust="spacingAndGlyphs" stroke="#1e1e1e" stroke-width="0.1" style="">BM + T cells</text>
<text x="298.8" y="365" font-size="9.2" text-anchor="middle" fill="#1e1e1e" textLength="17.5" lengthAdjust="spacingAndGlyphs" stroke="#1e1e1e" stroke-width="0.08" style="font-style:italic;">Ebf1</text>
<rect x="254" y="403" width="12.9" height="51.6" fill="#a3062c"/>
<line x1="260.45" y1="398.5" x2="260.45" y2="403" stroke="#a3062c" stroke-width="1.1"/>
<line x1="257.15" y1="398.5" x2="263.75" y2="398.5" stroke="#a3062c" stroke-width="1.1"/>
<line x1="260.45" y1="454.6" x2="260.45" y2="457.6" stroke="#1e1e1e" stroke-width="1.1"/>
<rect x="274" y="447.2" width="12.9" height="7.4" fill="#e3911e"/>
<line x1="280.45" y1="444.4" x2="280.45" y2="447.2" stroke="#e3911e" stroke-width="1.1"/>
<line x1="277.15" y1="444.4" x2="283.75" y2="444.4" stroke="#e3911e" stroke-width="1.1"/>
<line x1="280.45" y1="454.6" x2="280.45" y2="457.6" stroke="#1e1e1e" stroke-width="1.1"/>
<line x1="250.4" y1="374.2" x2="250.4" y2="455.2" stroke="#1e1e1e" stroke-width="1.25"/>
<line x1="247.2" y1="454.6" x2="290.7" y2="454.6" stroke="#1e1e1e" stroke-width="1.25"/>
<line x1="247.4" y1="378" x2="250.4" y2="378" stroke="#1e1e1e" stroke-width="1.1"/>
<text x="244.4" y="380.88" font-size="8" text-anchor="end" fill="#1e1e1e" textLength="9.4" lengthAdjust="spacingAndGlyphs" stroke="#1e1e1e" stroke-width="0.22" style="">1.5</text>
<line x1="247.4" y1="403.7" x2="250.4" y2="403.7" stroke="#1e1e1e" stroke-width="1.1"/>
<text x="244.4" y="406.58" font-size="8" text-anchor="end" fill="#1e1e1e" textLength="9.4" lengthAdjust="spacingAndGlyphs" stroke="#1e1e1e" stroke-width="0.22" style="">1.0</text>
<line x1="247.4" y1="429.1" x2="250.4" y2="429.1" stroke="#1e1e1e" stroke-width="1.1"/>
<text x="244.4" y="431.98" font-size="8" text-anchor="end" fill="#1e1e1e" textLength="9.4" lengthAdjust="spacingAndGlyphs" stroke="#1e1e1e" stroke-width="0.22" style="">0.5</text>
<line x1="247.4" y1="454.6" x2="250.4" y2="454.6" stroke="#1e1e1e" stroke-width="1.1"/>
<text x="244.4" y="457.48" font-size="8" text-anchor="end" fill="#1e1e1e" textLength="9.4" lengthAdjust="spacingAndGlyphs" stroke="#1e1e1e" stroke-width="0.22" style="">0.0</text>
<text x="270.9" y="468.8" font-size="9.6" text-anchor="middle" fill="#1e1e1e" textLength="39.4" lengthAdjust="spacingAndGlyphs" stroke="#1e1e1e" stroke-width="0.08" style="">pre-pro B</text>
<line x1="260.8" y1="383.1" x2="280.1" y2="383.1" stroke="#444" stroke-width="1.3"/>
<text x="270.4" y="382.6" font-size="8" text-anchor="middle" fill="#1e1e1e" textLength="12.3" lengthAdjust="spacingAndGlyphs" stroke="#1e1e1e" stroke-width="0.22" style="">****</text>
<text transform="translate(227.5 414) rotate(-90)" x="0" y="0" font-size="10.2" text-anchor="middle" fill="#1e1e1e" textLength="73" lengthAdjust="spacingAndGlyphs" stroke="#1e1e1e" stroke-width="0.08" style="">Fold upregulation</text>
<rect x="341.5" y="420.6" width="12.4" height="33.9" fill="#a3062c"/>
<line x1="347.7" y1="408.3" x2="347.7" y2="420.6" stroke="#a3062c" stroke-width="1.1"/>
<line x1="344.4" y1="408.3" x2="351" y2="408.3" stroke="#a3062c" stroke-width="1.1"/>
<line x1="347.7" y1="454.5" x2="347.7" y2="457.5" stroke="#1e1e1e" stroke-width="1.1"/>
<rect x="361.5" y="403.7" width="12.4" height="50.8" fill="#e3911e"/>
<line x1="367.7" y1="386.8" x2="367.7" y2="403.7" stroke="#e3911e" stroke-width="1.1"/>
<line x1="364.4" y1="386.8" x2="371" y2="386.8" stroke="#e3911e" stroke-width="1.1"/>
<line x1="367.7" y1="454.5" x2="367.7" y2="457.5" stroke="#1e1e1e" stroke-width="1.1"/>
<line x1="337.8" y1="374.4" x2="337.8" y2="455.1" stroke="#1e1e1e" stroke-width="1.25"/>
<line x1="334.6" y1="454.5" x2="377" y2="454.5" stroke="#1e1e1e" stroke-width="1.25"/>
<line x1="334.8" y1="378.5" x2="337.8" y2="378.5" stroke="#1e1e1e" stroke-width="1.1"/>
<text x="332.4" y="381.38" font-size="8" text-anchor="end" fill="#1e1e1e" textLength="9.4" lengthAdjust="spacingAndGlyphs" stroke="#1e1e1e" stroke-width="0.22" style="">2.5</text>
<line x1="334.8" y1="393.8" x2="337.8" y2="393.8" stroke="#1e1e1e" stroke-width="1.1"/>
<text x="332.4" y="396.68" font-size="8" text-anchor="end" fill="#1e1e1e" textLength="9.4" lengthAdjust="spacingAndGlyphs" stroke="#1e1e1e" stroke-width="0.22" style="">2.0</text>
<line x1="334.8" y1="408.8" x2="337.8" y2="408.8" stroke="#1e1e1e" stroke-width="1.1"/>
<text x="332.4" y="411.68" font-size="8" text-anchor="end" fill="#1e1e1e" textLength="9.4" lengthAdjust="spacingAndGlyphs" stroke="#1e1e1e" stroke-width="0.22" style="">1.5</text>
<line x1="334.8" y1="424" x2="337.8" y2="424" stroke="#1e1e1e" stroke-width="1.1"/>
<text x="332.4" y="426.88" font-size="8" text-anchor="end" fill="#1e1e1e" textLength="9.4" lengthAdjust="spacingAndGlyphs" stroke="#1e1e1e" stroke-width="0.22" style="">1.0</text>
<line x1="334.8" y1="439.2" x2="337.8" y2="439.2" stroke="#1e1e1e" stroke-width="1.1"/>
<text x="332.4" y="442.08" font-size="8" text-anchor="end" fill="#1e1e1e" textLength="9.4" lengthAdjust="spacingAndGlyphs" stroke="#1e1e1e" stroke-width="0.22" style="">0.5</text>
<line x1="334.8" y1="454.5" x2="337.8" y2="454.5" stroke="#1e1e1e" stroke-width="1.1"/>
<text x="332.4" y="457.38" font-size="8" text-anchor="end" fill="#1e1e1e" textLength="9.4" lengthAdjust="spacingAndGlyphs" stroke="#1e1e1e" stroke-width="0.22" style="">0.0</text>
<text x="358.3" y="469.4" font-size="9.6" text-anchor="middle" fill="#1e1e1e" textLength="21" lengthAdjust="spacingAndGlyphs" stroke="#1e1e1e" stroke-width="0.08" style="">pro B</text>
<line x1="348.3" y1="382.5" x2="368.6" y2="382.5" stroke="#444" stroke-width="1.3"/>
<text x="358.4" y="379.8" font-size="7.2" text-anchor="middle" fill="#1e1e1e" textLength="9.2" lengthAdjust="spacingAndGlyphs" stroke="#1e1e1e" stroke-width="0.22" style="">NS</text>
<text transform="translate(315.5 414.5) rotate(-90)" x="0" y="0" font-size="10.2" text-anchor="middle" fill="#1e1e1e" textLength="72.5" lengthAdjust="spacingAndGlyphs" stroke="#1e1e1e" stroke-width="0.08" style="">Fold upregulation</text>
<rect x="391.6" y="405.6" width="6.3" height="6" fill="#a3062c"/>
<rect x="391.6" y="416.9" width="6.3" height="5.8" fill="#e3911e"/>
<text x="400.8" y="411.3" font-size="7.6" text-anchor="start" fill="#1e1e1e" textLength="25.4" lengthAdjust="spacingAndGlyphs" stroke="#1e1e1e" stroke-width="0.1" style="">BM only</text>
<text x="400.8" y="422.4" font-size="7.6" text-anchor="start" fill="#1e1e1e" textLength="33.4" lengthAdjust="spacingAndGlyphs" stroke="#1e1e1e" stroke-width="0.1" style="">BM+T cells</text>
<text x="299.5" y="504" font-size="9.2" text-anchor="middle" fill="#1e1e1e" textLength="19.9" lengthAdjust="spacingAndGlyphs" stroke="#1e1e1e" stroke-width="0.08" style="font-style:italic;">Pax5</text>
<rect x="254" y="545.2" width="12.9" height="51.4" fill="#e3911e"/>
<line x1="260.45" y1="537.5" x2="260.45" y2="545.2" stroke="#e3911e" stroke-width="1.1"/>
<line x1="257.15" y1="537.5" x2="263.75" y2="537.5" stroke="#e3911e" stroke-width="1.1"/>
<line x1="260.45" y1="596.6" x2="260.45" y2="599.6" stroke="#1e1e1e" stroke-width="1.1"/>
<rect x="273.5" y="568" width="12.9" height="28.6" fill="#a3062c"/>
<line x1="279.95" y1="563.6" x2="279.95" y2="568" stroke="#a3062c" stroke-width="1.1"/>
<line x1="276.65" y1="563.6" x2="283.25" y2="563.6" stroke="#a3062c" stroke-width="1.1"/>
<line x1="279.95" y1="596.6" x2="279.95" y2="599.6" stroke="#1e1e1e" stroke-width="1.1"/>
<line x1="250.4" y1="518.2" x2="250.4" y2="597.2" stroke="#1e1e1e" stroke-width="1.25"/>
<line x1="247.2" y1="596.6" x2="290.7" y2="596.6" stroke="#1e1e1e" stroke-width="1.25"/>
<line x1="247.4" y1="522" x2="250.4" y2="522" stroke="#1e1e1e" stroke-width="1.1"/>
<text x="244.4" y="524.88" font-size="8" text-anchor="end" fill="#1e1e1e" textLength="9.4" lengthAdjust="spacingAndGlyphs" stroke="#1e1e1e" stroke-width="0.22" style="">1.5</text>
<line x1="247.4" y1="546.8" x2="250.4" y2="546.8" stroke="#1e1e1e" stroke-width="1.1"/>
<text x="244.4" y="549.68" font-size="8" text-anchor="end" fill="#1e1e1e" textLength="9.4" lengthAdjust="spacingAndGlyphs" stroke="#1e1e1e" stroke-width="0.22" style="">1.0</text>
<line x1="247.4" y1="571.8" x2="250.4" y2="571.8" stroke="#1e1e1e" stroke-width="1.1"/>
<text x="244.4" y="574.68" font-size="8" text-anchor="end" fill="#1e1e1e" textLength="9.4" lengthAdjust="spacingAndGlyphs" stroke="#1e1e1e" stroke-width="0.22" style="">0.5</text>
<line x1="247.4" y1="596.6" x2="250.4" y2="596.6" stroke="#1e1e1e" stroke-width="1.1"/>
<text x="244.4" y="599.48" font-size="8" text-anchor="end" fill="#1e1e1e" textLength="9.4" lengthAdjust="spacingAndGlyphs" stroke="#1e1e1e" stroke-width="0.22" style="">0.0</text>
<text x="270.8" y="610.6" font-size="9.6" text-anchor="middle" fill="#1e1e1e" textLength="22.2" lengthAdjust="spacingAndGlyphs" stroke="#1e1e1e" stroke-width="0.08" style="">pro B</text>
<line x1="263.7" y1="523.1" x2="283.6" y2="523.1" stroke="#444" stroke-width="1.3"/>
<text x="273.4" y="519.3" font-size="7.2" text-anchor="middle" fill="#1e1e1e" textLength="22" lengthAdjust="spacingAndGlyphs" stroke="#1e1e1e" stroke-width="0.22" style="">p=0.08</text>
<text transform="translate(227.5 556.8) rotate(-90)" x="0" y="0" font-size="10.2" text-anchor="middle" fill="#1e1e1e" textLength="72" lengthAdjust="spacingAndGlyphs" stroke="#1e1e1e" stroke-width="0.08" style="">Fold upregulation</text>
<rect x="341" y="542.3" width="13.2" height="54.2" fill="#e3911e"/>
<line x1="347.6" y1="526.2" x2="347.6" y2="542.3" stroke="#e3911e" stroke-width="1.1"/>
<line x1="344.3" y1="526.2" x2="350.9" y2="526.2" stroke="#e3911e" stroke-width="1.1"/>
<line x1="347.6" y1="596.5" x2="347.6" y2="599.5" stroke="#1e1e1e" stroke-width="1.1"/>
<rect x="360.5" y="560.8" width="13.3" height="35.7" fill="#a3062c"/>
<line x1="367.15" y1="548" x2="367.15" y2="560.8" stroke="#a3062c" stroke-width="1.1"/>
<line x1="363.85" y1="548" x2="370.45" y2="548" stroke="#a3062c" stroke-width="1.1"/>
<line x1="367.15" y1="596.5" x2="367.15" y2="599.5" stroke="#1e1e1e" stroke-width="1.1"/>
<line x1="336.9" y1="518" x2="336.9" y2="597.1" stroke="#1e1e1e" stroke-width="1.25"/>
<line x1="333.7" y1="596.5" x2="375.7" y2="596.5" stroke="#1e1e1e" stroke-width="1.25"/>
<line x1="333.9" y1="522.2" x2="336.9" y2="522.2" stroke="#1e1e1e" stroke-width="1.1"/>
<text x="332.2" y="525.08" font-size="8" text-anchor="end" fill="#1e1e1e" textLength="9.4" lengthAdjust="spacingAndGlyphs" stroke="#1e1e1e" stroke-width="0.22" style="">1.5</text>
<line x1="333.9" y1="547" x2="336.9" y2="547" stroke="#1e1e1e" stroke-width="1.1"/>
<text x="332.2" y="549.88" font-size="8" text-anchor="end" fill="#1e1e1e" textLength="9.4" lengthAdjust="spacingAndGlyphs" stroke="#1e1e1e" stroke-width="0.22" style="">1.0</text>
<line x1="333.9" y1="571.7" x2="336.9" y2="571.7" stroke="#1e1e1e" stroke-width="1.1"/>
<text x="332.2" y="574.58" font-size="8" text-anchor="end" fill="#1e1e1e" textLength="9.4" lengthAdjust="spacingAndGlyphs" stroke="#1e1e1e" stroke-width="0.22" style="">0.5</text>
<line x1="333.9" y1="596.5" x2="336.9" y2="596.5" stroke="#1e1e1e" stroke-width="1.1"/>
<text x="332.2" y="599.38" font-size="8" text-anchor="end" fill="#1e1e1e" textLength="9.4" lengthAdjust="spacingAndGlyphs" stroke="#1e1e1e" stroke-width="0.22" style="">0.0</text>
<text x="356.9" y="610.5" font-size="9.6" text-anchor="middle" fill="#1e1e1e" textLength="22.3" lengthAdjust="spacingAndGlyphs" stroke="#1e1e1e" stroke-width="0.08" style="">pre B</text>
<line x1="348" y1="522.7" x2="368" y2="522.7" stroke="#444" stroke-width="1.3"/>
<text x="357.6" y="519.5" font-size="7.2" text-anchor="middle" fill="#1e1e1e" textLength="8.4" lengthAdjust="spacingAndGlyphs" stroke="#1e1e1e" stroke-width="0.22" style="">NS</text>
<text transform="translate(315.2 556.7) rotate(-90)" x="0" y="0" font-size="10.2" text-anchor="middle" fill="#1e1e1e" textLength="72.6" lengthAdjust="spacingAndGlyphs" stroke="#1e1e1e" stroke-width="0.08" style="">Fold upregulation</text>
<rect x="391.8" y="548" width="7" height="6.3" fill="#a3062c"/>
<rect x="391.8" y="559.6" width="7" height="6.2" fill="#e3911e"/>
<text x="401" y="554.3" font-size="7.6" text-anchor="start" fill="#1e1e1e" textLength="25.4" lengthAdjust="spacingAndGlyphs" stroke="#1e1e1e" stroke-width="0.1" style="">BM only</text>
<text x="401" y="565.4" font-size="7.6" text-anchor="start" fill="#1e1e1e" textLength="33.4" lengthAdjust="spacingAndGlyphs" stroke="#1e1e1e" stroke-width="0.1" style="">BM+T cells</text>
<rect x="0" y="0" width="520" height="1.15" fill="#000"/>
<rect x="0" y="0" width="1.15" height="633" fill="#000"/>
<rect x="518.1" y="0" width="1.9" height="633" fill="#2a2a2a"/>
<rect x="0" y="631.5" width="520" height="1.5" fill="#000"/>
</svg></body></html>
